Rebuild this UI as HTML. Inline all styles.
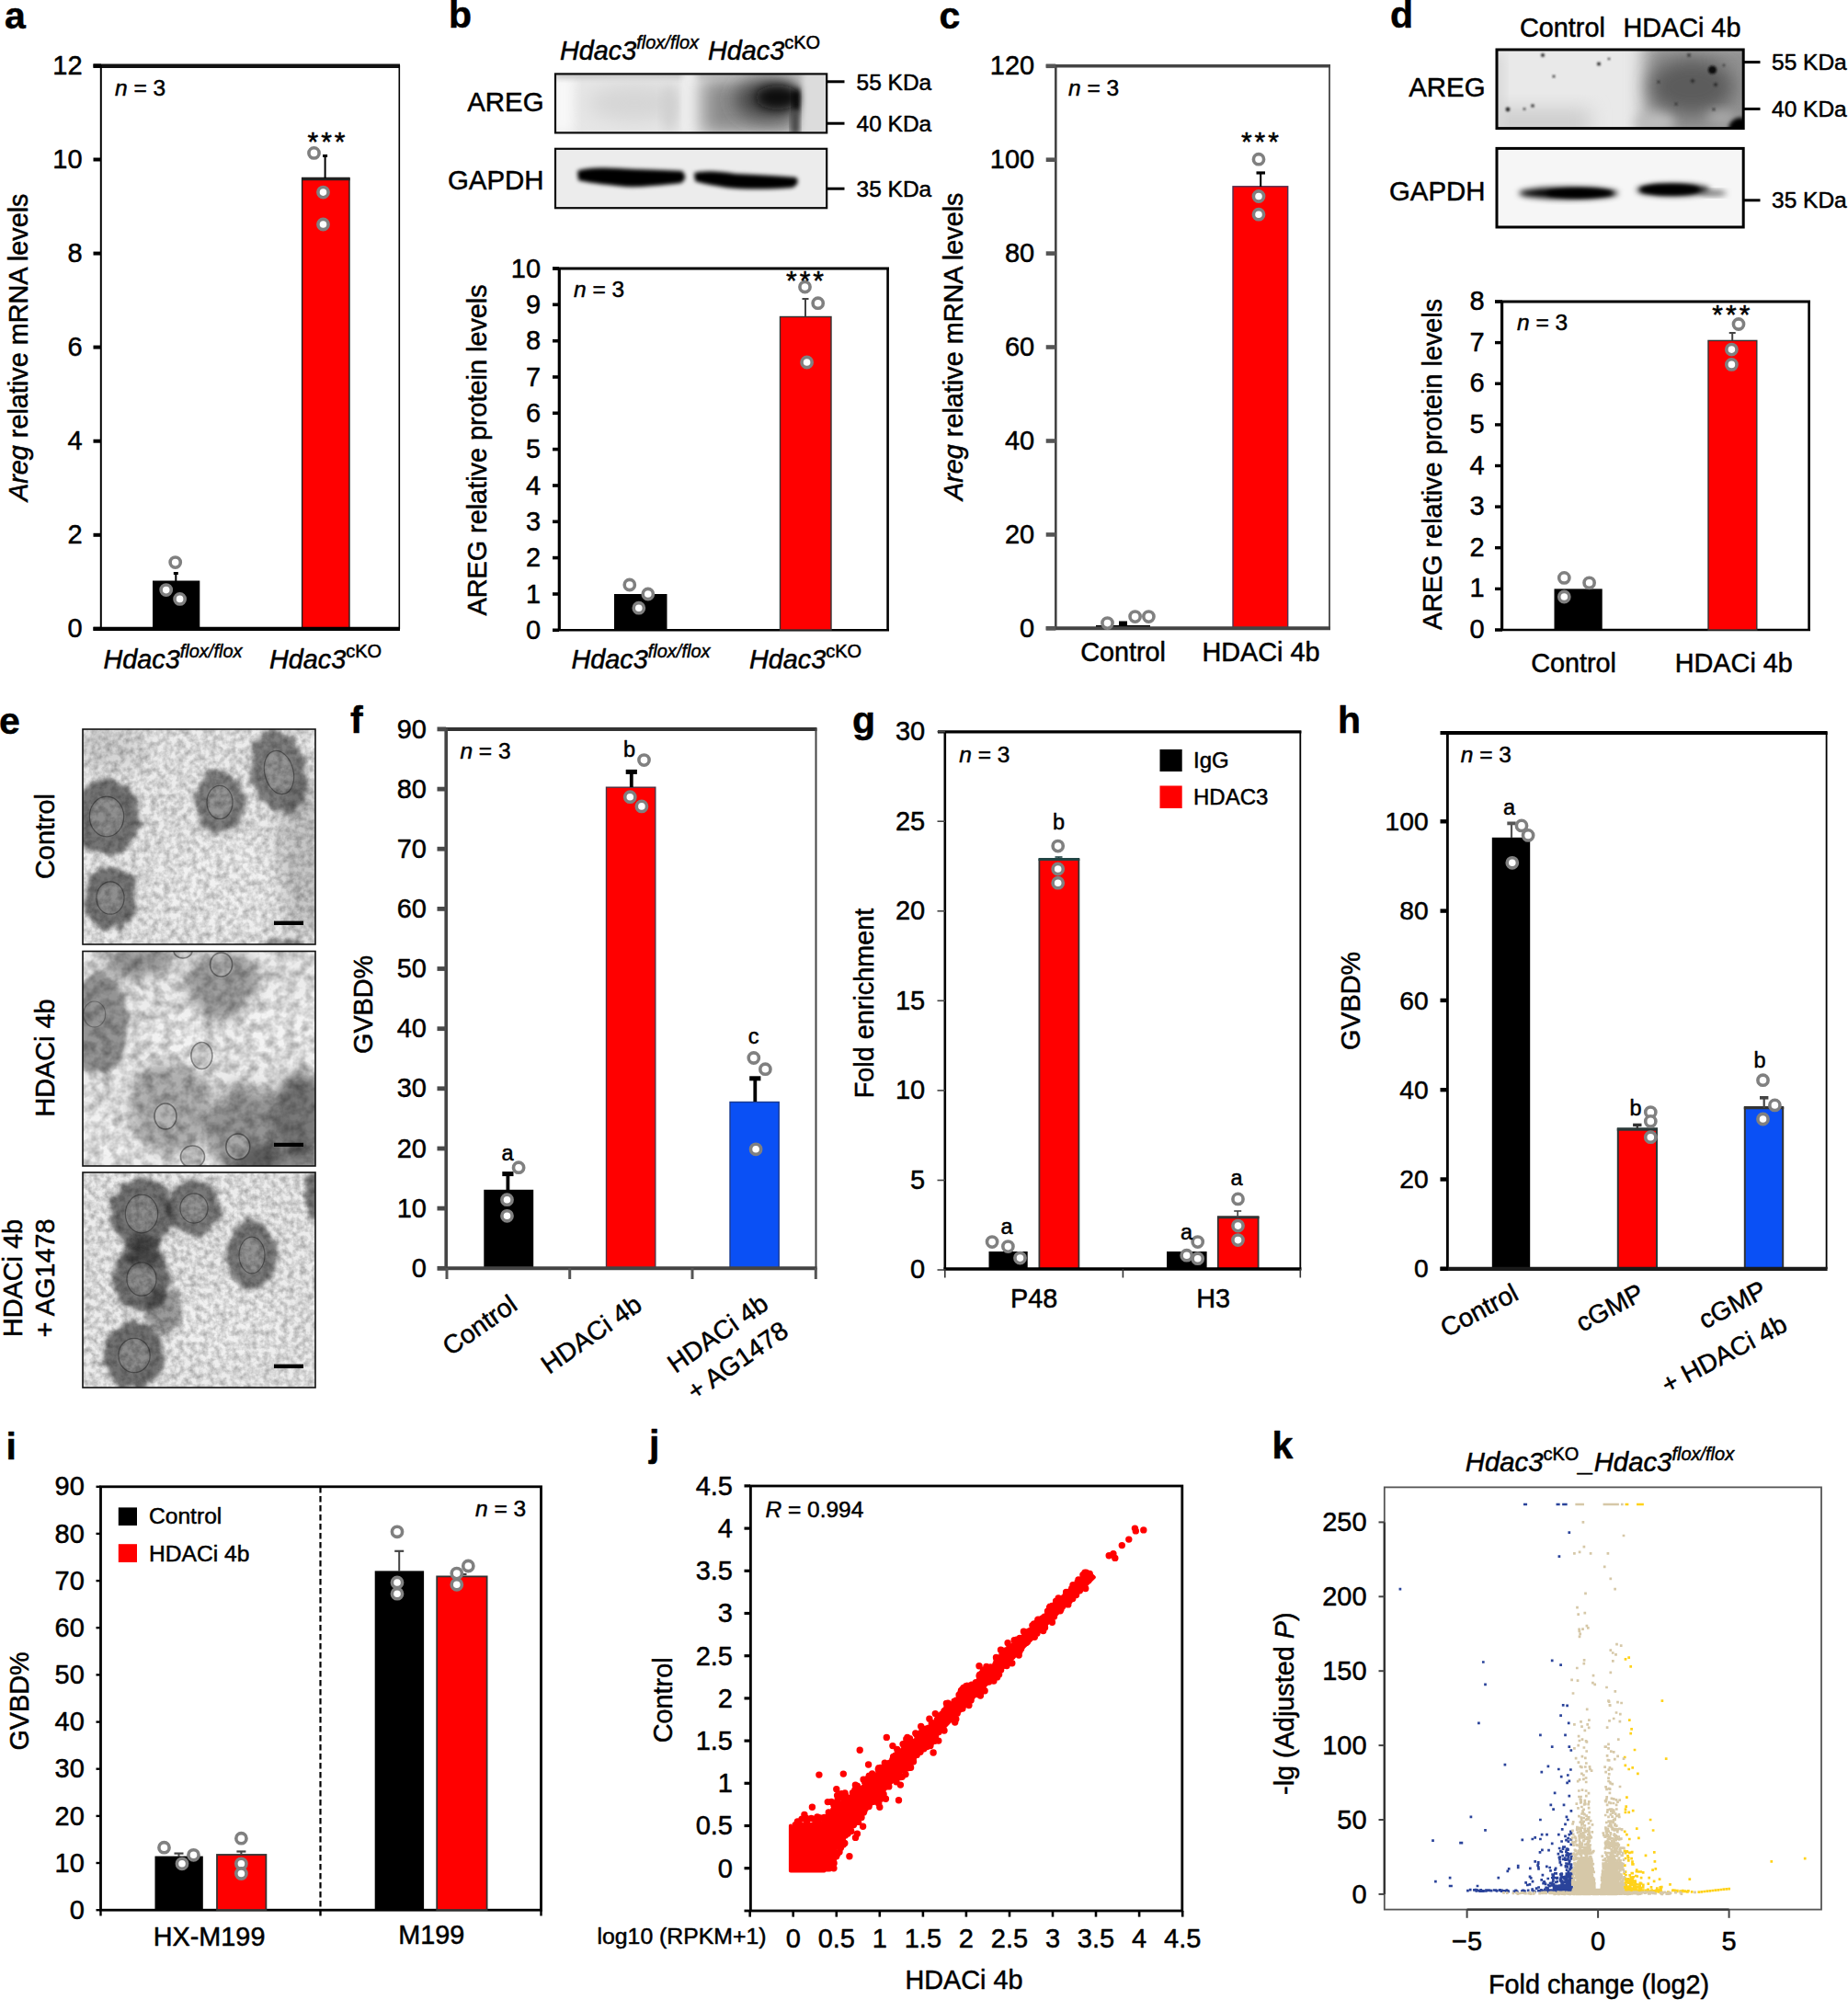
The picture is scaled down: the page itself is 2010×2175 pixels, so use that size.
<!DOCTYPE html>
<html lang="en"><head><meta charset="utf-8"><title>Figure</title>
<style>
html,body{margin:0;padding:0;background:#fff;}
body{width:2010px;height:2175px;overflow:hidden;}
svg{display:block;font-family:"Liberation Sans", sans-serif;}
text{stroke:#000;stroke-width:.5px;stroke-linejoin:round;}
</style></head><body>
<svg width="2010" height="2175" viewBox="0 0 2010 2175">
<rect width="2010" height="2175" fill="#fff"/>
<defs>
<filter id="bl2" x="-20%" y="-50%" width="140%" height="200%"><feGaussianBlur stdDeviation="2"/></filter>
<filter id="bl3" x="-20%" y="-50%" width="140%" height="200%"><feGaussianBlur stdDeviation="3.2"/></filter>
<filter id="bl6" x="-30%" y="-50%" width="160%" height="200%"><feGaussianBlur stdDeviation="6"/></filter>
<filter id="bl10" x="-30%" y="-50%" width="160%" height="200%"><feGaussianBlur stdDeviation="10"/></filter>
<filter id="bl1" x="-50%" y="-50%" width="200%" height="200%"><feGaussianBlur stdDeviation="1"/></filter>
<clipPath id="cpB1"><rect x="604" y="80.4" width="295.2" height="64"/></clipPath>
<clipPath id="cpB2"><rect x="604" y="161.8" width="295.2" height="64.4"/></clipPath>
<clipPath id="cpD1"><rect x="1628" y="54" width="268.2" height="85.6"/></clipPath>
<clipPath id="cpD2"><rect x="1628" y="161.4" width="268.2" height="85.6"/></clipPath>
</defs>
<text x="5.0" y="31.0" font-size="41" text-anchor="start" font-weight="bold" fill="#000">a</text>
<line x1="101.5" y1="71.7" x2="435.0" y2="71.7" stroke="#111" stroke-width="4.6"/>
<line x1="109.8" y1="71.0" x2="109.8" y2="684.0" stroke="#000" stroke-width="2"/>
<line x1="434.3" y1="71.0" x2="434.3" y2="684.0" stroke="#000" stroke-width="1.6"/>
<rect x="166.0" y="631.5" width="51.3" height="52.5" fill="#000"/>
<rect x="328.6" y="194.0" width="51.4" height="490.0" fill="#f00" stroke="#222" stroke-width="1.4"/>
<line x1="328.0" y1="194.5" x2="380.6" y2="194.5" stroke="#222" stroke-width="3.4"/>
<line x1="101.5" y1="683.8" x2="435.0" y2="683.8" stroke="#000" stroke-width="4.2"/>
<line x1="101.5" y1="683.8" x2="110.0" y2="683.8" stroke="#000" stroke-width="4"/>
<line x1="101.5" y1="581.8" x2="110.0" y2="581.8" stroke="#000" stroke-width="4"/>
<line x1="101.5" y1="479.7" x2="110.0" y2="479.7" stroke="#000" stroke-width="4"/>
<line x1="101.5" y1="377.6" x2="110.0" y2="377.6" stroke="#000" stroke-width="4"/>
<line x1="101.5" y1="275.6" x2="110.0" y2="275.6" stroke="#000" stroke-width="4"/>
<line x1="101.5" y1="173.5" x2="110.0" y2="173.5" stroke="#000" stroke-width="4"/>
<line x1="101.5" y1="71.5" x2="110.0" y2="71.5" stroke="#000" stroke-width="4"/>
<text x="89.6" y="693.4" font-size="29" text-anchor="end" fill="#000">0</text>
<text x="89.6" y="591.4" font-size="29" text-anchor="end" fill="#000">2</text>
<text x="89.6" y="489.3" font-size="29" text-anchor="end" fill="#000">4</text>
<text x="89.6" y="387.2" font-size="29" text-anchor="end" fill="#000">6</text>
<text x="89.6" y="285.2" font-size="29" text-anchor="end" fill="#000">8</text>
<text x="89.6" y="183.1" font-size="29" text-anchor="end" fill="#000">10</text>
<text x="89.6" y="81.1" font-size="29" text-anchor="end" fill="#000">12</text>
<text x="125.0" y="103.6" font-size="24.5" text-anchor="start" fill="#000"><tspan font-style="italic">n</tspan> = 3</text>
<line x1="191.3" y1="623.5" x2="191.3" y2="632.0" stroke="#000" stroke-width="2"/>
<line x1="188.8" y1="623.5" x2="193.8" y2="623.5" stroke="#000" stroke-width="3"/>
<line x1="353.6" y1="169.5" x2="353.6" y2="194.0" stroke="#000" stroke-width="2"/>
<line x1="351.1" y1="169.5" x2="356.1" y2="169.5" stroke="#000" stroke-width="3"/>
<circle cx="190.7" cy="611.6" r="5.6" fill="#fff" stroke="#808080" stroke-width="3.6"/>
<circle cx="180.7" cy="641.6" r="5.6" fill="#fff" stroke="#808080" stroke-width="3.6"/>
<circle cx="195.6" cy="651.4" r="5.6" fill="#fff" stroke="#808080" stroke-width="3.6"/>
<circle cx="341.5" cy="166.4" r="5.6" fill="#fff" stroke="#808080" stroke-width="3.6"/>
<circle cx="351.5" cy="209.1" r="5.6" fill="#fff" stroke="#808080" stroke-width="3.6"/>
<circle cx="351.5" cy="244.0" r="5.6" fill="#fff" stroke="#808080" stroke-width="3.6"/>
<text x="356.5" y="164.3" font-size="30" text-anchor="middle" fill="#000" letter-spacing="3">***</text>
<text x="112.5" y="727.0" font-size="28.8" text-anchor="start" font-style="italic" fill="#000">Hdac3<tspan font-size="20" dy="-12">flox/flox</tspan></text>
<text x="293.0" y="727.0" font-size="28.8" text-anchor="start" font-style="italic" fill="#000">Hdac3<tspan font-size="20" dy="-12" font-style="normal">cKO</tspan></text>
<text x="0" y="0" transform="translate(29.5 545.0) rotate(-90)" font-size="28.8" text-anchor="start" fill="#000"><tspan font-style="italic">Areg</tspan> relative mRNA levels</text>
<text x="488.0" y="30.0" font-size="41" text-anchor="start" font-weight="bold" fill="#000">b</text>
<text x="609.0" y="65.0" font-size="28.8" text-anchor="start" font-style="italic" fill="#000">Hdac3<tspan font-size="20" dy="-12">flox/flox</tspan></text>
<text x="770.0" y="65.0" font-size="28.8" text-anchor="start" font-style="italic" fill="#000">Hdac3<tspan font-size="20" dy="-12" font-style="normal">cKO</tspan></text>
<g clip-path="url(#cpB1)">
<rect x="604" y="80" width="296" height="65" fill="#e6e6e6"/>
<rect x="598" y="80" width="26" height="65" fill="#f8f8f8" filter="url(#bl6)"/>
<rect x="604" y="76" width="296" height="9" fill="#c4c4c4" filter="url(#bl3)"/>
<ellipse cx="690" cy="112" rx="50" ry="20" fill="#d6d6d6" filter="url(#bl10)"/>
<ellipse cx="728" cy="118" rx="8" ry="26" fill="#cfcfcf" filter="url(#bl6)"/>
<rect x="742" y="80" width="16" height="65" fill="#efefef" filter="url(#bl3)"/>
<rect x="764" y="86" width="106" height="60" fill="#8c8c8c" filter="url(#bl10)"/>
<ellipse cx="835" cy="108" rx="36" ry="22" fill="#444" filter="url(#bl10)"/>
<ellipse cx="846" cy="106" rx="24" ry="13" fill="#0c0c0c" filter="url(#bl6)"/>
<rect x="862" y="98" width="8" height="24" fill="#000" filter="url(#bl3)"/>
<rect x="860" y="120" width="10" height="26" fill="#444" filter="url(#bl3)"/>
<rect x="874" y="78" width="28" height="70" fill="#dcdcdc" filter="url(#bl3)"/>
</g>
<rect x="604.0" y="80.4" width="295.2" height="64.0" fill="none" stroke="#0a0a0a" stroke-width="2.2"/>
<g clip-path="url(#cpB2)">
<rect x="604" y="161" width="296" height="66" fill="#ececec"/>
<path d="M628 186 Q640 180 690 184 Q725 185 742 186 Q749 193 741 199 Q700 204 680 203 Q640 199 629 196 Z" fill="#000" filter="url(#bl2)"/>
<path d="M755 188 Q770 184 800 189 Q845 191 866 193 Q871 199 862 204 Q820 207 790 204 Q765 200 756 197 Z" fill="#000" filter="url(#bl2)"/>
</g>
<rect x="604.0" y="161.8" width="295.2" height="64.4" fill="none" stroke="#0a0a0a" stroke-width="2.2"/>
<text x="591.5" y="120.5" font-size="29.4" text-anchor="end" fill="#000">AREG</text>
<text x="591.5" y="206.0" font-size="29.4" text-anchor="end" fill="#000">GAPDH</text>
<line x1="899.0" y1="88.8" x2="918.5" y2="88.8" stroke="#000" stroke-width="3"/>
<text x="931.5" y="97.8" font-size="24.5" text-anchor="start" fill="#000">55 KDa</text>
<line x1="899.0" y1="134.2" x2="918.5" y2="134.2" stroke="#000" stroke-width="3"/>
<text x="931.5" y="143.2" font-size="24.5" text-anchor="start" fill="#000">40 KDa</text>
<line x1="899.0" y1="205.2" x2="918.5" y2="205.2" stroke="#000" stroke-width="3"/>
<text x="931.5" y="214.2" font-size="24.5" text-anchor="start" fill="#000">35 KDa</text>
<line x1="601.0" y1="292.0" x2="967.0" y2="292.0" stroke="#000" stroke-width="2.8"/>
<line x1="608.3" y1="291.0" x2="608.3" y2="686.0" stroke="#000" stroke-width="3.2"/>
<line x1="965.6" y1="291.0" x2="965.6" y2="686.0" stroke="#000" stroke-width="2.6"/>
<line x1="601.0" y1="685.3" x2="967.0" y2="685.3" stroke="#000" stroke-width="2.4"/>
<rect x="668.0" y="646.0" width="57.5" height="39.0" fill="#000"/>
<rect x="848.5" y="344.5" width="55.5" height="340.5" fill="#f00" stroke="#333" stroke-width="1.4"/>
<line x1="601.0" y1="685.3" x2="608.0" y2="685.3" stroke="#000" stroke-width="3.6"/>
<line x1="601.0" y1="646.0" x2="608.0" y2="646.0" stroke="#000" stroke-width="3.6"/>
<line x1="601.0" y1="606.6" x2="608.0" y2="606.6" stroke="#000" stroke-width="3.6"/>
<line x1="601.0" y1="567.3" x2="608.0" y2="567.3" stroke="#000" stroke-width="3.6"/>
<line x1="601.0" y1="528.0" x2="608.0" y2="528.0" stroke="#000" stroke-width="3.6"/>
<line x1="601.0" y1="488.6" x2="608.0" y2="488.6" stroke="#000" stroke-width="3.6"/>
<line x1="601.0" y1="449.3" x2="608.0" y2="449.3" stroke="#000" stroke-width="3.6"/>
<line x1="601.0" y1="410.0" x2="608.0" y2="410.0" stroke="#000" stroke-width="3.6"/>
<line x1="601.0" y1="370.7" x2="608.0" y2="370.7" stroke="#000" stroke-width="3.6"/>
<line x1="601.0" y1="331.3" x2="608.0" y2="331.3" stroke="#000" stroke-width="3.6"/>
<line x1="601.0" y1="292.0" x2="608.0" y2="292.0" stroke="#000" stroke-width="3.6"/>
<text x="588.1" y="694.9" font-size="29" text-anchor="end" fill="#000">0</text>
<text x="588.1" y="655.6" font-size="29" text-anchor="end" fill="#000">1</text>
<text x="588.1" y="616.2" font-size="29" text-anchor="end" fill="#000">2</text>
<text x="588.1" y="576.9" font-size="29" text-anchor="end" fill="#000">3</text>
<text x="588.1" y="537.6" font-size="29" text-anchor="end" fill="#000">4</text>
<text x="588.1" y="498.2" font-size="29" text-anchor="end" fill="#000">5</text>
<text x="588.1" y="458.9" font-size="29" text-anchor="end" fill="#000">6</text>
<text x="588.1" y="419.6" font-size="29" text-anchor="end" fill="#000">7</text>
<text x="588.1" y="380.3" font-size="29" text-anchor="end" fill="#000">8</text>
<text x="588.1" y="340.9" font-size="29" text-anchor="end" fill="#000">9</text>
<text x="588.1" y="301.6" font-size="29" text-anchor="end" fill="#000">10</text>
<text x="624.0" y="322.7" font-size="24.5" text-anchor="start" fill="#000"><tspan font-style="italic">n</tspan> = 3</text>
<line x1="876.0" y1="325.0" x2="876.0" y2="344.0" stroke="#444" stroke-width="2"/>
<line x1="872.5" y1="325.0" x2="879.5" y2="325.0" stroke="#444" stroke-width="2"/>
<circle cx="684.8" cy="636.0" r="5.6" fill="#fff" stroke="#808080" stroke-width="3.6"/>
<circle cx="704.8" cy="646.0" r="5.6" fill="#fff" stroke="#808080" stroke-width="3.6"/>
<circle cx="694.8" cy="661.2" r="5.6" fill="#fff" stroke="#808080" stroke-width="3.6"/>
<circle cx="875.5" cy="312.0" r="5.6" fill="#fff" stroke="#808080" stroke-width="3.6"/>
<circle cx="889.7" cy="329.7" r="5.6" fill="#fff" stroke="#808080" stroke-width="3.6"/>
<circle cx="877.6" cy="394.0" r="5.6" fill="#fff" stroke="#808080" stroke-width="3.6"/>
<text x="877.0" y="315.3" font-size="30" text-anchor="middle" fill="#000" letter-spacing="3">***</text>
<text x="621.5" y="726.5" font-size="28.8" text-anchor="start" font-style="italic" fill="#000">Hdac3<tspan font-size="20" dy="-12">flox/flox</tspan></text>
<text x="815.0" y="726.5" font-size="28.8" text-anchor="start" font-style="italic" fill="#000">Hdac3<tspan font-size="20" dy="-12" font-style="normal">cKO</tspan></text>
<text x="0" y="0" transform="translate(528.5 669.5) rotate(-90)" font-size="28.8" text-anchor="start" fill="#000">AREG relative protein levels</text>
<text x="1021.5" y="31.0" font-size="41" text-anchor="start" font-weight="bold" fill="#000">c</text>
<line x1="1137.7" y1="71.8" x2="1447.0" y2="71.8" stroke="#444" stroke-width="3.6"/>
<line x1="1148.3" y1="71.0" x2="1148.3" y2="684.0" stroke="#444" stroke-width="2.6"/>
<line x1="1446.0" y1="71.0" x2="1446.0" y2="684.0" stroke="#444" stroke-width="1.8"/>
<rect x="1341.0" y="202.8" width="59.7" height="480.2" fill="#f00" stroke="#503050" stroke-width="1.4"/>
<rect x="1192.0" y="680.0" width="59.0" height="3.0" fill="#000"/>
<rect x="1217.0" y="675.5" width="9.0" height="5.5" fill="#000"/>
<line x1="1137.7" y1="683.3" x2="1447.0" y2="683.3" stroke="#444" stroke-width="4"/>
<line x1="1137.7" y1="683.3" x2="1148.3" y2="683.3" stroke="#555" stroke-width="4.6"/>
<line x1="1137.7" y1="581.4" x2="1148.3" y2="581.4" stroke="#555" stroke-width="4.6"/>
<line x1="1137.7" y1="479.5" x2="1148.3" y2="479.5" stroke="#555" stroke-width="4.6"/>
<line x1="1137.7" y1="377.5" x2="1148.3" y2="377.5" stroke="#555" stroke-width="4.6"/>
<line x1="1137.7" y1="275.6" x2="1148.3" y2="275.6" stroke="#555" stroke-width="4.6"/>
<line x1="1137.7" y1="173.7" x2="1148.3" y2="173.7" stroke="#555" stroke-width="4.6"/>
<line x1="1137.7" y1="71.8" x2="1148.3" y2="71.8" stroke="#555" stroke-width="4.6"/>
<text x="1125.2" y="692.9" font-size="29" text-anchor="end" fill="#000">0</text>
<text x="1125.2" y="591.0" font-size="29" text-anchor="end" fill="#000">20</text>
<text x="1125.2" y="489.1" font-size="29" text-anchor="end" fill="#000">40</text>
<text x="1125.2" y="387.1" font-size="29" text-anchor="end" fill="#000">60</text>
<text x="1125.2" y="285.2" font-size="29" text-anchor="end" fill="#000">80</text>
<text x="1125.2" y="183.3" font-size="29" text-anchor="end" fill="#000">100</text>
<text x="1125.2" y="81.4" font-size="29" text-anchor="end" fill="#000">120</text>
<text x="1162.0" y="103.6" font-size="24.5" text-anchor="start" fill="#000"><tspan font-style="italic">n</tspan> = 3</text>
<line x1="1371.2" y1="188.0" x2="1371.2" y2="203.0" stroke="#000" stroke-width="2"/>
<line x1="1366.5" y1="188.0" x2="1376.0" y2="188.0" stroke="#000" stroke-width="3.2"/>
<circle cx="1204.5" cy="677.6" r="5.6" fill="#fff" stroke="#808080" stroke-width="3.6"/>
<circle cx="1234.6" cy="670.6" r="5.6" fill="#fff" stroke="#808080" stroke-width="3.6"/>
<circle cx="1249.4" cy="670.6" r="5.6" fill="#fff" stroke="#808080" stroke-width="3.6"/>
<circle cx="1369.0" cy="173.2" r="5.6" fill="#fff" stroke="#808080" stroke-width="3.6"/>
<circle cx="1369.0" cy="213.5" r="5.6" fill="#fff" stroke="#808080" stroke-width="3.6"/>
<circle cx="1369.0" cy="233.2" r="5.6" fill="#fff" stroke="#808080" stroke-width="3.6"/>
<text x="1371.9" y="164.3" font-size="30" text-anchor="middle" fill="#000" letter-spacing="3">***</text>
<text x="1221.6" y="719.0" font-size="28.8" text-anchor="middle" fill="#000">Control</text>
<text x="1371.5" y="719.0" font-size="28.8" text-anchor="middle" fill="#000">HDACi 4b</text>
<text x="0" y="0" transform="translate(1046.5 544.0) rotate(-90)" font-size="28.8" text-anchor="start" fill="#000"><tspan font-style="italic">Areg</tspan> relative mRNA levels</text>
<text x="1512.0" y="30.0" font-size="41" text-anchor="start" font-weight="bold" fill="#000">d</text>
<text x="1699.4" y="40.0" font-size="28.8" text-anchor="middle" fill="#000">Control</text>
<text x="1829.4" y="40.0" font-size="28.8" text-anchor="middle" fill="#000">HDACi 4b</text>
<g clip-path="url(#cpD1)">
<rect x="1627" y="52" width="271" height="90" fill="#e9e9e9"/>
<rect x="1620" y="118" width="110" height="30" fill="#cdcdcd" filter="url(#bl10)"/>
<rect x="1620" y="60" width="16" height="80" fill="#d8d8d8" filter="url(#bl6)"/>
<rect x="1788" y="44" width="125" height="110" fill="#909090" filter="url(#bl10)"/>
<ellipse cx="1840" cy="94" rx="46" ry="30" fill="#5c5c5c" filter="url(#bl10)"/>
<ellipse cx="1800" cy="134" rx="22" ry="12" fill="#bdbdbd" filter="url(#bl6)"/>
<ellipse cx="1872" cy="128" rx="16" ry="8" fill="#a8a8a8" filter="url(#bl6)"/>
<circle cx="1862.5" cy="76" r="4.6" fill="#111" filter="url(#bl1)"/>
<circle cx="1893" cy="141" r="13" fill="#000" filter="url(#bl2)"/>
<circle cx="1640" cy="119" r="2.4" fill="#2a2a2a" filter="url(#bl1)"/>
<circle cx="1667" cy="115" r="1.8" fill="#2a2a2a" filter="url(#bl1)"/>
<circle cx="1658" cy="118.5" r="1.3" fill="#2a2a2a" filter="url(#bl1)"/>
<circle cx="1739" cy="69.5" r="2.0" fill="#2a2a2a" filter="url(#bl1)"/>
<circle cx="1690" cy="83" r="1.5" fill="#2a2a2a" filter="url(#bl1)"/>
<circle cx="1678" cy="60" r="2.0" fill="#2a2a2a" filter="url(#bl1)"/>
<circle cx="1750" cy="64" r="1.3" fill="#2a2a2a" filter="url(#bl1)"/>
<circle cx="1804" cy="89" r="1.5" fill="#2a2a2a" filter="url(#bl1)"/>
<circle cx="1841" cy="88" r="2.0" fill="#2a2a2a" filter="url(#bl1)"/>
<circle cx="1866" cy="92" r="2.0" fill="#2a2a2a" filter="url(#bl1)"/>
<circle cx="1837" cy="60" r="1.8" fill="#2a2a2a" filter="url(#bl1)"/>
<circle cx="1823" cy="113" r="1.5" fill="#2a2a2a" filter="url(#bl1)"/>
<circle cx="1864" cy="119" r="1.4" fill="#2a2a2a" filter="url(#bl1)"/>
<circle cx="1875" cy="71" r="1.2" fill="#2a2a2a" filter="url(#bl1)"/>
</g>
<rect x="1628.0" y="54.0" width="268.2" height="85.6" fill="none" stroke="#000" stroke-width="3"/>
<g clip-path="url(#cpD2)">
<rect x="1627" y="160" width="271" height="90" fill="#f6f6f6"/>
<ellipse cx="1706" cy="210" rx="54" ry="6.5" fill="#000" filter="url(#bl3)"/>
<ellipse cx="1718" cy="210" rx="36" ry="5" fill="#000" filter="url(#bl2)"/>
<ellipse cx="1820" cy="206.5" rx="40" ry="6.5" fill="#000" filter="url(#bl3)"/>
<ellipse cx="1816" cy="206" rx="32" ry="5.6" fill="#000" filter="url(#bl2)"/>
<ellipse cx="1864" cy="210" rx="14" ry="3" fill="#6a6a6a" filter="url(#bl3)"/>
</g>
<rect x="1628.0" y="161.4" width="268.2" height="85.6" fill="none" stroke="#000" stroke-width="3"/>
<text x="1615.5" y="105.0" font-size="29.4" text-anchor="end" fill="#000">AREG</text>
<text x="1615.5" y="217.8" font-size="29.4" text-anchor="end" fill="#000">GAPDH</text>
<line x1="1897.0" y1="67.6" x2="1914.5" y2="67.6" stroke="#000" stroke-width="3"/>
<text x="1927.0" y="76.2" font-size="24.5" text-anchor="start" fill="#000">55 KDa</text>
<line x1="1897.0" y1="118.5" x2="1914.5" y2="118.5" stroke="#000" stroke-width="3"/>
<text x="1927.0" y="127.1" font-size="24.5" text-anchor="start" fill="#000">40 KDa</text>
<line x1="1897.0" y1="217.8" x2="1914.5" y2="217.8" stroke="#000" stroke-width="3"/>
<text x="1927.0" y="226.4" font-size="24.5" text-anchor="start" fill="#000">35 KDa</text>
<line x1="1626.0" y1="327.9" x2="1969.0" y2="327.9" stroke="#000" stroke-width="3"/>
<line x1="1633.6" y1="327.0" x2="1633.6" y2="686.0" stroke="#000" stroke-width="3.2"/>
<line x1="1967.6" y1="327.0" x2="1967.6" y2="686.0" stroke="#000" stroke-width="2.6"/>
<line x1="1626.0" y1="685.0" x2="1969.0" y2="685.0" stroke="#000" stroke-width="2.6"/>
<rect x="1690.5" y="640.4" width="52.2" height="44.6" fill="#000"/>
<rect x="1858.0" y="370.4" width="52.8" height="314.6" fill="#f00" stroke="#333" stroke-width="1.4"/>
<line x1="1626.0" y1="685.0" x2="1634.0" y2="685.0" stroke="#000" stroke-width="3.4"/>
<line x1="1626.0" y1="640.4" x2="1634.0" y2="640.4" stroke="#000" stroke-width="3.4"/>
<line x1="1626.0" y1="595.7" x2="1634.0" y2="595.7" stroke="#000" stroke-width="3.4"/>
<line x1="1626.0" y1="551.1" x2="1634.0" y2="551.1" stroke="#000" stroke-width="3.4"/>
<line x1="1626.0" y1="506.5" x2="1634.0" y2="506.5" stroke="#000" stroke-width="3.4"/>
<line x1="1626.0" y1="461.9" x2="1634.0" y2="461.9" stroke="#000" stroke-width="3.4"/>
<line x1="1626.0" y1="417.2" x2="1634.0" y2="417.2" stroke="#000" stroke-width="3.4"/>
<line x1="1626.0" y1="372.6" x2="1634.0" y2="372.6" stroke="#000" stroke-width="3.4"/>
<line x1="1626.0" y1="328.0" x2="1634.0" y2="328.0" stroke="#000" stroke-width="3.4"/>
<text x="1614.6" y="694.0" font-size="29" text-anchor="end" fill="#000">0</text>
<text x="1614.6" y="649.4" font-size="29" text-anchor="end" fill="#000">1</text>
<text x="1614.6" y="604.7" font-size="29" text-anchor="end" fill="#000">2</text>
<text x="1614.6" y="560.1" font-size="29" text-anchor="end" fill="#000">3</text>
<text x="1614.6" y="515.5" font-size="29" text-anchor="end" fill="#000">4</text>
<text x="1614.6" y="470.9" font-size="29" text-anchor="end" fill="#000">5</text>
<text x="1614.6" y="426.2" font-size="29" text-anchor="end" fill="#000">6</text>
<text x="1614.6" y="381.6" font-size="29" text-anchor="end" fill="#000">7</text>
<text x="1614.6" y="337.0" font-size="29" text-anchor="end" fill="#000">8</text>
<text x="1650.0" y="359.3" font-size="24.5" text-anchor="start" fill="#000"><tspan font-style="italic">n</tspan> = 3</text>
<line x1="1884.2" y1="362.0" x2="1884.2" y2="370.0" stroke="#444" stroke-width="2"/>
<line x1="1880.7" y1="362.0" x2="1887.7" y2="362.0" stroke="#444" stroke-width="2"/>
<circle cx="1701.3" cy="628.4" r="5.6" fill="#fff" stroke="#808080" stroke-width="3.6"/>
<circle cx="1728.6" cy="633.8" r="5.6" fill="#fff" stroke="#808080" stroke-width="3.6"/>
<circle cx="1701.3" cy="649.0" r="5.6" fill="#fff" stroke="#808080" stroke-width="3.6"/>
<circle cx="1891.0" cy="352.5" r="5.6" fill="#fff" stroke="#808080" stroke-width="3.6"/>
<circle cx="1883.4" cy="380.1" r="5.6" fill="#fff" stroke="#808080" stroke-width="3.6"/>
<circle cx="1883.4" cy="396.4" r="5.6" fill="#fff" stroke="#808080" stroke-width="3.6"/>
<text x="1884.3" y="352.3" font-size="30" text-anchor="middle" fill="#000" letter-spacing="3">***</text>
<text x="1711.6" y="731.2" font-size="28.8" text-anchor="middle" fill="#000">Control</text>
<text x="1885.8" y="731.2" font-size="28.8" text-anchor="middle" fill="#000">HDACi 4b</text>
<text x="0" y="0" transform="translate(1567.6 685.0) rotate(-90)" font-size="28.8" text-anchor="start" fill="#000">AREG relative protein levels</text>
<defs>
<filter id="texA" x="0" y="0" width="100%" height="100%" color-interpolation-filters="sRGB">
<feTurbulence type="fractalNoise" baseFrequency="0.14" numOctaves="3" seed="4"/>
<feColorMatrix type="matrix" values="1 0 0 0 0  1 0 0 0 0  1 0 0 0 0  0 0 0 0 1"/>
<feComponentTransfer><feFuncR type="linear" slope="0.52" intercept="0.65"/><feFuncG type="linear" slope="0.52" intercept="0.65"/><feFuncB type="linear" slope="0.52" intercept="0.65"/></feComponentTransfer>
</filter>
<filter id="texB" x="0" y="0" width="100%" height="100%" color-interpolation-filters="sRGB">
<feTurbulence type="fractalNoise" baseFrequency="0.09" numOctaves="3" seed="11"/>
<feColorMatrix type="matrix" values="1 0 0 0 0  1 0 0 0 0  1 0 0 0 0  0 0 0 0 1"/>
<feComponentTransfer><feFuncR type="linear" slope="0.6" intercept="0.60"/><feFuncG type="linear" slope="0.6" intercept="0.60"/><feFuncB type="linear" slope="0.6" intercept="0.60"/></feComponentTransfer>
</filter>
<filter id="texC" x="0" y="0" width="100%" height="100%" color-interpolation-filters="sRGB">
<feTurbulence type="fractalNoise" baseFrequency="0.15" numOctaves="3" seed="23"/>
<feColorMatrix type="matrix" values="1 0 0 0 0  1 0 0 0 0  1 0 0 0 0  0 0 0 0 1"/>
<feComponentTransfer><feFuncR type="linear" slope="0.52" intercept="0.65"/><feFuncG type="linear" slope="0.52" intercept="0.65"/><feFuncB type="linear" slope="0.52" intercept="0.65"/></feComponentTransfer>
</filter>
<filter id="rough" x="-20%" y="-20%" width="140%" height="140%">
<feTurbulence type="fractalNoise" baseFrequency="0.08" numOctaves="2" seed="7" result="t"/>
<feDisplacementMap in="SourceGraphic" in2="t" scale="14" xChannelSelector="R" yChannelSelector="G"/>
<feGaussianBlur stdDeviation="2.2"/>
</filter>
<filter id="soft" x="-30%" y="-30%" width="160%" height="160%">
<feTurbulence type="fractalNoise" baseFrequency="0.06" numOctaves="2" seed="9" result="t"/>
<feDisplacementMap in="SourceGraphic" in2="t" scale="20" xChannelSelector="R" yChannelSelector="G"/>
<feGaussianBlur stdDeviation="6"/>
</filter>
<clipPath id="cpE1"><rect x="90" y="793" width="253" height="234"/></clipPath>
<clipPath id="cpE2"><rect x="90" y="1034.5" width="253" height="233.5"/></clipPath>
<clipPath id="cpE3"><rect x="90" y="1275" width="253" height="234"/></clipPath>
</defs>
<text x="-1.0" y="798.0" font-size="41" text-anchor="start" font-weight="bold" fill="#000">e</text>
<g clip-path="url(#cpE1)">
<rect x="90" y="793" width="253" height="234" fill="#ececec"/>
<ellipse cx="240" cy="960" rx="70" ry="50" fill="#fff" opacity="0.3" filter="url(#bl10)"/>
<ellipse cx="330" cy="930" rx="26" ry="90" fill="#000" opacity="0.16" filter="url(#bl10)"/>
<ellipse cx="120" cy="815" rx="40" ry="22" fill="#000" opacity="0.10" filter="url(#bl10)"/>
<ellipse cx="116" cy="888" rx="36" ry="42" fill="#1a1a1a" opacity="0.57" filter="url(#rough)"/>
<ellipse cx="116" cy="888" rx="18.0" ry="21.0" fill="#bbb" opacity="0.38" filter="url(#bl2)"/>
<ellipse cx="116" cy="888" rx="18.7" ry="21.8" fill="none" stroke="#222" stroke-width="1.2" opacity="0.5"/>
<ellipse cx="120" cy="976.5" rx="29" ry="34" fill="#1a1a1a" opacity="0.57" filter="url(#rough)"/>
<ellipse cx="120" cy="976.5" rx="14.5" ry="17.0" fill="#bbb" opacity="0.38" filter="url(#bl2)"/>
<ellipse cx="120" cy="976.5" rx="15.1" ry="17.7" fill="none" stroke="#222" stroke-width="1.2" opacity="0.5"/>
<ellipse cx="239" cy="872.5" rx="27" ry="35" fill="#1a1a1a" opacity="0.52" filter="url(#rough)"/>
<ellipse cx="239" cy="872.5" rx="13.5" ry="17.5" fill="#bbb" opacity="0.38" filter="url(#bl2)"/>
<ellipse cx="239" cy="872.5" rx="14.0" ry="18.2" fill="none" stroke="#222" stroke-width="1.2" opacity="0.5"/>
<ellipse cx="303.5" cy="840" rx="30" ry="46" fill="#1a1a1a" opacity="0.52" filter="url(#rough)" transform="rotate(-14 303.5 840)"/>
<ellipse cx="303.5" cy="840" rx="15.0" ry="23.0" fill="#bbb" opacity="0.38" filter="url(#bl2)" transform="rotate(-14 303.5 840)"/>
<ellipse cx="303.5" cy="840" rx="15.6" ry="23.9" fill="none" stroke="#222" stroke-width="1.2" opacity="0.5" transform="rotate(-14 303.5 840)"/>
<ellipse cx="310" cy="1032" rx="24" ry="12" fill="#1a1a1a" opacity="0.41" filter="url(#rough)"/>
<rect x="90" y="793" width="253" height="234" filter="url(#texA)" style="mix-blend-mode:multiply"/>
</g>
<rect x="90.0" y="793.0" width="253.0" height="234.0" fill="none" stroke="#111" stroke-width="1.6"/>
<rect x="298.0" y="1001.6" width="32.0" height="4.4" fill="#000"/>
<g clip-path="url(#cpE2)">
<rect x="90" y="1034.5" width="253" height="233.5" fill="#ececec"/>
<ellipse cx="300" cy="1120" rx="50" ry="40" fill="#fff" opacity="0.4" filter="url(#bl10)"/>
<ellipse cx="200" cy="1130" rx="40" ry="30" fill="#fff" opacity="0.4" filter="url(#bl10)"/>
<ellipse cx="125" cy="1235" rx="36" ry="32" fill="#fff" opacity="0.4" filter="url(#bl10)"/>
<ellipse cx="106" cy="1113" rx="34" ry="55" fill="#1a1a1a" opacity="0.42" filter="url(#rough)"/>
<ellipse cx="102.7" cy="1103" rx="12" ry="14" fill="#999" opacity="0.35" stroke="#222" stroke-width="1.2"/>
<ellipse cx="152" cy="1048" rx="36" ry="17" fill="#1a1a1a" opacity="0.41" filter="url(#soft)"/>
<ellipse cx="242" cy="1070" rx="40" ry="35" fill="#1a1a1a" opacity="0.37" filter="url(#soft)"/>
<ellipse cx="186" cy="1206" rx="45" ry="50" fill="#1a1a1a" opacity="0.29" filter="url(#soft)"/>
<ellipse cx="268" cy="1228" rx="42" ry="48" fill="#1a1a1a" opacity="0.42" filter="url(#soft)"/>
<ellipse cx="328" cy="1212" rx="30" ry="45" fill="#1a1a1a" opacity="0.55" filter="url(#soft)"/>
<ellipse cx="300" cy="1262" rx="50" ry="16" fill="#1a1a1a" opacity="0.46" filter="url(#soft)"/>
<ellipse cx="219.4" cy="1148" rx="11.5" ry="14.5" fill="#bbb" opacity="0.55" stroke="#333" stroke-width="1.6"/>
<ellipse cx="180" cy="1214" rx="12" ry="14" fill="#bbb" opacity="0.55" stroke="#333" stroke-width="1.6"/>
<ellipse cx="240.6" cy="1049" rx="12" ry="13" fill="#bbb" opacity="0.55" stroke="#333" stroke-width="1.6"/>
<ellipse cx="209.5" cy="1258" rx="13" ry="12" fill="#bbb" opacity="0.55" stroke="#333" stroke-width="1.6"/>
<ellipse cx="258.8" cy="1247" rx="13" ry="14" fill="#bbb" opacity="0.55" stroke="#333" stroke-width="1.6"/>
<ellipse cx="199" cy="1034" rx="10" ry="8" fill="#bbb" opacity="0.55" stroke="#333" stroke-width="1.6"/>
<rect x="90" y="1034.5" width="253" height="233.5" filter="url(#texB)" style="mix-blend-mode:multiply"/>
</g>
<rect x="90.0" y="1034.5" width="253.0" height="233.5" fill="none" stroke="#111" stroke-width="1.6"/>
<rect x="298.0" y="1242.8" width="32.0" height="4.2" fill="#000"/>
<g clip-path="url(#cpE3)">
<rect x="90" y="1275" width="253" height="234" fill="#ececec"/>
<ellipse cx="250" cy="1440" rx="60" ry="40" fill="#fff" opacity="0.3" filter="url(#bl10)"/>
<ellipse cx="154" cy="1320" rx="34" ry="40" fill="#1a1a1a" opacity="0.59" filter="url(#rough)"/>
<ellipse cx="154" cy="1320" rx="17.0" ry="20.0" fill="#bbb" opacity="0.38" filter="url(#bl2)"/>
<ellipse cx="154" cy="1320" rx="17.7" ry="20.8" fill="none" stroke="#222" stroke-width="1.2" opacity="0.5"/>
<ellipse cx="211" cy="1314" rx="29" ry="31" fill="#1a1a1a" opacity="0.55" filter="url(#rough)"/>
<ellipse cx="211" cy="1314" rx="14.5" ry="15.5" fill="#bbb" opacity="0.38" filter="url(#bl2)"/>
<ellipse cx="211" cy="1314" rx="15.1" ry="16.1" fill="none" stroke="#222" stroke-width="1.2" opacity="0.5"/>
<ellipse cx="155" cy="1360" rx="20" ry="20" fill="#1a1a1a" opacity="0.46" filter="url(#rough)"/>
<ellipse cx="154" cy="1391" rx="31" ry="35" fill="#1a1a1a" opacity="0.59" filter="url(#rough)"/>
<ellipse cx="154" cy="1391" rx="15.5" ry="17.5" fill="#bbb" opacity="0.38" filter="url(#bl2)"/>
<ellipse cx="154" cy="1391" rx="16.1" ry="18.2" fill="none" stroke="#222" stroke-width="1.2" opacity="0.5"/>
<ellipse cx="178" cy="1425" rx="20" ry="25" fill="#1a1a1a" opacity="0.39" filter="url(#rough)"/>
<ellipse cx="274" cy="1365" rx="27" ry="38" fill="#1a1a1a" opacity="0.55" filter="url(#rough)"/>
<ellipse cx="274" cy="1365" rx="13.5" ry="19.0" fill="#bbb" opacity="0.38" filter="url(#bl2)"/>
<ellipse cx="274" cy="1365" rx="14.0" ry="19.8" fill="none" stroke="#222" stroke-width="1.2" opacity="0.5"/>
<ellipse cx="146" cy="1474" rx="33" ry="36" fill="#1a1a1a" opacity="0.59" filter="url(#rough)"/>
<ellipse cx="146" cy="1474" rx="16.5" ry="18.0" fill="#bbb" opacity="0.38" filter="url(#bl2)"/>
<ellipse cx="146" cy="1474" rx="17.2" ry="18.7" fill="none" stroke="#222" stroke-width="1.2" opacity="0.5"/>
<ellipse cx="343" cy="1300" rx="10" ry="26" fill="#1a1a1a" opacity="0.57" filter="url(#rough)"/>
<rect x="90" y="1275" width="253" height="234" filter="url(#texC)" style="mix-blend-mode:multiply"/>
</g>
<rect x="90.0" y="1275.0" width="253.0" height="234.0" fill="none" stroke="#111" stroke-width="1.6"/>
<rect x="298.0" y="1483.6" width="32.0" height="4.4" fill="#000"/>
<text x="0" y="0" transform="translate(58.6 909.5) rotate(-90)" font-size="28.8" text-anchor="middle" fill="#000">Control</text>
<text x="0" y="0" transform="translate(59.0 1150.5) rotate(-90)" font-size="28.8" text-anchor="middle" fill="#000">HDACi 4b</text>
<text x="0" y="0" transform="translate(24.2 1390.0) rotate(-90)" font-size="28.8" text-anchor="middle" fill="#000">HDACi 4b</text>
<text x="0" y="0" transform="translate(59.0 1390.0) rotate(-90)" font-size="28.8" text-anchor="middle" fill="#000">+ AG1478</text>
<text x="381.0" y="796.5" font-size="41" text-anchor="start" font-weight="bold" fill="#000">f</text>
<line x1="476.0" y1="793.0" x2="888.5" y2="793.0" stroke="#333" stroke-width="4.2"/>
<line x1="485.2" y1="792.0" x2="485.2" y2="1380.0" stroke="#444" stroke-width="3.6"/>
<line x1="887.5" y1="792.0" x2="887.5" y2="1380.0" stroke="#444" stroke-width="2"/>
<rect x="526.3" y="1293.8" width="53.9" height="85.2" fill="#000"/>
<rect x="659.5" y="856.2" width="53.3" height="522.8" fill="#f00" stroke="#503040" stroke-width="1.4"/>
<rect x="794.0" y="1198.5" width="53.2" height="180.5" fill="#0a50f5" stroke="#1a3a90" stroke-width="1.4"/>
<line x1="476.0" y1="1379.3" x2="888.5" y2="1379.3" stroke="#444" stroke-width="4"/>
<line x1="475.5" y1="1379.3" x2="485.0" y2="1379.3" stroke="#4a4a4a" stroke-width="4.8"/>
<line x1="475.5" y1="1314.1" x2="485.0" y2="1314.1" stroke="#4a4a4a" stroke-width="4.8"/>
<line x1="475.5" y1="1249.0" x2="485.0" y2="1249.0" stroke="#4a4a4a" stroke-width="4.8"/>
<line x1="475.5" y1="1183.8" x2="485.0" y2="1183.8" stroke="#4a4a4a" stroke-width="4.8"/>
<line x1="475.5" y1="1118.7" x2="485.0" y2="1118.7" stroke="#4a4a4a" stroke-width="4.8"/>
<line x1="475.5" y1="1053.5" x2="485.0" y2="1053.5" stroke="#4a4a4a" stroke-width="4.8"/>
<line x1="475.5" y1="988.4" x2="485.0" y2="988.4" stroke="#4a4a4a" stroke-width="4.8"/>
<line x1="475.5" y1="923.2" x2="485.0" y2="923.2" stroke="#4a4a4a" stroke-width="4.8"/>
<line x1="475.5" y1="858.1" x2="485.0" y2="858.1" stroke="#4a4a4a" stroke-width="4.8"/>
<line x1="475.5" y1="792.9" x2="485.0" y2="792.9" stroke="#4a4a4a" stroke-width="4.8"/>
<line x1="486.0" y1="1379.0" x2="486.0" y2="1391.0" stroke="#555" stroke-width="3"/>
<line x1="619.7" y1="1379.0" x2="619.7" y2="1391.0" stroke="#555" stroke-width="3"/>
<line x1="753.0" y1="1379.0" x2="753.0" y2="1391.0" stroke="#555" stroke-width="3"/>
<line x1="887.3" y1="1379.0" x2="887.3" y2="1391.0" stroke="#555" stroke-width="3"/>
<text x="463.9" y="1388.9" font-size="29" text-anchor="end" fill="#000">0</text>
<text x="463.9" y="1323.7" font-size="29" text-anchor="end" fill="#000">10</text>
<text x="463.9" y="1258.6" font-size="29" text-anchor="end" fill="#000">20</text>
<text x="463.9" y="1193.4" font-size="29" text-anchor="end" fill="#000">30</text>
<text x="463.9" y="1128.3" font-size="29" text-anchor="end" fill="#000">40</text>
<text x="463.9" y="1063.1" font-size="29" text-anchor="end" fill="#000">50</text>
<text x="463.9" y="998.0" font-size="29" text-anchor="end" fill="#000">60</text>
<text x="463.9" y="932.8" font-size="29" text-anchor="end" fill="#000">70</text>
<text x="463.9" y="867.7" font-size="29" text-anchor="end" fill="#000">80</text>
<text x="463.9" y="802.5" font-size="29" text-anchor="end" fill="#000">90</text>
<text x="500.4" y="825.0" font-size="24.5" text-anchor="start" fill="#000"><tspan font-style="italic">n</tspan> = 3</text>
<line x1="552.4" y1="1276.6" x2="552.4" y2="1294.0" stroke="#000" stroke-width="3.8"/>
<line x1="546.3" y1="1276.6" x2="558.5" y2="1276.6" stroke="#000" stroke-width="5"/>
<line x1="686.8" y1="839.4" x2="686.8" y2="856.0" stroke="#000" stroke-width="3.8"/>
<line x1="680.7" y1="839.4" x2="692.9" y2="839.4" stroke="#000" stroke-width="5"/>
<line x1="821.3" y1="1172.8" x2="821.3" y2="1198.0" stroke="#000" stroke-width="3.8"/>
<line x1="815.2" y1="1172.8" x2="827.4" y2="1172.8" stroke="#000" stroke-width="5"/>
<circle cx="564.1" cy="1269.7" r="5.6" fill="#fff" stroke="#808080" stroke-width="3.6"/>
<circle cx="551.5" cy="1304.7" r="5.6" fill="#fff" stroke="#808080" stroke-width="3.6"/>
<circle cx="551.5" cy="1322.3" r="5.6" fill="#fff" stroke="#808080" stroke-width="3.6"/>
<circle cx="700.5" cy="826.6" r="5.6" fill="#fff" stroke="#808080" stroke-width="3.6"/>
<circle cx="685.3" cy="866.7" r="5.6" fill="#fff" stroke="#808080" stroke-width="3.6"/>
<circle cx="697.9" cy="876.9" r="5.6" fill="#fff" stroke="#808080" stroke-width="3.6"/>
<circle cx="819.8" cy="1150.5" r="5.6" fill="#fff" stroke="#808080" stroke-width="3.6"/>
<circle cx="832.4" cy="1162.7" r="5.6" fill="#fff" stroke="#808080" stroke-width="3.6"/>
<circle cx="822.1" cy="1249.8" r="5.6" fill="#fff" stroke="#808080" stroke-width="3.6"/>
<text x="552.0" y="1261.5" font-size="23.5" text-anchor="middle" fill="#000">a</text>
<text x="684.6" y="823.4" font-size="23.5" text-anchor="middle" fill="#000">b</text>
<text x="819.5" y="1134.6" font-size="23.5" text-anchor="middle" fill="#000">c</text>
<text x="0" y="0" transform="translate(564.5 1423.0) rotate(-35)" font-size="28.2" text-anchor="end" fill="#000">Control</text>
<text x="0" y="0" transform="translate(700.0 1423.0) rotate(-35)" font-size="28.2" text-anchor="end" fill="#000">HDACi 4b</text>
<text x="0" y="0" transform="translate(837.5 1422.0) rotate(-35)" font-size="28.2" text-anchor="end" fill="#000">HDACi 4b</text>
<text x="0" y="0" transform="translate(859.4 1451.5) rotate(-35)" font-size="28.2" text-anchor="end" fill="#000">+ AG1478</text>
<text x="0" y="0" transform="translate(404.8 1092.4) rotate(-90)" font-size="28.8" text-anchor="middle" fill="#000">GVBD%</text>
<text x="927.0" y="796.5" font-size="41" text-anchor="start" font-weight="bold" fill="#000">g</text>
<line x1="1020.0" y1="795.8" x2="1415.4" y2="795.8" stroke="#000" stroke-width="3.2"/>
<line x1="1027.8" y1="795.0" x2="1027.8" y2="1381.0" stroke="#000" stroke-width="2.6"/>
<line x1="1414.3" y1="795.0" x2="1414.3" y2="1381.0" stroke="#000" stroke-width="1.8"/>
<rect x="1075.5" y="1361.0" width="42.2" height="19.0" fill="#000"/>
<rect x="1130.4" y="935.0" width="43.0" height="445.0" fill="#f00" stroke="#333" stroke-width="1.8"/>
<line x1="1129.5" y1="934.6" x2="1174.3" y2="934.6" stroke="#244" stroke-width="3"/>
<rect x="1269.0" y="1361.0" width="43.6" height="19.0" fill="#000"/>
<rect x="1324.8" y="1324.0" width="43.8" height="56.0" fill="#f00" stroke="#333" stroke-width="1.8"/>
<line x1="1324.0" y1="1323.8" x2="1369.5" y2="1323.8" stroke="#333" stroke-width="3"/>
<line x1="1026.5" y1="1380.0" x2="1415.4" y2="1380.0" stroke="#000" stroke-width="3.6"/>
<line x1="1019.5" y1="1381.0" x2="1028.0" y2="1381.0" stroke="#444" stroke-width="1.6"/>
<line x1="1019.5" y1="1283.5" x2="1028.0" y2="1283.5" stroke="#444" stroke-width="1.6"/>
<line x1="1019.5" y1="1185.9" x2="1028.0" y2="1185.9" stroke="#444" stroke-width="1.6"/>
<line x1="1019.5" y1="1088.3" x2="1028.0" y2="1088.3" stroke="#444" stroke-width="1.6"/>
<line x1="1019.5" y1="990.8" x2="1028.0" y2="990.8" stroke="#444" stroke-width="1.6"/>
<line x1="1019.5" y1="893.2" x2="1028.0" y2="893.2" stroke="#444" stroke-width="1.6"/>
<line x1="1019.5" y1="795.7" x2="1028.0" y2="795.7" stroke="#444" stroke-width="1.6"/>
<line x1="1027.8" y1="1380.0" x2="1027.8" y2="1389.5" stroke="#333" stroke-width="1.6"/>
<line x1="1221.4" y1="1380.0" x2="1221.4" y2="1389.5" stroke="#333" stroke-width="1.6"/>
<line x1="1414.3" y1="1380.0" x2="1414.3" y2="1389.5" stroke="#333" stroke-width="1.6"/>
<text x="1006.2" y="1390.2" font-size="29" text-anchor="end" fill="#000">0</text>
<text x="1006.2" y="1292.7" font-size="29" text-anchor="end" fill="#000">5</text>
<text x="1006.2" y="1195.2" font-size="29" text-anchor="end" fill="#000">10</text>
<text x="1006.2" y="1097.7" font-size="29" text-anchor="end" fill="#000">15</text>
<text x="1006.2" y="1000.2" font-size="29" text-anchor="end" fill="#000">20</text>
<text x="1006.2" y="902.7" font-size="29" text-anchor="end" fill="#000">25</text>
<text x="1006.2" y="805.2" font-size="29" text-anchor="end" fill="#000">30</text>
<text x="1043.2" y="828.7" font-size="24.5" text-anchor="start" fill="#000"><tspan font-style="italic">n</tspan> = 3</text>
<rect x="1261.5" y="815.0" width="24.2" height="24.0" fill="#000"/>
<rect x="1261.5" y="854.5" width="24.2" height="24.5" fill="#f00"/>
<text x="1298.0" y="835.4" font-size="24" text-anchor="start" fill="#000">IgG</text>
<text x="1298.0" y="874.8" font-size="24" text-anchor="start" fill="#000">HDAC3</text>
<line x1="1346.2" y1="1317.0" x2="1346.2" y2="1324.0" stroke="#444" stroke-width="1.6"/>
<line x1="1342.2" y1="1317.0" x2="1350.2" y2="1317.0" stroke="#444" stroke-width="1.6"/>
<line x1="1151.5" y1="932.0" x2="1151.5" y2="935.0" stroke="#244" stroke-width="1.6"/>
<line x1="1147.5" y1="932.0" x2="1155.5" y2="932.0" stroke="#244" stroke-width="1.6"/>
<circle cx="1150.7" cy="920.1" r="5.6" fill="#fff" stroke="#808080" stroke-width="3.6"/>
<circle cx="1150.7" cy="945.0" r="5.6" fill="#fff" stroke="#808080" stroke-width="3.6"/>
<circle cx="1150.7" cy="960.2" r="5.6" fill="#fff" stroke="#808080" stroke-width="3.6"/>
<circle cx="1079.1" cy="1350.6" r="5.6" fill="#fff" stroke="#808080" stroke-width="3.6"/>
<circle cx="1096.4" cy="1355.6" r="5.6" fill="#fff" stroke="#808080" stroke-width="3.6"/>
<circle cx="1109.5" cy="1368.1" r="5.6" fill="#fff" stroke="#808080" stroke-width="3.6"/>
<circle cx="1290.7" cy="1365.2" r="5.6" fill="#fff" stroke="#808080" stroke-width="3.6"/>
<circle cx="1302.7" cy="1350.6" r="5.6" fill="#fff" stroke="#808080" stroke-width="3.6"/>
<circle cx="1302.7" cy="1368.7" r="5.6" fill="#fff" stroke="#808080" stroke-width="3.6"/>
<circle cx="1346.5" cy="1303.9" r="5.6" fill="#fff" stroke="#808080" stroke-width="3.6"/>
<circle cx="1346.5" cy="1333.1" r="5.6" fill="#fff" stroke="#808080" stroke-width="3.6"/>
<circle cx="1346.5" cy="1348.6" r="5.6" fill="#fff" stroke="#808080" stroke-width="3.6"/>
<text x="1151.5" y="901.7" font-size="23.5" text-anchor="middle" fill="#000">b</text>
<text x="1095.0" y="1341.8" font-size="23.5" text-anchor="middle" fill="#000">a</text>
<text x="1290.5" y="1347.7" font-size="23.5" text-anchor="middle" fill="#000">a</text>
<text x="1345.0" y="1289.3" font-size="23.5" text-anchor="middle" fill="#000">a</text>
<text x="1124.7" y="1421.6" font-size="28.8" text-anchor="middle" fill="#000">P48</text>
<text x="1319.6" y="1421.6" font-size="28.8" text-anchor="middle" fill="#000">H3</text>
<text x="0" y="0" transform="translate(950.3 1091.0) rotate(-90)" font-size="28.8" text-anchor="middle" fill="#000">Fold enrichment</text>
<text x="1455.0" y="797.0" font-size="41" text-anchor="start" font-weight="bold" fill="#000">h</text>
<line x1="1566.5" y1="797.0" x2="1987.6" y2="797.0" stroke="#000" stroke-width="4.2"/>
<line x1="1574.4" y1="796.0" x2="1574.4" y2="1380.0" stroke="#000" stroke-width="2.8"/>
<line x1="1986.6" y1="796.0" x2="1986.6" y2="1380.0" stroke="#000" stroke-width="1.8"/>
<rect x="1622.8" y="910.8" width="41.4" height="469.2" fill="#000"/>
<rect x="1759.8" y="1228.0" width="42.2" height="152.0" fill="#f00" stroke="#2a3838" stroke-width="2"/>
<line x1="1758.8" y1="1228.0" x2="1803.0" y2="1228.0" stroke="#2a3838" stroke-width="3.4"/>
<rect x="1897.8" y="1205.0" width="41.4" height="175.0" fill="#0a50f5" stroke="#333" stroke-width="2"/>
<line x1="1896.8" y1="1204.6" x2="1940.2" y2="1204.6" stroke="#333" stroke-width="3.4"/>
<line x1="1566.5" y1="1379.8" x2="1987.6" y2="1379.8" stroke="#1a1a1a" stroke-width="4.2"/>
<line x1="1566.5" y1="1379.8" x2="1575.0" y2="1379.8" stroke="#000" stroke-width="4.4"/>
<line x1="1566.5" y1="1282.5" x2="1575.0" y2="1282.5" stroke="#000" stroke-width="4.4"/>
<line x1="1566.5" y1="1185.2" x2="1575.0" y2="1185.2" stroke="#000" stroke-width="4.4"/>
<line x1="1566.5" y1="1087.9" x2="1575.0" y2="1087.9" stroke="#000" stroke-width="4.4"/>
<line x1="1566.5" y1="990.6" x2="1575.0" y2="990.6" stroke="#000" stroke-width="4.4"/>
<line x1="1566.5" y1="893.3" x2="1575.0" y2="893.3" stroke="#000" stroke-width="4.4"/>
<text x="1553.6" y="1389.4" font-size="28.2" text-anchor="end" fill="#000">0</text>
<text x="1553.6" y="1292.1" font-size="28.2" text-anchor="end" fill="#000">20</text>
<text x="1553.6" y="1194.8" font-size="28.2" text-anchor="end" fill="#000">40</text>
<text x="1553.6" y="1097.5" font-size="28.2" text-anchor="end" fill="#000">60</text>
<text x="1553.6" y="1000.2" font-size="28.2" text-anchor="end" fill="#000">80</text>
<text x="1553.6" y="902.9" font-size="28.2" text-anchor="end" fill="#000">100</text>
<text x="1588.7" y="828.5" font-size="24.5" text-anchor="start" fill="#000"><tspan font-style="italic">n</tspan> = 3</text>
<line x1="1644.0" y1="895.4" x2="1644.0" y2="911.0" stroke="#555" stroke-width="2.2"/>
<line x1="1639.3" y1="895.4" x2="1648.7" y2="895.4" stroke="#555" stroke-width="3.8"/>
<line x1="1780.8" y1="1223.4" x2="1780.8" y2="1228.0" stroke="#333" stroke-width="2.2"/>
<line x1="1776.1" y1="1223.4" x2="1785.5" y2="1223.4" stroke="#333" stroke-width="3.4"/>
<line x1="1918.7" y1="1193.8" x2="1918.7" y2="1205.0" stroke="#444" stroke-width="2.2"/>
<line x1="1914.0" y1="1193.8" x2="1923.4" y2="1193.8" stroke="#444" stroke-width="3.6"/>
<circle cx="1655.0" cy="897.9" r="5.6" fill="#fff" stroke="#808080" stroke-width="3.6"/>
<circle cx="1662.1" cy="908.4" r="5.6" fill="#fff" stroke="#808080" stroke-width="3.6"/>
<circle cx="1644.8" cy="938.3" r="5.6" fill="#fff" stroke="#808080" stroke-width="3.6"/>
<circle cx="1795.3" cy="1209.6" r="5.6" fill="#fff" stroke="#808080" stroke-width="3.6"/>
<circle cx="1795.3" cy="1219.4" r="5.6" fill="#fff" stroke="#808080" stroke-width="3.6"/>
<circle cx="1795.3" cy="1236.7" r="5.6" fill="#fff" stroke="#808080" stroke-width="3.6"/>
<circle cx="1917.5" cy="1174.7" r="5.6" fill="#fff" stroke="#808080" stroke-width="3.6"/>
<circle cx="1930.4" cy="1201.9" r="5.6" fill="#fff" stroke="#808080" stroke-width="3.6"/>
<circle cx="1917.5" cy="1217.0" r="5.6" fill="#fff" stroke="#808080" stroke-width="3.6"/>
<text x="1641.5" y="885.8" font-size="23.5" text-anchor="middle" fill="#000">a</text>
<text x="1779.0" y="1213.3" font-size="23.5" text-anchor="middle" fill="#000">b</text>
<text x="1914.0" y="1160.8" font-size="23.5" text-anchor="middle" fill="#000">b</text>
<text x="0" y="0" transform="translate(1653.4 1412.2) rotate(-28)" font-size="28.2" text-anchor="end" fill="#000">Control</text>
<text x="0" y="0" transform="translate(1790.0 1412.2) rotate(-28)" font-size="28.2" text-anchor="end" fill="#000">cGMP</text>
<text x="0" y="0" transform="translate(1923.3 1409.0) rotate(-28)" font-size="28.2" text-anchor="end" fill="#000">cGMP</text>
<text x="0" y="0" transform="translate(1945.8 1446.0) rotate(-28)" font-size="28.2" text-anchor="end" fill="#000">+ HDACi 4b</text>
<text x="0" y="0" transform="translate(1478.6 1088.5) rotate(-90)" font-size="28.8" text-anchor="middle" fill="#000">GVBD%</text>
<text x="6.5" y="1587.0" font-size="41" text-anchor="start" font-weight="bold" fill="#000">i</text>
<rect x="109.5" y="1616.8" width="479.0" height="460.4" fill="none" stroke="#000" stroke-width="2.8"/>
<line x1="348.5" y1="1617.0" x2="348.5" y2="2077.0" stroke="#000" stroke-width="2.2" stroke-dasharray="6.5 3.5"/>
<rect x="168.5" y="2018.6" width="52.3" height="58.4" fill="#000"/>
<rect x="236.0" y="2017.0" width="53.4" height="60.0" fill="#f00" stroke="#333" stroke-width="1.8"/>
<rect x="407.7" y="1708.4" width="53.4" height="368.6" fill="#000"/>
<rect x="475.2" y="1714.4" width="54.4" height="362.6" fill="#f00" stroke="#333" stroke-width="1.8"/>
<line x1="104.5" y1="2077.2" x2="109.5" y2="2077.2" stroke="#000" stroke-width="2.4"/>
<line x1="104.5" y1="2026.0" x2="109.5" y2="2026.0" stroke="#000" stroke-width="2.4"/>
<line x1="104.5" y1="1974.9" x2="109.5" y2="1974.9" stroke="#000" stroke-width="2.4"/>
<line x1="104.5" y1="1923.7" x2="109.5" y2="1923.7" stroke="#000" stroke-width="2.4"/>
<line x1="104.5" y1="1872.6" x2="109.5" y2="1872.6" stroke="#000" stroke-width="2.4"/>
<line x1="104.5" y1="1821.4" x2="109.5" y2="1821.4" stroke="#000" stroke-width="2.4"/>
<line x1="104.5" y1="1770.2" x2="109.5" y2="1770.2" stroke="#000" stroke-width="2.4"/>
<line x1="104.5" y1="1719.1" x2="109.5" y2="1719.1" stroke="#000" stroke-width="2.4"/>
<line x1="104.5" y1="1667.9" x2="109.5" y2="1667.9" stroke="#000" stroke-width="2.4"/>
<line x1="104.5" y1="1616.8" x2="109.5" y2="1616.8" stroke="#000" stroke-width="2.4"/>
<line x1="109.5" y1="2077.0" x2="109.5" y2="2083.5" stroke="#000" stroke-width="2.4"/>
<line x1="348.5" y1="2077.0" x2="348.5" y2="2083.5" stroke="#000" stroke-width="2.4"/>
<line x1="588.5" y1="2077.0" x2="588.5" y2="2083.5" stroke="#000" stroke-width="2.4"/>
<text x="91.8" y="2086.8" font-size="29" text-anchor="end" fill="#000">0</text>
<text x="91.8" y="2035.6" font-size="29" text-anchor="end" fill="#000">10</text>
<text x="91.8" y="1984.5" font-size="29" text-anchor="end" fill="#000">20</text>
<text x="91.8" y="1933.3" font-size="29" text-anchor="end" fill="#000">30</text>
<text x="91.8" y="1882.2" font-size="29" text-anchor="end" fill="#000">40</text>
<text x="91.8" y="1831.0" font-size="29" text-anchor="end" fill="#000">50</text>
<text x="91.8" y="1779.8" font-size="29" text-anchor="end" fill="#000">60</text>
<text x="91.8" y="1728.7" font-size="29" text-anchor="end" fill="#000">70</text>
<text x="91.8" y="1677.5" font-size="29" text-anchor="end" fill="#000">80</text>
<text x="91.8" y="1626.4" font-size="29" text-anchor="end" fill="#000">90</text>
<rect x="128.8" y="1639.4" width="20.2" height="19.6" fill="#000"/>
<rect x="128.8" y="1679.2" width="20.2" height="19.8" fill="#f00"/>
<text x="162.0" y="1657.0" font-size="24.6" text-anchor="start" fill="#000">Control</text>
<text x="162.0" y="1698.0" font-size="24.6" text-anchor="start" fill="#000">HDACi 4b</text>
<text x="572.2" y="1648.5" font-size="24.5" text-anchor="end" fill="#000"><tspan font-style="italic">n</tspan> = 3</text>
<line x1="434.2" y1="1686.8" x2="434.2" y2="1709.0" stroke="#444" stroke-width="2"/>
<line x1="429.2" y1="1686.8" x2="439.2" y2="1686.8" stroke="#444" stroke-width="2.2"/>
<line x1="194.5" y1="2015.6" x2="194.5" y2="2019.0" stroke="#444" stroke-width="2"/>
<line x1="189.5" y1="2015.6" x2="199.5" y2="2015.6" stroke="#444" stroke-width="2.2"/>
<line x1="262.4" y1="2013.5" x2="262.4" y2="2017.0" stroke="#444" stroke-width="2"/>
<line x1="257.4" y1="2013.5" x2="267.4" y2="2013.5" stroke="#444" stroke-width="2.2"/>
<line x1="502.5" y1="1712.0" x2="502.5" y2="1715.0" stroke="#444" stroke-width="2"/>
<line x1="497.5" y1="1712.0" x2="507.5" y2="1712.0" stroke="#444" stroke-width="2.2"/>
<circle cx="178.5" cy="2009.2" r="5.6" fill="#fff" stroke="#808080" stroke-width="3.6"/>
<circle cx="210.5" cy="2017.3" r="5.6" fill="#fff" stroke="#808080" stroke-width="3.6"/>
<circle cx="198.0" cy="2026.8" r="5.6" fill="#fff" stroke="#808080" stroke-width="3.6"/>
<circle cx="262.4" cy="1999.2" r="5.6" fill="#fff" stroke="#808080" stroke-width="3.6"/>
<circle cx="262.4" cy="2026.8" r="5.6" fill="#fff" stroke="#808080" stroke-width="3.6"/>
<circle cx="262.4" cy="2037.5" r="5.6" fill="#fff" stroke="#808080" stroke-width="3.6"/>
<circle cx="432.0" cy="1665.8" r="5.6" fill="#fff" stroke="#808080" stroke-width="3.6"/>
<circle cx="432.0" cy="1721.0" r="5.6" fill="#fff" stroke="#808080" stroke-width="3.6"/>
<circle cx="432.0" cy="1733.2" r="5.6" fill="#fff" stroke="#808080" stroke-width="3.6"/>
<circle cx="509.3" cy="1703.0" r="5.6" fill="#fff" stroke="#808080" stroke-width="3.6"/>
<circle cx="496.8" cy="1711.1" r="5.6" fill="#fff" stroke="#808080" stroke-width="3.6"/>
<circle cx="496.8" cy="1723.3" r="5.6" fill="#fff" stroke="#808080" stroke-width="3.6"/>
<text x="227.6" y="2116.0" font-size="28.8" text-anchor="middle" fill="#000">HX-M199</text>
<text x="469.2" y="2114.0" font-size="28.8" text-anchor="middle" fill="#000">M199</text>
<text x="0" y="0" transform="translate(31.3 1850.0) rotate(-90)" font-size="28.8" text-anchor="middle" fill="#000">GVBD%</text>
<text x="706.0" y="1583.6" font-size="41" text-anchor="start" font-weight="bold" fill="#000">j</text>
<rect x="816.4" y="1616.0" width="469.4" height="462.0" fill="none" stroke="#000" stroke-width="2.8"/>
<line x1="809.5" y1="2078.0" x2="816.0" y2="2078.0" stroke="#000" stroke-width="2.8"/>
<line x1="809.5" y1="2031.7" x2="816.0" y2="2031.7" stroke="#000" stroke-width="3.2"/>
<text x="797.0" y="2041.5" font-size="29" text-anchor="end" fill="#000">0</text>
<line x1="809.5" y1="1985.5" x2="816.0" y2="1985.5" stroke="#000" stroke-width="3.2"/>
<text x="797.0" y="1995.3" font-size="29" text-anchor="end" fill="#000">0.5</text>
<line x1="809.5" y1="1939.3" x2="816.0" y2="1939.3" stroke="#000" stroke-width="3.2"/>
<text x="797.0" y="1949.1" font-size="29" text-anchor="end" fill="#000">1</text>
<line x1="809.5" y1="1893.1" x2="816.0" y2="1893.1" stroke="#000" stroke-width="3.2"/>
<text x="797.0" y="1902.9" font-size="29" text-anchor="end" fill="#000">1.5</text>
<line x1="809.5" y1="1846.9" x2="816.0" y2="1846.9" stroke="#000" stroke-width="3.2"/>
<text x="797.0" y="1856.7" font-size="29" text-anchor="end" fill="#000">2</text>
<line x1="809.5" y1="1800.7" x2="816.0" y2="1800.7" stroke="#000" stroke-width="3.2"/>
<text x="797.0" y="1810.5" font-size="29" text-anchor="end" fill="#000">2.5</text>
<line x1="809.5" y1="1754.5" x2="816.0" y2="1754.5" stroke="#000" stroke-width="3.2"/>
<text x="797.0" y="1764.3" font-size="29" text-anchor="end" fill="#000">3</text>
<line x1="809.5" y1="1708.3" x2="816.0" y2="1708.3" stroke="#000" stroke-width="3.2"/>
<text x="797.0" y="1718.1" font-size="29" text-anchor="end" fill="#000">3.5</text>
<line x1="809.5" y1="1662.1" x2="816.0" y2="1662.1" stroke="#000" stroke-width="3.2"/>
<text x="797.0" y="1671.9" font-size="29" text-anchor="end" fill="#000">4</text>
<line x1="809.5" y1="1615.9" x2="816.0" y2="1615.9" stroke="#000" stroke-width="3.2"/>
<text x="797.0" y="1625.7" font-size="29" text-anchor="end" fill="#000">4.5</text>
<line x1="815.7" y1="2078.0" x2="815.7" y2="2084.6" stroke="#000" stroke-width="2.6"/>
<line x1="862.7" y1="2078.0" x2="862.7" y2="2084.6" stroke="#000" stroke-width="2.6"/>
<text x="862.7" y="2118.0" font-size="29" text-anchor="middle" fill="#000">0</text>
<line x1="909.8" y1="2078.0" x2="909.8" y2="2084.6" stroke="#000" stroke-width="2.6"/>
<text x="909.8" y="2118.0" font-size="29" text-anchor="middle" fill="#000">0.5</text>
<line x1="956.8" y1="2078.0" x2="956.8" y2="2084.6" stroke="#000" stroke-width="2.6"/>
<text x="956.8" y="2118.0" font-size="29" text-anchor="middle" fill="#000">1</text>
<line x1="1003.9" y1="2078.0" x2="1003.9" y2="2084.6" stroke="#000" stroke-width="2.6"/>
<text x="1003.9" y="2118.0" font-size="29" text-anchor="middle" fill="#000">1.5</text>
<line x1="1050.9" y1="2078.0" x2="1050.9" y2="2084.6" stroke="#000" stroke-width="2.6"/>
<text x="1050.9" y="2118.0" font-size="29" text-anchor="middle" fill="#000">2</text>
<line x1="1098.0" y1="2078.0" x2="1098.0" y2="2084.6" stroke="#000" stroke-width="2.6"/>
<text x="1098.0" y="2118.0" font-size="29" text-anchor="middle" fill="#000">2.5</text>
<line x1="1145.0" y1="2078.0" x2="1145.0" y2="2084.6" stroke="#000" stroke-width="2.6"/>
<text x="1145.0" y="2118.0" font-size="29" text-anchor="middle" fill="#000">3</text>
<line x1="1192.0" y1="2078.0" x2="1192.0" y2="2084.6" stroke="#000" stroke-width="2.6"/>
<text x="1192.0" y="2118.0" font-size="29" text-anchor="middle" fill="#000">3.5</text>
<line x1="1239.1" y1="2078.0" x2="1239.1" y2="2084.6" stroke="#000" stroke-width="2.6"/>
<text x="1239.1" y="2118.0" font-size="29" text-anchor="middle" fill="#000">4</text>
<line x1="1286.2" y1="2078.0" x2="1286.2" y2="2084.6" stroke="#000" stroke-width="2.6"/>
<text x="1286.2" y="2118.0" font-size="29" text-anchor="middle" fill="#000">4.5</text>
<text x="649.5" y="2114.2" font-size="24.8" text-anchor="start" fill="#000">log10 (RPKM+1)</text>
<text x="1048.5" y="2163.0" font-size="28.8" text-anchor="middle" fill="#000">HDACi 4b</text>
<text x="0" y="0" transform="translate(731.0 1848.8) rotate(-90)" font-size="28.8" text-anchor="middle" fill="#000">Control</text>
<text x="832.4" y="1649.8" font-size="24.5" text-anchor="start" fill="#000"><tspan font-style="italic">R</tspan> = 0.994</text>
<polygon fill="#f00" stroke="#f00" stroke-width="4" stroke-linejoin="round" points="859.9,2034.5 859.9,1985.5 859.9,2018.2 859.9,2014.1 859.9,2010.1 864.8,2006.0 870.0,2001.9 875.2,1997.7 880.3,1993.6 885.5,1989.4 890.6,1985.2 895.7,1980.9 900.8,1976.7 905.8,1972.4 910.9,1968.1 915.9,1963.8 920.9,1959.5 925.9,1955.1 930.9,1950.8 935.8,1946.4 940.8,1942.0 945.7,1937.6 950.6,1933.2 955.5,1928.8 960.4,1924.4 965.3,1920.0 970.2,1915.5 975.1,1911.1 980.0,1906.6 984.8,1902.1 989.7,1897.7 994.5,1893.2 999.3,1888.7 1004.2,1884.2 1009.0,1879.7 1013.8,1875.2 1018.6,1870.6 1023.4,1866.1 1028.2,1861.6 1033.0,1857.1 1037.8,1852.5 1042.6,1848.0 1047.4,1843.4 1052.2,1838.9 1056.9,1834.3 1061.7,1829.8 1066.5,1825.2 1071.2,1820.7 1076.0,1816.1 1080.8,1811.5 1085.5,1807.0 1090.3,1802.4 1095.0,1797.8 1099.8,1793.2 1104.5,1788.7 1109.2,1784.1 1114.0,1779.5 1118.7,1774.9 1123.5,1770.3 1128.2,1765.7 1132.9,1761.1 1137.7,1756.5 1142.4,1752.0 1147.1,1747.4 1151.9,1742.8 1156.6,1738.2 1161.3,1733.6 1166.0,1729.0 1170.8,1724.4 1175.5,1719.8 1180.2,1715.2 1184.9,1710.6 1189.8,1715.3 1185.1,1719.9 1180.4,1724.6 1175.7,1729.2 1171.0,1733.8 1166.3,1738.5 1161.6,1743.1 1157.0,1747.8 1152.3,1752.4 1147.6,1757.0 1142.9,1761.7 1138.2,1766.3 1133.6,1771.0 1128.9,1775.6 1124.2,1780.3 1119.6,1785.0 1114.9,1789.6 1110.2,1794.3 1105.6,1798.9 1100.9,1803.6 1096.2,1808.3 1091.6,1812.9 1086.9,1817.6 1082.3,1822.3 1077.6,1826.9 1073.0,1831.6 1068.3,1836.3 1063.7,1841.0 1059.1,1845.7 1054.4,1850.4 1049.8,1855.1 1045.2,1859.8 1040.5,1864.5 1035.9,1869.2 1031.3,1873.9 1026.7,1878.6 1022.1,1883.3 1017.5,1888.0 1012.9,1892.8 1008.4,1897.5 1003.8,1902.3 999.2,1907.0 994.7,1911.8 990.1,1916.6 985.6,1921.3 981.0,1926.1 976.5,1930.9 972.0,1935.7 967.5,1940.5 963.0,1945.4 958.5,1950.2 954.0,1955.0 949.6,1959.9 945.1,1964.8 940.7,1969.7 936.3,1974.6 931.9,1979.5 927.5,1984.4 923.1,1989.4 918.7,1994.3 914.4,1999.3 910.1,2004.3 905.8,2009.3 901.5,2014.4 897.3,2019.5 893.1,2024.6 888.9,2029.7 884.7,2034.5 880.6,2034.5 876.5,2034.5 896.6,2034.5"/>
<path fill="none" stroke="#f00" stroke-width="7.4" stroke-linecap="round" d="M939.1 1935.3h.01M913.7 1977.8h.01M931.5 1956.7h.01M871.6 1999.0h.01M887.2 2027.8h.01M880.5 2002.8h.01M1001.0 1905.2h.01M862.7 2001.8h.01M1177.9 1723.9h.01M874.3 2006.7h.01M1058.6 1835.4h.01M862.7 2020.3h.01M910.6 1952.6h.01M1071.6 1827.2h.01M862.7 2010.0h.01M1083.1 1816.7h.01M878.7 1999.2h.01M1130.8 1763.7h.01M1004.5 1890.7h.01M987.5 1912.7h.01M1053.3 1837.9h.01M910.8 2007.5h.01M1125.6 1769.7h.01M989.2 1892.2h.01M896.5 2013.8h.01M1167.6 1732.6h.01M862.7 2012.3h.01M1103.2 1783.8h.01M879.0 2010.5h.01M870.4 1999.6h.01M911.6 1962.3h.01M863.7 2018.7h.01M1180.6 1711.4h.01M1084.1 1816.3h.01M938.3 1963.7h.01M976.7 1931.1h.01M873.1 2031.7h.01M1018.4 1880.8h.01M946.9 1940.3h.01M1080.9 1816.2h.01M1052.2 1845.5h.01M884.6 2010.5h.01M1170.3 1727.2h.01M907.6 1977.1h.01M989.7 1905.4h.01M862.7 2030.6h.01M972.6 1916.9h.01M1090.2 1800.2h.01M881.6 2031.3h.01M1089.8 1806.6h.01M1165.8 1734.5h.01M1128.1 1767.3h.01M868.3 2031.7h.01M878.2 1999.0h.01M1045.8 1854.0h.01M948.3 1946.4h.01M1048.9 1847.6h.01M961.4 1929.4h.01M893.7 2007.2h.01M882.1 2019.1h.01M1136.8 1762.0h.01M986.9 1901.9h.01M1051.4 1848.9h.01M916.4 1999.9h.01M956.2 1945.7h.01M999.5 1888.7h.01M1020.8 1868.7h.01M1054.1 1839.4h.01M864.1 2028.9h.01M952.5 1957.5h.01M960.0 1935.3h.01M962.3 1917.2h.01M899.2 1980.5h.01M1148.2 1748.5h.01M1046.9 1858.1h.01M881.4 2031.7h.01M1012.1 1880.2h.01M878.6 1997.8h.01M920.5 1956.9h.01M1116.4 1784.5h.01M874.0 2029.6h.01M862.7 2010.3h.01M874.5 1990.6h.01M890.7 1987.8h.01M948.8 1940.0h.01M981.0 1912.9h.01M1091.2 1807.3h.01M862.7 2020.1h.01M867.7 2016.6h.01M999.2 1891.5h.01M926.5 1957.3h.01M1119.1 1778.3h.01M883.3 2031.7h.01M1035.2 1861.4h.01M956.0 1955.8h.01M883.2 2014.1h.01M993.3 1912.9h.01M891.4 2017.7h.01M940.6 1938.0h.01M1123.6 1772.3h.01M926.2 1960.0h.01M877.1 2031.7h.01M962.4 1924.0h.01M1093.6 1801.6h.01M879.0 2019.4h.01M874.7 2020.3h.01M1162.2 1733.4h.01M1156.8 1739.3h.01M916.7 1975.3h.01M974.2 1916.3h.01M864.8 2024.7h.01M1068.6 1823.8h.01M888.5 2015.4h.01M1184.0 1715.5h.01M1177.9 1712.6h.01M999.1 1902.9h.01M1153.9 1745.1h.01M1066.2 1832.0h.01M1114.2 1779.6h.01M1086.9 1809.0h.01M1081.3 1817.2h.01M907.3 1988.4h.01M893.1 1988.6h.01M935.2 1959.3h.01M1049.2 1850.1h.01M1035.4 1866.6h.01M1121.8 1773.2h.01M866.0 2031.6h.01M1143.4 1750.6h.01M946.4 1952.8h.01M1046.8 1851.1h.01M900.2 1989.2h.01M919.7 1981.0h.01M1064.2 1833.0h.01M1173.6 1728.0h.01M1023.6 1866.1h.01M1095.0 1805.3h.01M1062.5 1838.0h.01M862.7 2008.0h.01M1051.4 1848.6h.01M892.4 2003.1h.01M943.9 1951.6h.01M899.8 2004.4h.01M873.6 2024.5h.01M1091.2 1805.1h.01M862.7 2016.0h.01M997.3 1894.2h.01M933.6 1981.4h.01M882.9 2022.2h.01M915.0 1985.7h.01M902.7 2009.6h.01M939.1 1944.5h.01M1031.1 1865.7h.01M1008.2 1899.6h.01M1183.9 1718.8h.01M1035.0 1860.4h.01M1173.7 1726.7h.01M901.6 2029.6h.01M953.0 1945.6h.01M1110.6 1793.0h.01M909.2 1989.7h.01M936.1 1947.1h.01M882.0 2031.7h.01M1065.6 1825.5h.01M907.0 2005.0h.01M892.1 2021.4h.01M862.7 2021.3h.01M1142.3 1749.7h.01M942.8 1956.7h.01M910.7 1965.5h.01M863.7 2027.7h.01M955.7 1925.5h.01M930.5 1968.0h.01M1079.0 1815.4h.01M938.6 1960.4h.01M1141.4 1760.9h.01M1090.5 1802.3h.01M862.7 2021.4h.01M1073.7 1820.6h.01M876.5 1977.0h.01M987.1 1922.8h.01M1010.3 1883.9h.01M1130.5 1767.3h.01M884.0 2001.6h.01M869.1 2031.7h.01M1078.2 1825.3h.01M1085.0 1810.0h.01M1034.5 1859.3h.01M869.3 2031.7h.01M1029.2 1859.2h.01M1010.9 1869.2h.01M923.4 1981.0h.01M915.6 1971.0h.01M955.4 1937.8h.01M1028.3 1866.6h.01M1044.3 1848.6h.01M1042.1 1856.5h.01M889.9 2002.7h.01M896.5 1976.4h.01M884.5 2031.7h.01M1152.8 1738.5h.01M905.5 2001.9h.01M1169.9 1727.1h.01M869.3 2031.7h.01M938.1 1957.6h.01M1164.6 1733.5h.01M1044.2 1858.0h.01M873.8 2021.0h.01M1071.5 1824.5h.01M1097.4 1800.0h.01M925.0 1958.4h.01M896.3 2002.5h.01M891.3 2004.5h.01M879.8 2006.7h.01M972.6 1932.5h.01M881.1 2019.2h.01M862.7 2015.4h.01M862.7 1998.6h.01M1048.8 1854.0h.01M1156.9 1742.4h.01M906.2 1992.0h.01M941.0 1965.9h.01M943.3 1948.9h.01M1147.8 1747.8h.01M1025.2 1864.6h.01M873.5 1991.7h.01M1041.2 1863.3h.01M952.4 1951.0h.01M1165.1 1733.4h.01M885.7 2027.4h.01M898.0 1982.7h.01M1094.3 1797.9h.01M1070.9 1828.5h.01M915.0 1989.4h.01M1097.2 1802.5h.01M1001.9 1902.4h.01M1091.4 1808.1h.01M938.1 1960.2h.01M921.3 1979.3h.01M1050.7 1833.7h.01M1021.3 1881.0h.01M869.1 2016.3h.01M971.3 1929.9h.01M980.9 1917.5h.01M1185.2 1711.5h.01M1160.7 1737.7h.01M1089.8 1803.2h.01M906.5 2013.9h.01M888.5 2026.4h.01M886.8 2031.7h.01M862.7 2007.5h.01M910.3 1993.3h.01M1108.0 1791.3h.01M862.7 2010.3h.01M1014.9 1878.6h.01M862.7 2014.2h.01M1027.9 1861.9h.01M862.7 2018.1h.01M935.9 1952.1h.01M962.6 1924.7h.01M1037.8 1862.4h.01M1119.2 1781.5h.01M942.1 1941.8h.01M923.7 1955.5h.01M1155.2 1742.7h.01M926.4 1965.7h.01M1170.5 1734.5h.01M932.5 1958.0h.01M1013.6 1877.3h.01M869.4 2016.9h.01M947.6 1952.2h.01M1027.7 1860.5h.01M899.9 1993.3h.01M873.2 2014.9h.01M935.1 1952.6h.01M948.2 1949.6h.01M871.8 2031.7h.01M927.0 1973.3h.01M941.4 1953.8h.01M878.5 1996.6h.01M1051.4 1833.5h.01M938.8 1965.0h.01M862.7 2028.8h.01M996.6 1906.5h.01M1032.6 1859.9h.01M960.1 1944.8h.01M871.5 2009.9h.01M879.9 2009.8h.01M1158.3 1740.1h.01M920.5 1974.0h.01M944.7 1943.6h.01M996.3 1905.1h.01M907.0 1988.7h.01M1085.6 1808.9h.01M973.2 1922.3h.01M883.4 2031.7h.01M912.3 1991.6h.01M918.0 1956.0h.01M1168.7 1727.2h.01M993.3 1912.8h.01M1049.3 1847.6h.01M1118.8 1776.3h.01M955.3 1924.0h.01M1004.4 1893.3h.01M953.7 1943.1h.01M933.9 1967.8h.01M913.5 1966.4h.01M893.9 2031.7h.01M872.8 2031.7h.01M949.6 1932.3h.01M1073.0 1815.7h.01M1038.9 1858.2h.01M890.6 2024.5h.01M895.7 2009.1h.01M878.0 2031.7h.01M1038.7 1873.0h.01M885.7 1996.9h.01M930.3 1970.9h.01M1098.3 1795.3h.01M1136.5 1770.0h.01M862.7 2028.6h.01M887.4 1984.8h.01M1116.8 1780.6h.01M1162.7 1741.6h.01M1051.8 1837.8h.01M880.3 2017.0h.01M976.7 1906.9h.01M923.8 1975.1h.01M868.2 2017.4h.01M1055.0 1838.6h.01M938.6 1986.3h.01M916.8 1962.7h.01M1034.8 1863.9h.01M947.9 1937.8h.01M952.6 1931.0h.01M992.6 1894.8h.01M862.7 1994.5h.01M911.8 1988.0h.01M924.7 1965.8h.01M1004.3 1898.9h.01M1078.5 1817.5h.01M975.4 1925.6h.01M1094.9 1794.6h.01M1097.0 1805.8h.01M1032.1 1857.5h.01M1055.0 1839.8h.01M890.8 1982.9h.01M1078.9 1814.6h.01M1184.6 1713.9h.01M875.2 2031.7h.01M1040.8 1849.2h.01M1001.4 1898.8h.01M876.5 2027.4h.01M1092.3 1798.4h.01M917.3 1967.5h.01M1000.2 1903.1h.01M892.4 2003.4h.01M952.7 1946.3h.01M1129.1 1761.1h.01M904.5 2018.4h.01M1142.1 1757.6h.01M1136.8 1759.8h.01M1160.4 1733.5h.01M897.5 1997.8h.01M1151.3 1748.2h.01M1069.7 1837.8h.01M1179.2 1719.6h.01M1153.2 1751.7h.01M948.4 1936.3h.01M1168.4 1731.3h.01M991.5 1903.7h.01M926.4 1968.2h.01M902.1 1978.5h.01M903.4 1988.5h.01M873.9 2019.8h.01M877.7 1982.7h.01M1051.3 1843.6h.01M1056.3 1839.5h.01M874.3 2011.7h.01M1145.4 1748.6h.01M1124.6 1766.0h.01M862.7 2013.0h.01M919.0 1950.0h.01M873.4 2019.0h.01M1005.1 1899.2h.01M1118.3 1775.4h.01M989.5 1890.7h.01M891.0 2017.4h.01M862.7 2022.3h.01M1046.5 1842.8h.01M1118.3 1779.2h.01M1017.8 1886.9h.01M1037.0 1865.6h.01M1107.9 1784.9h.01M1119.5 1778.6h.01M883.3 2031.7h.01M927.9 1975.9h.01M888.2 2000.5h.01M933.7 1955.2h.01M1156.7 1743.5h.01M877.4 2031.7h.01M1072.5 1819.6h.01M862.7 2027.1h.01M998.6 1894.2h.01M877.6 2027.8h.01M867.3 2015.3h.01M943.0 1964.3h.01M924.2 1962.8h.01M875.1 2031.7h.01M862.7 2015.8h.01M975.8 1902.5h.01M887.8 2000.7h.01M983.9 1902.2h.01M1089.1 1803.9h.01M1144.4 1750.7h.01M884.5 2031.7h.01M1091.8 1795.5h.01M1183.2 1712.4h.01M1062.4 1840.2h.01M880.2 2031.7h.01M1120.6 1773.5h.01M904.3 1983.1h.01M1048.9 1851.0h.01M974.4 1914.6h.01M1071.2 1819.6h.01M922.2 1994.0h.01M862.7 2022.5h.01M1069.9 1824.6h.01M869.5 2022.8h.01M1046.6 1849.3h.01M909.5 1999.2h.01M1037.6 1865.8h.01M862.7 2014.2h.01M1141.7 1755.0h.01M964.8 1930.1h.01M1100.2 1791.1h.01M878.8 1987.4h.01M943.2 1934.6h.01M958.9 1937.7h.01M1119.8 1774.0h.01M1095.1 1801.5h.01M1144.3 1746.5h.01M947.0 1942.3h.01M1110.6 1786.3h.01M1116.4 1780.4h.01M901.7 1979.6h.01M872.4 2009.1h.01M1092.2 1811.0h.01M1028.7 1866.7h.01M901.0 1985.6h.01M1085.8 1804.5h.01M919.7 1971.5h.01M916.7 1985.9h.01M873.7 1998.3h.01M873.2 2001.5h.01M939.8 1969.8h.01M917.2 2006.1h.01M1091.6 1810.4h.01M960.4 1939.6h.01M1057.5 1842.1h.01M976.5 1905.8h.01M1125.2 1770.7h.01M969.1 1921.0h.01M882.8 1997.6h.01M1111.7 1785.4h.01M921.3 1983.2h.01M899.6 2031.7h.01M1072.8 1818.2h.01M1151.2 1738.0h.01M1142.6 1750.5h.01M1095.3 1794.6h.01M1172.7 1719.4h.01M1070.8 1829.9h.01M1129.0 1768.3h.01M1012.5 1883.6h.01M862.7 2025.8h.01M1052.9 1843.5h.01M913.3 1973.0h.01M960.5 1927.5h.01M885.5 2024.7h.01M1107.7 1791.5h.01M1140.4 1761.5h.01M946.7 1949.7h.01M1049.4 1845.0h.01M1020.3 1873.9h.01M947.9 1946.2h.01M956.8 1939.6h.01M1099.9 1795.9h.01M870.4 2031.7h.01M954.8 1945.8h.01M1109.8 1785.3h.01M897.8 1978.3h.01M1021.1 1883.4h.01M875.3 2025.2h.01M1025.6 1870.8h.01M1172.0 1727.0h.01M1115.3 1779.4h.01M983.7 1925.0h.01M1143.9 1749.5h.01M1172.2 1720.3h.01M883.6 2031.7h.01M899.3 2031.7h.01M994.9 1895.0h.01M896.7 2003.7h.01M1057.2 1835.0h.01M1039.8 1869.5h.01M862.7 2022.9h.01M1001.7 1898.4h.01M1056.9 1832.1h.01M881.1 2014.6h.01M987.0 1920.4h.01M893.6 2008.8h.01M985.8 1891.3h.01M862.7 2019.9h.01M989.3 1902.3h.01M940.5 1945.5h.01M903.4 1990.5h.01M972.4 1914.5h.01M1164.9 1732.1h.01M862.7 2021.4h.01M1145.2 1750.5h.01M897.5 2029.0h.01M959.7 1939.9h.01M1067.9 1833.6h.01M879.9 1994.1h.01M1019.5 1880.5h.01M1007.7 1888.1h.01M882.6 2009.0h.01M964.7 1919.0h.01M882.7 1998.6h.01M1049.0 1853.5h.01M898.9 1981.8h.01M885.2 2025.7h.01M906.4 2012.8h.01M862.7 2016.2h.01M1082.7 1819.5h.01M1095.0 1811.5h.01M1094.3 1796.4h.01M1069.7 1816.0h.01M1002.4 1898.1h.01M876.5 2031.7h.01M869.2 2031.7h.01M914.8 1970.5h.01M1155.5 1747.1h.01M1073.3 1819.5h.01M862.7 2012.0h.01M1126.3 1773.8h.01M862.7 2000.9h.01M1065.1 1822.5h.01M1098.7 1792.3h.01M983.3 1916.4h.01M934.6 1962.0h.01M884.1 2016.3h.01M1024.4 1868.5h.01M976.4 1922.7h.01M1161.6 1733.1h.01M1159.2 1734.6h.01M870.5 2024.4h.01M877.5 2004.3h.01M886.6 2019.2h.01M1164.4 1732.4h.01M941.2 1939.3h.01M889.9 2025.7h.01M986.5 1898.2h.01M1118.4 1776.3h.01M953.5 1939.8h.01M1030.8 1868.7h.01M1099.2 1795.3h.01M1118.0 1780.2h.01M1069.7 1828.4h.01M1015.8 1880.1h.01M1004.9 1901.8h.01M932.2 1948.0h.01M1166.7 1738.6h.01M914.8 1976.2h.01M1042.1 1849.7h.01M1168.8 1728.6h.01M988.0 1898.1h.01M953.6 1949.6h.01M1008.5 1888.3h.01M1175.1 1721.8h.01M963.4 1956.3h.01M878.3 2010.2h.01M1079.1 1813.5h.01M913.0 2013.9h.01M954.8 1947.8h.01M882.4 1977.4h.01M886.3 2031.7h.01M1101.9 1790.9h.01M932.0 1963.0h.01M885.8 2000.8h.01M948.6 1928.9h.01M927.1 1985.3h.01M1181.4 1710.2h.01M920.8 1973.5h.01M1085.0 1807.4h.01M1142.5 1754.1h.01M921.1 1966.6h.01M1103.9 1786.3h.01M960.4 1954.0h.01M862.7 2009.3h.01M933.1 1954.5h.01M885.2 2009.0h.01M1145.4 1750.1h.01M956.6 1944.0h.01M984.3 1910.2h.01M888.9 1976.0h.01M1061.4 1838.4h.01M999.4 1895.7h.01M934.7 1963.7h.01M1129.6 1766.4h.01M943.7 1959.3h.01M862.7 1991.2h.01M887.2 2005.2h.01M1093.2 1800.9h.01M988.1 1898.8h.01M888.3 2006.2h.01M862.7 2024.7h.01M931.9 1957.2h.01M957.0 1942.8h.01M945.5 1955.6h.01M865.6 2028.0h.01M914.8 1961.9h.01M961.1 1934.5h.01M914.3 1980.5h.01M1019.5 1879.2h.01M971.6 1913.5h.01M922.4 1964.8h.01M869.0 2031.7h.01M870.8 2017.4h.01M1049.0 1851.9h.01M1054.5 1843.0h.01M1129.8 1770.6h.01M1132.7 1760.6h.01M914.4 1994.8h.01M929.8 1959.6h.01M996.0 1895.1h.01M958.1 1956.3h.01M909.3 1981.3h.01M919.4 1995.9h.01M957.3 1936.4h.01M882.3 1990.2h.01M868.1 2025.0h.01M911.9 1975.4h.01M928.2 1976.0h.01M1072.9 1812.5h.01M897.8 1981.0h.01M869.3 2031.7h.01M962.8 1924.9h.01M1166.6 1729.5h.01M983.1 1902.8h.01M924.7 1969.9h.01M897.0 1995.4h.01M1003.0 1879.9h.01M1125.3 1780.3h.01M1138.5 1757.6h.01M870.1 2026.2h.01M931.8 1965.7h.01M879.7 2019.4h.01M873.9 2026.1h.01M1068.7 1831.5h.01M1146.5 1758.0h.01M1055.9 1837.7h.01M965.5 1935.3h.01M995.8 1905.6h.01M967.1 1921.1h.01M980.1 1909.7h.01M1081.4 1814.1h.01M1122.6 1773.7h.01M894.6 1990.9h.01M1134.7 1773.5h.01M970.9 1915.0h.01M873.9 2017.5h.01M1051.6 1846.8h.01M1184.5 1713.8h.01M961.1 1951.3h.01M863.4 2022.5h.01M1084.2 1802.6h.01M1001.6 1890.6h.01M1099.6 1791.9h.01M870.0 2015.9h.01M1061.1 1835.8h.01M862.7 2024.0h.01M997.1 1902.6h.01M883.1 2031.7h.01M932.4 1994.2h.01M1110.3 1785.7h.01M1037.8 1856.2h.01M907.9 1986.3h.01M880.8 2018.4h.01M924.1 1978.7h.01M877.0 2017.1h.01M876.1 2021.0h.01M990.0 1902.5h.01M872.7 2031.7h.01M865.3 2029.3h.01M877.7 2031.7h.01M893.3 2013.0h.01M998.1 1889.6h.01M1099.8 1794.1h.01M906.5 2022.3h.01M903.1 1982.9h.01M1084.6 1808.2h.01M1082.8 1811.5h.01M1124.6 1773.5h.01M917.2 1963.5h.01M896.9 2011.5h.01M996.7 1885.9h.01M1116.2 1786.6h.01M998.2 1901.3h.01M900.9 2006.9h.01M896.7 1995.2h.01M904.3 1959.4h.01M1173.2 1729.4h.01M992.7 1903.0h.01M907.5 1972.7h.01M1165.7 1727.5h.01M988.8 1916.4h.01M972.1 1923.7h.01M1064.2 1842.8h.01M1164.0 1739.7h.01M1018.9 1883.8h.01M992.0 1899.0h.01M1115.4 1785.7h.01M892.0 1977.0h.01M891.8 2005.2h.01M1045.6 1850.5h.01M872.9 2011.2h.01M950.7 1936.2h.01M992.4 1903.9h.01M952.6 1934.0h.01M906.8 1968.1h.01M862.7 2017.0h.01M879.6 2031.7h.01M963.3 1936.5h.01M909.8 1965.9h.01M1045.5 1838.4h.01M1028.5 1862.9h.01M939.5 1946.8h.01M928.5 1984.5h.01M877.2 2028.8h.01M1125.6 1774.8h.01M871.7 2003.5h.01M905.9 2014.9h.01M908.2 1994.0h.01M974.2 1924.7h.01M989.4 1908.2h.01M908.4 1980.1h.01M1098.4 1797.4h.01M1050.2 1847.8h.01M1133.5 1771.8h.01M1014.1 1892.0h.01M970.6 1933.3h.01M1033.7 1857.0h.01M1181.5 1714.4h.01M1134.3 1759.7h.01M1047.4 1850.7h.01M862.7 2013.1h.01M863.0 1994.9h.01M873.4 2010.2h.01M939.7 1962.3h.01M862.7 2010.4h.01M862.7 2023.7h.01M922.9 1956.7h.01M870.2 2025.7h.01M1060.8 1830.9h.01M1052.0 1833.4h.01M870.5 2017.1h.01M944.8 1951.2h.01M871.9 2018.2h.01M1070.7 1828.6h.01M1174.4 1729.7h.01M1134.4 1764.6h.01M1031.2 1855.7h.01M895.7 1995.0h.01M1016.8 1893.3h.01M1086.8 1811.3h.01M911.2 1958.0h.01M924.6 1985.6h.01M967.3 1931.7h.01M1107.8 1788.7h.01M1133.9 1768.4h.01M955.7 1961.2h.01M906.8 1962.7h.01M868.4 2006.3h.01M928.5 1980.4h.01M1098.1 1800.5h.01M990.8 1911.5h.01M1163.1 1736.3h.01M956.7 1938.4h.01M908.9 1970.3h.01M945.2 1951.4h.01M1078.9 1817.0h.01M1044.8 1853.0h.01M1156.0 1744.3h.01M1154.7 1744.3h.01M873.9 2031.7h.01M995.5 1898.7h.01M942.5 1948.1h.01M965.7 1930.7h.01M901.3 1970.9h.01M1027.6 1860.1h.01M935.8 1970.5h.01M868.6 2028.2h.01M920.2 1967.4h.01M1115.5 1780.9h.01M1086.0 1810.5h.01M1129.8 1766.4h.01M866.5 2024.2h.01M995.8 1885.0h.01M953.8 1935.8h.01M1011.9 1898.5h.01M1146.5 1746.3h.01M1044.7 1847.8h.01M1117.4 1785.5h.01M910.4 1979.6h.01M1071.1 1838.8h.01M992.0 1913.9h.01M886.5 2001.2h.01M887.1 2025.5h.01M1169.3 1730.8h.01M890.8 2001.6h.01M890.7 1977.5h.01M872.5 2031.7h.01M1053.4 1845.0h.01M1067.0 1824.0h.01M917.3 1984.2h.01M1083.5 1802.5h.01M1107.8 1789.3h.01M1080.9 1828.0h.01M1071.7 1826.3h.01M1153.0 1738.4h.01M1002.0 1893.6h.01M967.4 1932.2h.01M987.2 1908.4h.01M908.4 2003.2h.01M1180.3 1719.5h.01M1111.9 1784.6h.01M932.0 1958.7h.01M1077.6 1818.8h.01M1043.6 1852.2h.01M979.0 1917.5h.01M978.4 1917.0h.01M1016.1 1876.1h.01M929.2 1955.8h.01M941.2 1953.1h.01M1033.9 1859.1h.01M865.8 2017.9h.01M1114.8 1781.5h.01M913.4 1986.6h.01M1035.8 1857.6h.01M887.1 2003.4h.01M1083.7 1812.4h.01M867.9 1994.7h.01M1027.6 1871.7h.01M896.5 2018.5h.01M964.7 1929.4h.01M918.1 1964.0h.01M1142.2 1753.4h.01M1083.8 1808.0h.01M865.0 2019.6h.01M1027.0 1882.0h.01M1153.9 1750.3h.01M1183.4 1712.7h.01M985.0 1929.6h.01M1048.0 1843.6h.01M983.2 1921.7h.01M1170.9 1723.1h.01M982.6 1921.5h.01M862.7 2025.1h.01M1104.8 1792.8h.01M1054.6 1848.8h.01M1100.4 1801.6h.01M895.8 1988.9h.01M999.4 1900.9h.01M898.6 2011.8h.01M901.9 1976.6h.01M1003.4 1889.5h.01M932.7 1966.4h.01M970.2 1931.7h.01M896.8 2007.4h.01M896.4 1998.6h.01M956.8 1945.0h.01M904.2 2003.1h.01M1002.2 1894.0h.01M881.7 2023.5h.01M1125.5 1774.4h.01M967.6 1917.1h.01M981.3 1914.8h.01M1049.5 1843.1h.01M1040.0 1849.1h.01M1117.2 1781.6h.01M974.9 1914.3h.01M915.3 1978.5h.01M1083.7 1818.0h.01M1131.2 1763.3h.01M892.2 1997.7h.01M1019.3 1875.3h.01M1159.9 1737.3h.01M946.4 1935.5h.01M970.1 1916.1h.01M1013.2 1894.7h.01M963.0 1922.9h.01M919.9 1981.3h.01M970.7 1926.9h.01M1072.0 1827.1h.01M927.4 1949.6h.01M1130.6 1764.0h.01M1142.4 1753.6h.01M1173.6 1724.4h.01M1138.9 1757.9h.01M1040.3 1855.6h.01M884.5 1997.1h.01M871.0 2031.1h.01M1009.2 1888.6h.01M953.4 1952.4h.01M867.6 2025.2h.01M1005.1 1890.6h.01M884.3 2031.7h.01M898.4 1988.9h.01M1074.5 1821.9h.01M930.4 1941.2h.01M1048.8 1851.5h.01M868.1 2018.9h.01M1013.3 1874.6h.01M943.7 1946.2h.01M912.9 1980.3h.01M1127.6 1764.5h.01M1092.4 1806.1h.01M1020.1 1867.0h.01M1061.5 1835.6h.01M881.6 2015.6h.01M1089.2 1807.6h.01M862.7 2013.1h.01M1005.6 1889.6h.01M862.7 2026.9h.01M912.5 2006.3h.01M865.1 2030.7h.01M981.8 1918.3h.01M1049.0 1840.0h.01M869.2 2022.5h.01M1031.0 1852.3h.01M892.1 2017.1h.01M883.3 2013.3h.01M953.4 1955.6h.01M1131.6 1766.7h.01M901.1 1978.1h.01M1031.0 1864.7h.01M950.2 1959.2h.01M1067.7 1825.7h.01M862.7 2015.5h.01M918.8 1972.7h.01M954.4 1931.8h.01M899.1 1998.3h.01M956.0 1942.9h.01M981.7 1905.5h.01M873.4 2017.9h.01M1077.6 1825.6h.01M952.8 1933.8h.01M1122.9 1767.7h.01M1135.2 1762.3h.01M916.6 1983.5h.01M1045.5 1845.5h.01M938.5 1952.8h.01M1090.4 1802.2h.01M1026.2 1868.1h.01M868.2 2031.7h.01M957.4 1922.5h.01M1069.1 1826.5h.01M867.2 1996.5h.01M1023.4 1871.2h.01M912.4 1985.6h.01M921.6 1968.1h.01M948.5 1947.8h.01M1180.0 1710.2h.01M862.7 2010.3h.01M997.2 1908.4h.01M907.8 1978.6h.01M964.9 1925.5h.01M1137.5 1761.5h.01M867.8 2018.0h.01M987.2 1902.3h.01M920.0 1977.8h.01M914.9 1977.4h.01M862.7 2019.0h.01M992.8 1894.2h.01M955.8 1922.7h.01M868.8 2018.1h.01M1056.1 1849.0h.01M862.7 2009.8h.01M915.3 1950.6h.01M1016.3 1874.7h.01M918.6 1960.9h.01M919.6 1952.4h.01M885.1 2025.2h.01M1101.6 1794.1h.01M864.1 2023.6h.01M888.5 2031.7h.01M1044.2 1852.7h.01M1127.9 1776.3h.01M969.0 1932.4h.01M962.0 1942.3h.01M888.7 2026.1h.01M929.5 1967.8h.01M1061.4 1829.7h.01M941.7 1960.7h.01M979.8 1915.0h.01M1106.9 1793.6h.01M1037.1 1860.5h.01M880.8 2031.7h.01M1027.3 1861.7h.01M1114.9 1786.7h.01M893.9 2027.0h.01M1159.8 1736.0h.01M867.2 2020.8h.01M897.8 1984.4h.01M1036.9 1870.2h.01M1038.1 1850.3h.01M1045.2 1841.0h.01M875.2 2031.7h.01M955.9 1947.5h.01M1143.3 1759.3h.01M909.7 2018.8h.01M887.1 2004.5h.01M870.4 2031.7h.01M862.7 2025.6h.01M947.1 1956.9h.01M1121.3 1780.3h.01M912.7 1985.5h.01M862.7 2004.1h.01M1007.0 1880.3h.01M862.7 2005.6h.01M1111.2 1788.1h.01M1017.3 1863.6h.01M1079.9 1814.0h.01M1029.9 1856.7h.01M950.1 1956.1h.01M1113.2 1785.4h.01M1184.3 1711.8h.01M882.7 2030.9h.01M1022.6 1868.2h.01M878.8 2015.9h.01M879.7 1995.5h.01M885.5 1996.4h.01M1128.8 1761.5h.01M992.8 1911.7h.01M961.6 1937.3h.01M1002.3 1898.8h.01M879.6 2031.7h.01M897.6 2001.5h.01M903.9 2023.4h.01M1181.2 1713.6h.01M1056.5 1841.5h.01M1149.2 1745.0h.01M915.9 1996.2h.01M916.7 1989.4h.01M1151.2 1746.2h.01M1048.0 1835.5h.01M993.5 1915.8h.01M1121.6 1779.6h.01M865.1 2028.3h.01M950.0 1942.5h.01M1056.8 1844.3h.01M875.5 2002.2h.01M895.0 2004.0h.01M1055.1 1837.0h.01M1087.0 1812.6h.01M918.1 1953.7h.01M1108.9 1789.3h.01M1083.1 1818.6h.01M1088.1 1806.3h.01M913.4 1954.0h.01M862.7 1999.7h.01M1037.4 1858.9h.01M862.7 2009.3h.01M1047.8 1847.0h.01M1109.2 1781.4h.01M1100.2 1797.9h.01M940.2 1966.7h.01M911.9 1971.0h.01M1031.0 1859.4h.01M1135.8 1764.4h.01M1078.3 1817.9h.01M916.8 1971.5h.01M1012.7 1885.8h.01M1046.6 1850.6h.01M922.3 1975.7h.01M1054.9 1839.0h.01M897.2 1986.2h.01M911.2 1956.4h.01M1094.5 1796.7h.01M1028.7 1863.9h.01M1055.2 1843.7h.01M991.1 1902.3h.01M1131.7 1766.5h.01M1034.2 1855.3h.01M933.0 1967.8h.01M890.8 2016.9h.01M967.2 1923.5h.01M952.4 1939.9h.01M925.6 1966.4h.01M929.7 1967.5h.01M1017.7 1885.7h.01M1005.9 1893.1h.01M1168.7 1728.2h.01M862.7 2012.0h.01M1084.6 1823.9h.01M882.0 2025.6h.01M990.1 1905.3h.01M1149.6 1743.6h.01M891.9 1990.1h.01M901.9 1980.2h.01M1081.4 1815.6h.01M1112.8 1787.3h.01M894.1 1989.9h.01M1003.0 1890.1h.01M1082.5 1814.2h.01M944.7 1955.3h.01M1104.9 1796.9h.01M892.7 2023.2h.01M1094.5 1801.3h.01M968.5 1923.7h.01M1032.6 1867.4h.01M894.4 2013.2h.01M1000.3 1894.6h.01M905.3 1987.5h.01M940.5 1956.4h.01M1180.7 1727.5h.01M1004.9 1898.5h.01M1090.0 1798.9h.01M1167.3 1730.9h.01M1001.7 1877.4h.01M1028.9 1864.9h.01M862.7 1992.3h.01M1043.1 1843.3h.01M900.2 2005.7h.01M1173.0 1717.9h.01M1100.8 1808.7h.01M1161.5 1735.5h.01M894.2 1988.1h.01M963.8 1921.9h.01M1104.3 1783.5h.01M926.6 1967.0h.01M887.6 1996.2h.01M912.4 1989.5h.01M862.7 2010.9h.01M996.1 1896.5h.01M1027.0 1872.5h.01M898.6 1980.6h.01M937.9 1964.0h.01M1151.3 1750.1h.01M888.6 2005.5h.01M874.2 2019.9h.01M1123.1 1772.9h.01M1136.2 1758.3h.01M935.6 1969.4h.01M907.9 1977.7h.01M913.3 1971.5h.01M975.6 1914.9h.01M970.8 1913.8h.01M896.8 2031.6h.01M1077.1 1824.1h.01M990.9 1903.4h.01M887.0 1981.2h.01M1115.5 1781.8h.01M1082.9 1810.1h.01M895.3 2002.1h.01M929.9 1946.5h.01M932.4 1942.3h.01M1184.3 1717.6h.01M1000.7 1901.0h.01M941.5 1942.4h.01M1170.1 1728.3h.01M1083.7 1803.5h.01M907.3 1981.6h.01M1096.2 1807.4h.01M979.1 1909.4h.01M1162.7 1731.3h.01M1143.3 1756.5h.01M862.7 2015.0h.01M1062.4 1837.9h.01M911.1 1989.1h.01M868.6 2022.2h.01M946.0 1937.1h.01M881.7 2011.7h.01M887.3 2007.7h.01M904.9 1976.6h.01M1159.6 1731.5h.01M970.8 1932.2h.01M1071.3 1816.4h.01M1030.8 1862.4h.01M1010.1 1886.0h.01M903.9 1983.8h.01M1131.9 1765.5h.01M1142.1 1747.2h.01M975.3 1912.8h.01M1144.4 1764.2h.01M915.5 1970.4h.01M904.8 2019.1h.01M918.8 2004.4h.01M1046.5 1849.5h.01M1014.7 1873.9h.01M1086.6 1821.0h.01M1033.2 1861.7h.01M865.9 2030.6h.01M901.4 1994.1h.01M993.7 1910.9h.01M941.7 1943.2h.01M1101.1 1801.2h.01M1019.5 1878.4h.01M977.6 1917.6h.01M880.5 2012.5h.01M917.7 1974.3h.01M1046.8 1845.1h.01M953.3 1933.1h.01M874.6 1996.2h.01M911.7 1975.2h.01M971.6 1910.5h.01M864.0 2031.7h.01M909.5 1992.5h.01M882.8 2030.4h.01M908.0 1995.9h.01M1184.8 1714.9h.01M1093.5 1801.4h.01M986.3 1919.1h.01M966.0 1925.4h.01M945.3 1931.3h.01M992.3 1898.6h.01M1054.3 1835.6h.01M924.1 1964.2h.01M986.4 1910.1h.01M1067.9 1831.8h.01M1044.9 1840.7h.01M1019.3 1870.2h.01M905.1 1984.4h.01M1003.6 1892.5h.01M1118.1 1780.2h.01M981.2 1932.2h.01M1141.5 1748.3h.01M884.3 1999.2h.01M1026.9 1861.0h.01M1114.2 1782.8h.01M1044.2 1851.0h.01M972.0 1922.8h.01M1033.0 1864.5h.01M907.1 2026.2h.01M987.7 1912.6h.01M1148.6 1751.6h.01M972.3 1911.1h.01M1068.7 1823.9h.01M1054.5 1847.3h.01M1117.7 1778.8h.01M1054.1 1844.4h.01M890.2 2031.7h.01M1048.8 1841.2h.01M1162.0 1740.7h.01M941.9 1951.0h.01M1075.6 1829.1h.01M990.6 1922.3h.01M892.8 1995.9h.01M913.4 1967.5h.01M1105.7 1783.3h.01M939.4 1971.1h.01M1024.5 1864.2h.01M947.5 1934.5h.01M874.7 2025.1h.01M935.9 1961.6h.01M1020.9 1871.3h.01M997.4 1901.9h.01M910.6 2016.5h.01M916.7 1991.5h.01M1051.1 1851.5h.01M863.8 2024.7h.01M875.5 2031.7h.01M1167.0 1723.6h.01M880.2 1986.3h.01M880.3 1989.3h.01M1167.8 1733.1h.01M868.9 2031.7h.01M915.9 1991.1h.01M950.3 1939.9h.01M1155.5 1746.3h.01M1157.0 1742.1h.01M880.1 2018.3h.01M982.1 1896.8h.01M1066.4 1844.0h.01M862.7 2018.4h.01M883.5 2023.1h.01M1050.1 1841.4h.01M1003.8 1893.1h.01M1025.7 1874.0h.01M995.9 1902.9h.01M1149.8 1750.0h.01M1002.5 1893.6h.01M1065.7 1821.2h.01M963.8 1921.9h.01M893.3 1998.4h.01M1115.0 1780.0h.01M1108.2 1800.0h.01M883.5 1985.1h.01M862.7 2021.7h.01M899.8 2018.7h.01M912.8 1965.8h.01M985.1 1904.5h.01M1021.3 1867.0h.01M937.0 1976.4h.01M945.8 1940.0h.01M933.9 1947.7h.01M1050.9 1846.5h.01M1029.1 1860.7h.01M879.5 2011.1h.01M1033.7 1854.0h.01M884.4 2025.9h.01M942.4 1945.0h.01M873.8 2031.1h.01M912.3 2002.4h.01M985.9 1902.5h.01M878.0 2031.7h.01M917.4 1971.1h.01M1045.7 1838.8h.01M1068.1 1819.4h.01M877.6 2012.3h.01M899.0 2016.8h.01M900.8 1987.5h.01M1122.1 1776.1h.01M902.1 2031.7h.01M969.7 1930.5h.01M864.3 2013.1h.01M1140.4 1755.8h.01M862.7 2027.4h.01M1088.7 1804.7h.01M894.1 2009.6h.01M918.8 1992.1h.01M901.9 1982.7h.01M1068.9 1828.1h.01M1161.8 1744.9h.01M1066.1 1821.4h.01M943.2 1957.4h.01M862.7 2023.8h.01M1029.4 1852.5h.01M1097.9 1790.9h.01M905.3 1979.0h.01M925.7 1991.4h.01M1053.0 1838.6h.01M1178.4 1715.4h.01M1019.5 1875.3h.01M966.8 1942.9h.01M973.7 1909.2h.01M887.9 2018.6h.01M906.5 1977.3h.01M863.6 2012.5h.01M1175.6 1727.4h.01M1053.9 1854.5h.01M1017.9 1877.0h.01M1130.1 1763.2h.01M899.4 2005.5h.01M922.3 1961.5h.01M945.8 1955.4h.01M895.3 1997.4h.01M1123.8 1773.3h.01M881.0 2008.3h.01M948.1 1937.8h.01M1005.9 1889.0h.01M1044.8 1857.3h.01M874.9 2031.7h.01M877.4 2031.7h.01M1173.0 1728.4h.01M898.2 2005.3h.01M979.7 1907.4h.01M882.7 2031.7h.01M915.8 1971.8h.01M1023.6 1873.0h.01M1125.6 1773.9h.01M877.9 2031.7h.01M910.3 1981.8h.01M1034.3 1856.3h.01M918.7 1970.3h.01M947.3 1946.1h.01M957.8 1944.2h.01M1094.7 1803.1h.01M1148.6 1741.1h.01M945.1 1964.6h.01M956.8 1933.0h.01M1139.2 1759.7h.01M1101.0 1795.7h.01M986.1 1907.8h.01M886.7 1999.6h.01M940.7 1943.3h.01M1071.7 1827.4h.01M1088.6 1816.0h.01M946.9 1952.9h.01M981.6 1906.4h.01M979.6 1932.5h.01M936.6 1967.9h.01M996.3 1894.9h.01M1001.4 1884.8h.01M1043.6 1854.9h.01M928.0 1963.4h.01M902.0 1978.4h.01M1046.7 1837.2h.01M1156.8 1737.7h.01M917.8 1979.1h.01M978.8 1922.9h.01M863.6 2017.0h.01M1148.0 1746.0h.01M943.0 1962.1h.01M1014.7 1886.6h.01M1064.0 1833.1h.01M913.0 1998.5h.01M1054.7 1833.3h.01M895.8 2007.1h.01M872.6 2000.9h.01M1069.9 1829.5h.01M927.4 1974.2h.01M883.9 2001.0h.01M986.9 1898.2h.01M1110.8 1783.6h.01M1010.3 1895.4h.01M914.4 2009.5h.01M1084.5 1808.0h.01M1066.7 1821.8h.01M912.9 1999.1h.01M1139.5 1752.2h.01M1005.2 1891.2h.01M1106.7 1786.6h.01M974.9 1937.7h.01M1127.4 1773.9h.01M972.7 1918.1h.01M1009.0 1881.0h.01M1114.6 1781.6h.01M862.7 2010.0h.01M972.0 1935.6h.01M1131.3 1762.3h.01M1084.7 1814.2h.01M896.3 2004.5h.01M914.4 1973.7h.01M1176.0 1724.1h.01M878.0 2027.9h.01M1113.4 1774.2h.01M878.3 2031.7h.01M1091.0 1806.4h.01M970.9 1917.9h.01M913.0 1973.1h.01M934.5 1961.8h.01M885.7 2011.0h.01M977.0 1927.2h.01M1140.6 1760.8h.01M1122.6 1777.1h.01M1003.8 1882.9h.01M1064.1 1836.2h.01M982.3 1904.1h.01M1126.5 1766.8h.01M1072.2 1820.0h.01M1121.2 1776.5h.01M881.1 2006.5h.01M892.0 2000.4h.01M894.1 1994.6h.01M1129.4 1772.6h.01M929.4 1958.3h.01M883.1 1998.1h.01M1077.3 1813.0h.01M996.7 1901.4h.01M1001.2 1897.9h.01M1109.0 1795.7h.01M963.7 1941.1h.01M883.1 2009.7h.01M863.2 2019.3h.01M893.6 2016.2h.01M862.7 2016.8h.01M1001.3 1892.3h.01M1146.6 1750.5h.01M1010.7 1891.2h.01M862.7 2023.5h.01M1005.6 1882.8h.01M1040.5 1850.1h.01M944.4 1954.2h.01M879.9 2014.9h.01M1102.9 1790.7h.01M1020.8 1873.7h.01M970.1 1927.2h.01M1032.3 1861.6h.01M862.7 2015.1h.01M1034.1 1868.2h.01M873.6 2031.7h.01M994.3 1903.8h.01M1179.2 1716.6h.01M985.8 1911.1h.01M1137.0 1764.8h.01M897.3 2023.1h.01M883.6 2006.5h.01M891.0 2024.6h.01M1126.1 1770.5h.01M1028.6 1866.1h.01M1106.5 1786.1h.01M886.0 2012.6h.01M1010.1 1879.3h.01M1056.6 1835.8h.01M1118.9 1774.1h.01M1030.7 1857.0h.01M991.4 1915.0h.01M873.6 2016.5h.01M883.6 1988.2h.01M873.7 1993.9h.01M872.9 2020.3h.01M864.8 2012.8h.01M894.7 2011.7h.01M887.3 2027.5h.01M875.1 2006.6h.01M863.2 2018.3h.01M894.9 2026.8h.01M893.8 2001.1h.01M871.8 2023.1h.01M889.2 2004.5h.01M876.3 1992.9h.01M884.3 1987.1h.01M876.3 2010.4h.01M895.6 2016.9h.01M892.9 1994.2h.01M888.6 2002.8h.01M897.1 2023.3h.01M900.6 1990.0h.01M876.5 2031.6h.01M902.2 1988.7h.01M888.0 1984.9h.01M868.9 2017.0h.01M878.3 2023.7h.01M869.7 1990.3h.01M882.9 2012.1h.01M878.9 1998.0h.01M890.5 2012.5h.01M866.8 2016.1h.01M874.6 2023.1h.01M885.9 1985.8h.01M885.6 2029.2h.01M868.2 1986.8h.01M901.3 2013.5h.01M880.6 2018.8h.01M889.6 1988.1h.01M885.8 1997.7h.01M863.1 1990.3h.01M884.5 2029.7h.01M875.9 1996.2h.01M870.8 1993.1h.01M886.9 2000.8h.01M897.9 1988.0h.01M875.2 2025.1h.01M890.2 1995.8h.01M873.5 2012.1h.01M896.3 2023.7h.01M866.6 1986.5h.01M863.1 2021.6h.01M863.5 2010.0h.01M890.2 2021.1h.01M867.7 2007.6h.01M871.1 2004.3h.01M879.6 2019.0h.01M895.0 2019.0h.01M884.8 2029.8h.01M897.1 2022.9h.01M888.8 1984.0h.01M871.4 1998.3h.01M865.5 1987.4h.01M888.8 1997.7h.01M864.3 2013.3h.01M886.2 2019.4h.01M892.5 2004.5h.01M871.1 1990.1h.01M888.2 2019.7h.01M876.5 1999.6h.01M888.0 2010.9h.01M889.0 2028.8h.01M871.8 2027.1h.01M889.8 1997.1h.01M890.6 2001.5h.01M876.0 2007.4h.01M879.5 2024.8h.01M894.8 2025.3h.01M873.8 1996.0h.01M896.8 2027.0h.01M893.1 2020.1h.01M898.8 2026.9h.01M901.9 2018.3h.01M872.8 1991.8h.01M876.0 2023.9h.01M874.7 1986.8h.01M884.5 2008.3h.01M884.9 2026.4h.01M885.1 1997.5h.01M862.8 2022.7h.01M899.4 2008.0h.01M873.1 2002.3h.01M878.3 2029.2h.01M900.4 2015.0h.01M881.1 2014.4h.01M894.7 2014.3h.01M876.0 2010.0h.01M901.2 1988.4h.01M864.8 1987.0h.01M886.3 2024.8h.01M875.7 1999.3h.01M899.7 1994.2h.01M876.2 2008.4h.01M893.2 2003.3h.01M883.9 2028.9h.01M869.4 2025.3h.01M871.6 1998.3h.01M884.4 2008.7h.01M884.7 2023.8h.01M869.3 2002.1h.01M901.1 2022.7h.01M883.7 2021.9h.01M865.1 1984.6h.01M893.5 1992.9h.01M888.5 2028.3h.01M876.8 1984.3h.01M881.6 1997.5h.01M900.6 1997.4h.01M869.9 1987.9h.01M891.9 2020.2h.01M864.3 2016.2h.01M879.5 2019.7h.01M877.7 2009.7h.01M871.2 1988.9h.01M888.0 1985.9h.01M887.2 2022.6h.01M865.4 2017.7h.01M884.5 1989.9h.01M895.0 1987.4h.01M892.8 2007.0h.01M876.9 2024.3h.01M863.1 1994.3h.01M886.9 2018.9h.01M867.5 2030.6h.01M880.9 2020.0h.01M896.5 2028.4h.01M882.0 2009.5h.01M889.0 2022.1h.01M886.0 2019.8h.01M878.5 2020.9h.01M895.2 2007.0h.01M863.3 2008.6h.01M896.2 2026.6h.01M896.0 1999.5h.01M892.2 1996.2h.01M863.9 2011.9h.01M895.7 1998.1h.01M892.6 2002.0h.01M877.7 1991.6h.01M868.0 1990.7h.01M895.5 2008.5h.01M886.1 1997.3h.01M863.5 2024.0h.01M894.5 2017.9h.01M878.8 1994.7h.01M889.8 2029.0h.01M878.4 2020.8h.01M880.4 2012.9h.01M877.1 1994.2h.01M881.5 2001.4h.01M870.9 2016.9h.01M881.2 2002.8h.01M879.6 1994.3h.01M877.1 2020.3h.01M874.7 2008.9h.01M896.3 1996.0h.01M871.3 1985.4h.01M897.8 2000.9h.01M883.1 1989.9h.01M889.4 2002.4h.01M864.4 2006.5h.01M896.1 2011.5h.01M899.9 2013.8h.01M879.4 1993.2h.01M879.9 2022.2h.01M887.2 2027.3h.01M866.9 2001.8h.01M883.8 2026.0h.01M879.0 2030.9h.01M896.5 1990.9h.01M865.9 2014.6h.01M872.4 2000.4h.01M883.0 2004.9h.01M896.8 2004.1h.01M885.3 1996.7h.01M871.9 1996.0h.01M899.4 2002.2h.01M898.8 2016.5h.01M875.2 2004.4h.01M865.0 2006.6h.01M866.8 2003.3h.01M876.0 2030.9h.01M876.3 2015.3h.01M862.9 2024.8h.01M887.3 2008.4h.01M889.9 2014.6h.01M890.9 2000.9h.01M893.2 2017.3h.01M882.1 2028.2h.01M875.3 2007.6h.01M895.4 1987.1h.01M891.9 2018.2h.01M878.6 1995.6h.01M898.1 1986.8h.01M877.4 2015.7h.01M892.1 2007.6h.01M895.9 2010.7h.01M868.6 2013.0h.01M884.4 1997.4h.01M877.6 1985.0h.01M868.4 2012.7h.01M870.7 2023.8h.01M896.7 1987.7h.01M900.4 2004.9h.01M864.4 2029.9h.01M872.2 1985.9h.01M875.8 1986.2h.01M877.7 2029.7h.01M893.7 1996.7h.01M885.7 2005.2h.01M890.4 2023.4h.01M876.3 2012.8h.01M867.6 2001.7h.01M884.5 2024.4h.01M897.0 2027.7h.01M877.6 2022.2h.01M892.9 2022.8h.01M865.3 1992.5h.01M877.2 1995.8h.01M890.9 1989.9h.01M876.4 1993.2h.01M883.3 1992.2h.01M873.7 2026.4h.01M887.9 1987.6h.01M874.9 2004.9h.01M885.6 2027.8h.01M887.1 1994.0h.01M874.9 2031.1h.01M876.1 2011.8h.01M886.5 2023.1h.01M864.6 1988.9h.01M884.6 2011.1h.01M893.5 2027.5h.01M889.7 1991.5h.01M878.3 2012.4h.01M899.2 2024.2h.01M887.8 2007.9h.01M882.5 2001.0h.01M885.6 1999.5h.01M872.6 1995.3h.01M880.3 2019.5h.01M869.0 1995.5h.01M899.1 1989.7h.01M893.9 1985.4h.01M901.1 2005.9h.01M891.5 2027.8h.01M863.9 2026.4h.01M887.4 1986.1h.01M881.4 1987.7h.01M870.5 1998.3h.01M890.9 1930.1h.01M917.3 1929.1h.01M935.2 1903.3h.01M964.3 1889.4h.01M944.6 1919.0h.01M977.5 1957.8h.01M1015.1 1906.0h.01M970.9 1898.6h.01M900.3 1959.6h.01M874.9 1973.5h.01M906.9 2031.7h.01M923.9 2018.8h.01M883.4 1965.2h.01M909.8 1945.8h.01M986.9 1889.4h.01M1065.0 1811.8h.01M1096.1 1786.8h.01M1088.5 1794.2h.01M1020.8 1893.1h.01M956.8 1965.2h.01M930.5 1998.4h.01M867.4 1980.9h.01M872.1 1978.1h.01M979.4 1941.1h.01M1206.2 1691.7h.01M1212.8 1694.4h.01M1210.9 1689.8h.01M1220.3 1680.6h.01M1227.8 1674.1h.01M1234.4 1662.1h.01M1235.3 1664.9h.01M1243.8 1663.9h.01"/>
<text x="1383.5" y="1586.4" font-size="41" text-anchor="start" font-weight="bold" fill="#000">k</text>
<text x="1593.8" y="1599.8" font-size="29.3" text-anchor="start" font-style="italic" fill="#000">Hdac3<tspan font-size="20" dy="-12" font-style="normal">cKO</tspan><tspan dy="12">_Hdac3</tspan><tspan font-size="20" dy="-12">flox/flox</tspan></text>
<rect x="1505.8" y="1617.4" width="475.2" height="459.2" fill="none" stroke="#555" stroke-width="1.8"/>
<line x1="1595.6" y1="2076.6" x2="1880.6" y2="2076.6" stroke="#333" stroke-width="2.4"/>
<line x1="1505.8" y1="1655.4" x2="1505.8" y2="2059.9" stroke="#333" stroke-width="2.4"/>
<line x1="1499.5" y1="2059.9" x2="1505.8" y2="2059.9" stroke="#444" stroke-width="2"/>
<text x="1486.6" y="2069.5" font-size="29" text-anchor="end" fill="#000">0</text>
<line x1="1499.5" y1="1979.0" x2="1505.8" y2="1979.0" stroke="#444" stroke-width="2"/>
<text x="1486.6" y="1988.6" font-size="29" text-anchor="end" fill="#000">50</text>
<line x1="1499.5" y1="1898.1" x2="1505.8" y2="1898.1" stroke="#444" stroke-width="2"/>
<text x="1486.6" y="1907.7" font-size="29" text-anchor="end" fill="#000">100</text>
<line x1="1499.5" y1="1817.2" x2="1505.8" y2="1817.2" stroke="#444" stroke-width="2"/>
<text x="1486.6" y="1826.8" font-size="29" text-anchor="end" fill="#000">150</text>
<line x1="1499.5" y1="1736.3" x2="1505.8" y2="1736.3" stroke="#444" stroke-width="2"/>
<text x="1486.6" y="1745.9" font-size="29" text-anchor="end" fill="#000">200</text>
<line x1="1499.5" y1="1655.4" x2="1505.8" y2="1655.4" stroke="#444" stroke-width="2"/>
<text x="1486.6" y="1665.0" font-size="29" text-anchor="end" fill="#000">250</text>
<line x1="1595.6" y1="2076.6" x2="1595.6" y2="2085.8" stroke="#444" stroke-width="2"/>
<text x="1595.6" y="2121.0" font-size="29" text-anchor="middle" fill="#000">−5</text>
<line x1="1738.1" y1="2076.6" x2="1738.1" y2="2085.8" stroke="#444" stroke-width="2"/>
<text x="1738.1" y="2121.0" font-size="29" text-anchor="middle" fill="#000">0</text>
<line x1="1880.6" y1="2076.6" x2="1880.6" y2="2085.8" stroke="#444" stroke-width="2"/>
<text x="1880.6" y="2121.0" font-size="29" text-anchor="middle" fill="#000">5</text>
<text x="1739.0" y="2168.0" font-size="28.8" text-anchor="middle" fill="#000">Fold change (log2)</text>
<text x="0" y="0" transform="translate(1407.0 1852.7) rotate(-90)" font-size="28.8" text-anchor="middle" fill="#000">-lg (Adjusted <tspan font-style="italic">P</tspan>)</text>
<path fill="none" stroke="#2a439a" stroke-width="2.7" stroke-linecap="square" d="M1701.6 2056.7h.01M1708.1 2056.3h.01M1709.3 2019.3h.01M1709.2 2031.4h.01M1706.6 2054.4h.01M1709.2 2055.6h.01M1704.6 1938.8h.01M1708.9 1969.4h.01M1708.8 1903.5h.01M1702.0 2042.5h.01M1708.2 2043.2h.01M1709.5 2042.5h.01M1709.2 1993.8h.01M1705.8 2016.1h.01M1708.4 1924.5h.01M1708.8 2000.4h.01M1708.4 1991.9h.01M1705.7 2052.4h.01M1705.0 2057.1h.01M1704.3 2054.8h.01M1702.7 2022.7h.01M1704.6 1854.9h.01M1706.0 2018.6h.01M1708.9 2021.5h.01M1706.1 2018.2h.01M1709.4 2019.7h.01M1705.7 2054.5h.01M1709.6 2049.0h.01M1705.5 2011.4h.01M1522.9 1728.2h.01M1706.8 1666.7h.01M1695.9 1692.6h.01M1613.3 1807.5h.01M1615.5 1831.8h.01M1688.2 1805.9h.01M1697.6 1810.7h.01M1608.4 1873.8h.01M1700.2 1854.4h.01M1697.6 1865.7h.01M1706.2 1873.8h.01M1675.4 1886.8h.01M1702.5 1886.8h.01M1688.2 1899.7h.01M1706.8 1899.7h.01M1636.9 1919.1h.01M1683.9 1920.8h.01M1695.3 1924.0h.01M1676.8 1927.2h.01M1698.2 1932.1h.01M1705.3 1930.5h.01M1706.8 1936.9h.01M1691.1 1949.9h.01M1706.8 1953.1h.01M1701.0 1962.8h.01M1686.8 1962.8h.01M1689.6 1967.7h.01M1599.9 1975.8h.01M1675.4 1979.0h.01M1703.9 1975.8h.01M1702.5 1983.9h.01M1705.3 1979.0h.01M1615.5 1990.3h.01M1682.5 1995.2h.01M1695.3 1995.2h.01M1702.5 1996.8h.01M1706.8 1995.2h.01M1558.5 2001.7h.01M1588.5 2004.1h.01M1589.9 2004.1h.01M1666.8 2000.0h.01M1669.7 1998.4h.01M1675.4 2000.0h.01M1688.2 2004.9h.01M1561.4 2046.1h.01M1577.1 2042.1h.01M1577.1 2051.0h.01M1578.5 2051.0h.01M1641.2 2032.4h.01M1639.8 2034.8h.01M1651.2 2029.2h.01M1651.2 2030.8h.01M1629.8 2042.1h.01M1669.7 2024.3h.01M1607.0 2051.0h.01M1705.7 2035.5h.01M1700.6 2046.6h.01M1693.9 2042.2h.01M1702.9 2029.3h.01M1698.8 2055.7h.01M1699.6 2054.6h.01M1665.2 2042.4h.01M1704.8 2027.3h.01M1702.5 2041.1h.01M1707.8 2055.1h.01M1701.2 2053.2h.01M1708.9 2052.0h.01M1708.0 2054.4h.01M1705.8 2056.6h.01M1708.9 2043.0h.01M1679.5 2046.3h.01M1699.7 2018.2h.01M1688.3 2042.0h.01M1703.9 2047.9h.01M1701.5 2043.1h.01M1699.9 2056.1h.01M1706.3 2039.9h.01M1706.1 2047.1h.01M1703.5 2026.5h.01M1703.0 2043.8h.01M1699.2 1989.4h.01M1705.1 2041.0h.01M1691.1 2042.0h.01M1707.1 2024.0h.01M1673.1 2026.7h.01M1706.2 2046.9h.01M1706.2 2036.7h.01M1706.8 2038.1h.01M1707.9 2046.8h.01M1709.6 2039.9h.01M1689.1 2046.1h.01M1709.5 2020.7h.01M1685.7 2031.0h.01M1687.7 2048.2h.01M1692.4 2046.9h.01M1703.6 2017.6h.01M1706.4 2050.0h.01M1664.3 2031.8h.01M1703.8 2011.8h.01M1693.8 2054.5h.01M1705.8 2038.5h.01M1673.2 2025.4h.01M1673.6 2052.5h.01M1703.9 2017.7h.01M1691.4 2033.5h.01M1689.7 2039.5h.01M1688.2 2056.4h.01M1695.3 2052.7h.01M1700.0 2056.5h.01M1700.6 2052.6h.01M1705.7 2051.8h.01M1692.6 2056.4h.01M1694.3 2054.0h.01M1709.0 2027.6h.01M1673.5 2032.3h.01M1708.9 2056.1h.01M1677.4 2011.8h.01M1709.5 2052.9h.01M1708.9 2043.2h.01M1680.1 2047.5h.01M1703.8 2046.6h.01M1698.5 2037.6h.01M1701.6 2050.3h.01M1708.4 2050.1h.01M1677.4 2056.2h.01M1671.1 2053.6h.01M1705.3 2015.8h.01M1705.0 2027.0h.01M1698.5 2050.0h.01M1663.9 2049.4h.01M1682.3 2029.8h.01M1689.9 2049.2h.01M1683.7 2043.0h.01M1677.1 1995.2h.01M1697.7 2042.0h.01M1683.6 2054.6h.01M1659.6 2047.4h.01M1672.6 2028.6h.01M1699.9 2041.4h.01M1664.0 2040.9h.01M1704.9 2041.5h.01M1701.9 2050.9h.01M1709.0 2050.1h.01M1701.5 2054.2h.01M1698.1 2040.0h.01M1697.4 2038.4h.01M1686.5 2034.3h.01M1709.2 2051.1h.01M1700.2 2048.8h.01M1706.9 2055.1h.01M1706.6 2049.8h.01M1709.0 2030.5h.01M1709.3 2037.2h.01M1661.3 2050.0h.01M1692.6 2037.4h.01M1707.3 2023.9h.01M1706.3 2053.1h.01M1704.5 2010.5h.01M1700.6 2041.8h.01M1687.0 2047.8h.01M1702.0 2055.8h.01M1706.8 2025.7h.01M1704.1 2033.7h.01M1677.9 2039.2h.01M1708.4 2050.6h.01M1705.6 1999.1h.01M1703.0 2051.5h.01M1690.4 2055.7h.01M1708.9 2016.1h.01M1667.0 2046.2h.01M1655.8 2000.9h.01M1705.9 2018.3h.01M1707.8 2032.8h.01M1694.9 2054.6h.01M1692.9 2056.6h.01M1704.8 2048.3h.01M1675.0 2014.3h.01M1702.4 2043.3h.01M1666.6 2055.5h.01M1684.2 2050.0h.01M1692.1 2031.8h.01M1708.0 2050.6h.01M1705.9 2002.7h.01M1694.5 2053.5h.01M1704.8 2030.4h.01M1704.0 2046.4h.01M1684.5 2012.2h.01M1695.6 2051.2h.01M1673.3 2030.5h.01M1691.3 2037.3h.01M1708.6 2037.5h.01M1704.9 2046.4h.01M1688.6 2038.5h.01M1703.1 2030.2h.01M1708.7 2021.0h.01M1697.6 2051.8h.01M1692.8 2050.9h.01M1704.6 2015.3h.01M1703.7 2055.2h.01M1666.7 2054.6h.01M1693.2 2042.6h.01M1704.0 2049.0h.01M1704.2 2043.8h.01M1691.9 2055.0h.01M1701.5 2055.5h.01M1694.2 2051.6h.01M1694.3 2053.5h.01M1703.6 2049.6h.01M1706.6 2056.2h.01M1709.5 2056.0h.01M1680.3 2054.8h.01M1683.4 2053.0h.01M1697.3 2045.5h.01M1705.6 2056.6h.01M1709.4 2056.2h.01M1707.1 2054.3h.01M1705.4 2052.8h.01M1702.4 2056.8h.01M1704.5 2048.8h.01M1708.0 2055.5h.01M1681.6 2052.9h.01M1699.2 2054.4h.01M1707.4 2049.5h.01M1706.7 2052.4h.01M1705.0 2047.2h.01M1685.4 2051.1h.01M1707.6 2042.3h.01M1707.1 2055.1h.01M1706.6 2054.0h.01M1704.5 2051.7h.01M1708.7 2054.0h.01M1701.2 2050.7h.01M1697.1 2043.8h.01M1707.9 2053.5h.01M1694.3 2055.8h.01M1704.4 2038.2h.01M1698.5 2041.6h.01M1679.5 2056.0h.01M1681.0 2048.8h.01M1701.1 2054.3h.01M1703.4 2056.6h.01M1700.6 2050.0h.01M1708.1 2050.0h.01M1709.0 2051.1h.01M1708.2 2052.8h.01M1707.8 2056.3h.01M1708.0 2055.3h.01M1707.8 2052.2h.01M1698.9 2050.3h.01M1705.9 2035.5h.01M1707.8 2051.1h.01M1704.6 2046.8h.01M1687.0 2056.6h.01M1706.4 2048.7h.01M1707.5 2056.6h.01M1689.4 2044.7h.01M1699.7 2055.0h.01M1704.9 2049.8h.01M1708.7 2054.7h.01M1708.8 2055.9h.01M1702.1 2046.5h.01M1707.7 2054.6h.01M1699.8 2053.0h.01M1676.4 2055.4h.01M1708.1 2056.6h.01M1705.2 2048.5h.01M1703.5 2055.5h.01M1690.0 2055.1h.01M1708.0 2052.4h.01M1703.6 2050.0h.01M1696.3 2052.7h.01M1700.5 2056.3h.01M1696.0 2056.2h.01M1706.7 2046.2h.01M1706.6 2054.1h.01M1704.1 2043.4h.01M1704.5 2053.3h.01M1696.9 2051.0h.01M1702.6 2056.1h.01M1704.2 2043.9h.01M1706.7 2044.6h.01M1675.0 2056.1h.01M1707.1 2052.3h.01M1692.7 2056.5h.01M1703.6 2055.8h.01M1704.7 2049.9h.01M1693.8 2046.1h.01M1700.0 2052.2h.01M1706.7 2055.8h.01M1699.8 2055.1h.01M1699.6 2053.3h.01M1699.5 2049.9h.01M1702.0 2055.0h.01M1687.5 2056.4h.01M1678.6 2048.1h.01M1702.9 2040.9h.01M1707.6 2050.7h.01M1708.5 2050.9h.01M1698.3 2053.3h.01M1706.2 2053.8h.01M1707.7 2054.7h.01M1704.2 2045.7h.01M1708.8 2040.7h.01M1701.9 2046.7h.01M1709.6 2053.4h.01M1699.4 2055.0h.01M1690.0 2053.0h.01M1705.6 2056.9h.01M1708.2 2054.7h.01M1707.7 2051.7h.01M1702.9 2053.1h.01M1696.2 2056.1h.01M1704.7 2053.9h.01M1709.5 2048.1h.01M1708.6 2053.0h.01M1708.0 2055.3h.01M1706.6 2054.1h.01M1706.1 2053.6h.01M1696.4 2054.7h.01M1689.2 2041.1h.01M1709.5 2051.7h.01M1686.3 2056.3h.01M1695.0 2051.8h.01M1706.5 2054.7h.01M1699.8 2050.4h.01M1696.6 2052.1h.01M1708.2 2045.2h.01M1698.8 2054.8h.01M1687.1 2055.7h.01M1686.1 2048.0h.01M1696.1 2050.6h.01M1709.2 2054.5h.01M1708.7 2051.2h.01M1704.5 2052.7h.01M1707.8 2056.0h.01M1698.5 2047.1h.01M1698.8 2045.6h.01M1699.1 2049.5h.01M1687.7 2050.4h.01M1702.9 2046.1h.01M1701.0 2053.1h.01M1706.1 2057.0h.01M1708.1 2047.4h.01M1700.0 2050.6h.01M1676.7 2044.3h.01M1705.1 2053.4h.01M1703.4 2054.8h.01M1690.4 2050.7h.01M1700.8 2051.2h.01M1691.9 2053.5h.01M1709.3 2056.2h.01M1700.4 2056.4h.01M1700.1 2021.8h.01M1703.5 2001.1h.01M1701.7 2008.5h.01M1697.4 2013.2h.01M1705.0 2022.5h.01M1696.1 2010.0h.01M1696.5 2022.5h.01M1707.8 2032.7h.01M1703.9 2039.6h.01M1698.6 2002.5h.01M1695.9 2020.1h.01M1700.1 2046.6h.01M1704.3 2038.7h.01M1694.9 2016.1h.01M1708.7 2045.8h.01M1706.6 2027.2h.01M1696.8 2025.3h.01M1702.3 2020.6h.01M1701.2 2041.9h.01M1707.5 2033.2h.01M1708.8 2005.8h.01M1700.0 2010.7h.01M1703.8 2037.5h.01M1706.5 2016.6h.01M1700.4 2008.6h.01M1705.2 2011.6h.01M1705.4 2039.5h.01M1705.5 2021.1h.01M1698.8 2014.0h.01M1697.9 2043.2h.01M1703.4 2013.9h.01M1698.8 2038.4h.01M1708.4 2030.2h.01M1705.9 2039.7h.01M1698.0 2028.2h.01M1696.7 2019.7h.01M1701.6 2055.6h.01M1705.2 2056.0h.01M1692.0 2056.5h.01M1696.9 2057.0h.01M1681.6 2056.2h.01M1668.0 2056.5h.01M1657.1 2056.0h.01M1655.4 2057.0h.01M1610.8 2055.4h.01M1686.4 2056.3h.01M1708.1 2056.0h.01M1689.6 2056.0h.01M1631.0 2055.6h.01M1631.5 2055.4h.01M1678.3 2057.0h.01M1690.5 2056.1h.01M1698.4 2056.5h.01M1707.7 2055.8h.01M1669.4 2057.2h.01M1620.1 2055.8h.01M1636.8 2056.4h.01M1656.8 2055.8h.01M1656.7 2057.1h.01M1679.7 2056.2h.01M1705.7 2056.5h.01M1702.6 2055.6h.01M1610.3 2055.8h.01M1633.7 2055.9h.01M1646.8 2056.9h.01M1640.6 2056.9h.01M1701.3 2057.0h.01M1648.8 2057.0h.01M1607.0 2055.6h.01M1692.8 2056.5h.01M1684.9 2055.6h.01M1619.4 2055.6h.01M1655.5 2056.5h.01M1683.3 2055.9h.01M1605.0 2055.0h.01M1658.4 2056.8h.01M1627.0 2055.7h.01M1693.3 2055.9h.01M1656.3 2056.9h.01M1708.1 2055.5h.01M1705.5 2055.6h.01M1628.0 2056.4h.01M1702.6 2056.0h.01M1617.0 2055.6h.01M1616.4 2056.5h.01M1673.2 2056.2h.01M1709.5 2056.5h.01M1611.7 2056.6h.01M1707.8 2056.8h.01M1680.8 2056.5h.01M1708.3 2055.6h.01M1613.2 2056.7h.01M1596.4 2056.1h.01M1658.3 2056.7h.01M1610.1 2056.6h.01M1675.6 2056.4h.01M1603.4 2055.3h.01M1640.0 2056.3h.01M1622.1 2056.1h.01M1688.3 2056.6h.01M1676.1 2056.3h.01M1609.0 2056.4h.01M1700.4 2055.4h.01M1648.6 2055.8h.01M1634.6 2056.4h.01M1686.9 2056.0h.01M1680.3 2055.8h.01M1616.5 2055.5h.01M1658.0 2056.9h.01M1605.8 2056.3h.01M1599.2 2055.1h.01M1649.1 2056.2h.01M1706.7 2056.0h.01M1638.9 2055.6h.01M1656.5 2055.8h.01M1689.9 2056.9h.01M1625.2 2055.5h.01M1618.4 2055.5h.01M1650.2 2057.2h.01M1613.6 2056.4h.01M1633.0 2056.7h.01M1709.0 2056.1h.01M1605.6 2055.4h.01M1697.1 2055.9h.01M1683.8 2057.1h.01M1662.2 2055.8h.01M1658.3 1636.0h.01M1659.7 1636.0h.01M1693.9 1636.0h.01M1695.3 1636.0h.01M1700.5 1636.0h.01M1701.9 1636.0h.01M1703.3 1636.0h.01"/>
<path fill="none" stroke="#ffd21a" stroke-width="2.7" stroke-linecap="square" d="M1768.0 2043.5h.01M1769.1 2043.6h.01M1768.0 2013.5h.01M1769.6 2013.3h.01M1767.3 2028.7h.01M1768.7 1964.6h.01M1769.2 2044.9h.01M1775.5 2027.2h.01M1771.0 2044.2h.01M1774.8 2037.2h.01M1772.4 2014.8h.01M1771.2 2020.4h.01M1770.5 2018.3h.01M1768.1 2049.8h.01M1767.6 2053.8h.01M1768.0 2035.7h.01M1768.0 2015.1h.01M1777.3 2050.8h.01M1773.2 2044.8h.01M1774.9 2044.3h.01M1766.7 2037.5h.01M1772.7 2047.6h.01M1767.8 1919.8h.01M1766.6 2051.8h.01M1767.9 1970.8h.01M1773.2 2049.8h.01M1771.3 2023.4h.01M1767.0 2012.9h.01M1769.6 2055.5h.01M1768.0 1804.3h.01M1771.7 1802.6h.01M1773.7 1812.3h.01M1807.9 1849.6h.01M1772.3 1870.6h.01M1774.6 1880.3h.01M1773.7 1885.2h.01M1778.0 1903.0h.01M1767.2 1911.0h.01M1812.2 1912.7h.01M1771.7 1924.0h.01M1775.7 1922.4h.01M1781.4 1928.8h.01M1769.4 1954.7h.01M1768.0 1967.7h.01M1771.7 1970.9h.01M1795.1 1979.0h.01M1780.3 1988.7h.01M1767.2 1991.9h.01M1769.4 1995.2h.01M1772.3 2000.0h.01M1770.9 2006.5h.01M1790.0 2017.8h.01M1774.6 2021.1h.01M1799.9 2024.3h.01M1926.8 2024.3h.01M1963.2 2021.1h.01M1800.8 2032.4h.01M1785.1 2042.1h.01M1793.7 2042.1h.01M1805.1 2043.7h.01M1837.8 2043.7h.01M1816.5 2049.4h.01M1780.8 2040.5h.01M1779.6 2049.3h.01M1780.0 2035.1h.01M1799.1 2045.8h.01M1776.2 2047.0h.01M1780.2 2033.7h.01M1797.6 2033.6h.01M1783.7 2051.0h.01M1782.4 1998.9h.01M1773.8 2042.4h.01M1777.5 2056.2h.01M1770.8 2043.4h.01M1766.6 2052.4h.01M1772.2 2055.2h.01M1767.2 2051.8h.01M1772.6 2052.5h.01M1778.6 2045.7h.01M1768.0 2021.0h.01M1770.0 2013.9h.01M1772.7 2039.3h.01M1768.3 2055.5h.01M1787.2 2036.4h.01M1782.3 2035.5h.01M1767.2 2056.4h.01M1774.0 2045.7h.01M1778.8 2047.8h.01M1766.7 2054.3h.01M1770.3 2046.9h.01M1775.7 2053.6h.01M1771.7 2052.9h.01M1781.7 2055.8h.01M1778.7 2056.2h.01M1784.7 2035.5h.01M1767.3 2042.3h.01M1803.4 2056.1h.01M1796.0 2052.4h.01M1784.7 2053.2h.01M1775.2 2014.0h.01M1779.3 2040.0h.01M1768.6 2045.8h.01M1776.3 2027.4h.01M1768.3 2054.8h.01M1775.0 2014.4h.01M1768.8 2050.8h.01M1778.5 2048.2h.01M1775.8 2027.4h.01M1798.1 1990.5h.01M1775.5 2024.7h.01M1770.2 2046.9h.01M1774.0 2041.5h.01M1767.7 2051.7h.01M1768.7 2055.4h.01M1776.2 1969.1h.01M1769.8 2045.0h.01M1784.2 2048.5h.01M1799.3 2014.3h.01M1792.9 2056.6h.01M1768.4 2039.0h.01M1775.6 2044.0h.01M1775.1 2054.8h.01M1771.9 2051.7h.01M1774.1 2044.7h.01M1783.9 2047.9h.01M1772.4 2053.7h.01M1774.4 2055.2h.01M1767.0 2055.9h.01M1784.2 2055.3h.01M1807.3 2052.1h.01M1769.7 2055.6h.01M1770.4 2054.8h.01M1796.6 2055.5h.01M1783.3 2053.9h.01M1785.2 2048.5h.01M1787.2 2052.5h.01M1784.2 2057.1h.01M1784.2 2056.8h.01M1778.0 2056.8h.01M1792.8 2048.7h.01M1770.3 2057.0h.01M1768.9 2055.4h.01M1774.8 2056.2h.01M1767.6 2053.4h.01M1784.2 2054.4h.01M1784.8 2054.9h.01M1772.3 2055.3h.01M1783.8 2053.9h.01M1774.5 2056.3h.01M1767.5 2048.1h.01M1773.1 2056.7h.01M1773.5 2047.3h.01M1792.0 2057.0h.01M1767.6 2056.6h.01M1769.4 2053.3h.01M1774.8 2049.4h.01M1769.3 2055.2h.01M1768.4 2056.9h.01M1780.5 2056.6h.01M1768.2 2055.4h.01M1769.1 2056.8h.01M1769.8 2056.0h.01M1766.7 2053.5h.01M1767.9 2052.5h.01M1780.8 2052.4h.01M1787.4 2055.7h.01M1772.5 2055.1h.01M1806.5 2054.8h.01M1778.4 2054.8h.01M1767.2 2053.0h.01M1766.6 2051.3h.01M1768.3 2052.6h.01M1792.3 2055.0h.01M1778.5 2053.2h.01M1767.6 2056.4h.01M1782.2 2049.5h.01M1806.0 2052.3h.01M1772.2 2056.7h.01M1770.2 2053.4h.01M1802.3 2053.6h.01M1767.5 2055.9h.01M1773.6 2056.0h.01M1770.3 2056.7h.01M1775.6 2054.2h.01M1768.1 2055.5h.01M1796.4 2056.2h.01M1767.8 2056.7h.01M1773.3 2053.0h.01M1777.8 2049.2h.01M1805.7 2053.2h.01M1781.9 2052.4h.01M1772.2 2056.4h.01M1775.8 2054.4h.01M1768.3 2055.6h.01M1771.0 2054.8h.01M1767.4 2057.0h.01M1775.6 2037.1h.01M1768.8 2049.8h.01M1787.3 2049.9h.01M1783.0 2055.6h.01M1776.6 2041.4h.01M1771.4 2053.3h.01M1776.8 2056.3h.01M1779.3 2055.1h.01M1768.9 2054.3h.01M1771.5 2052.6h.01M1774.6 2054.9h.01M1779.2 2056.0h.01M1767.4 2053.8h.01M1776.7 2054.9h.01M1780.1 2056.3h.01M1776.7 2049.9h.01M1770.1 2055.1h.01M1776.2 2045.3h.01M1767.7 2052.5h.01M1768.5 2056.1h.01M1767.6 2056.3h.01M1792.4 2054.8h.01M1771.5 2047.6h.01M1774.0 2050.2h.01M1770.1 2054.5h.01M1770.4 2047.0h.01M1778.3 2051.7h.01M1784.3 2047.8h.01M1766.7 2056.5h.01M1769.7 2051.8h.01M1780.4 2056.7h.01M1767.0 2056.8h.01M1791.4 2056.4h.01M1766.9 2056.1h.01M1792.6 2054.9h.01M1781.5 2056.7h.01M1767.3 2056.3h.01M1806.9 2057.3h.01M1832.3 2056.8h.01M1834.9 2057.1h.01M1777.4 2057.5h.01M1797.2 2057.3h.01M1823.3 2056.2h.01M1778.0 2057.4h.01M1806.6 2057.0h.01M1768.8 2056.9h.01M1827.6 2056.7h.01M1801.0 2056.2h.01M1829.3 2057.2h.01M1832.8 2056.5h.01M1792.5 2057.2h.01M1822.3 2057.5h.01M1796.0 2057.2h.01M1821.6 2055.9h.01M1804.5 2057.3h.01M1820.1 2055.7h.01M1800.9 2057.6h.01M1794.1 2056.6h.01M1780.0 2057.1h.01M1790.3 2055.9h.01M1784.3 2056.9h.01M1776.9 2057.5h.01M1820.5 2056.0h.01M1814.4 2057.5h.01M1769.5 2056.7h.01M1801.4 2055.9h.01M1803.9 2057.2h.01M1819.4 2055.9h.01M1827.7 2056.6h.01M1804.5 2055.7h.01M1824.4 2056.1h.01M1780.6 2056.1h.01M1830.3 2056.2h.01M1785.1 2056.5h.01M1798.8 2056.4h.01M1835.4 2057.3h.01M1836.4 2056.3h.01M1766.7 2056.1h.01M1820.5 2055.9h.01M1770.9 2056.6h.01M1824.2 2056.8h.01M1778.4 2055.7h.01M1840.2 2057.4h.01M1781.7 2055.7h.01M1805.9 2056.2h.01M1798.2 2057.5h.01M1767.6 2056.9h.01M1847.8 2057.6h.01M1850.8 2057.3h.01M1853.8 2057.0h.01M1856.8 2056.7h.01M1859.8 2056.3h.01M1862.8 2056.0h.01M1865.8 2055.7h.01M1868.8 2055.4h.01M1871.8 2055.0h.01M1874.8 2054.7h.01M1877.8 2054.4h.01M1880.7 2054.1h.01M1768.9 1636.0h.01M1770.0 1636.0h.01M1781.4 1636.0h.01M1782.8 1636.0h.01M1784.3 1636.0h.01M1786.5 1636.0h.01"/>
<path fill="none" stroke="#d6c8a8" stroke-width="2.7" stroke-linecap="square" d="M1731.1 2056.4h.01M1754.2 2015.3h.01M1747.1 1997.2h.01M1755.7 2019.5h.01M1752.1 2043.4h.01M1751.6 2058.1h.01M1733.6 2048.6h.01M1751.7 2046.4h.01M1749.8 2050.0h.01M1711.8 2046.1h.01M1755.7 2004.0h.01M1754.2 2021.9h.01M1726.4 2005.8h.01M1724.5 2041.1h.01M1752.9 2051.8h.01M1730.6 2055.0h.01M1755.9 2051.7h.01M1749.9 2034.9h.01M1750.2 2020.4h.01M1727.0 2043.7h.01M1762.4 2059.6h.01M1727.2 2054.4h.01M1727.8 2052.4h.01M1748.9 1989.1h.01M1725.7 2020.5h.01M1714.3 2038.9h.01M1762.7 2041.9h.01M1723.3 2052.5h.01M1756.6 2047.8h.01M1734.1 2056.9h.01M1726.5 2058.5h.01M1749.9 2025.2h.01M1732.5 2053.8h.01M1752.0 2022.0h.01M1718.5 2038.1h.01M1747.4 2053.7h.01M1725.7 2059.6h.01M1756.8 2056.5h.01M1730.9 2044.2h.01M1722.0 2028.7h.01M1749.6 2045.9h.01M1723.8 2037.9h.01M1723.3 2056.7h.01M1730.9 2038.7h.01M1728.0 2050.4h.01M1719.6 2028.8h.01M1717.9 2051.9h.01M1746.3 2052.6h.01M1720.0 2059.7h.01M1726.2 2050.1h.01M1742.3 2051.7h.01M1731.9 2045.6h.01M1733.7 2049.6h.01M1731.8 2048.9h.01M1754.2 1999.4h.01M1755.3 2056.3h.01M1716.6 2013.1h.01M1721.4 2057.1h.01M1739.5 2055.8h.01M1748.0 2045.4h.01M1742.7 2050.5h.01M1761.2 2042.5h.01M1752.8 2042.9h.01M1721.2 2029.7h.01M1751.1 2058.7h.01M1754.8 2031.9h.01M1733.3 2053.7h.01M1753.8 2037.7h.01M1752.5 1970.0h.01M1756.4 1985.2h.01M1748.1 2049.7h.01M1727.7 2056.4h.01M1745.6 2049.7h.01M1729.7 2028.7h.01M1745.7 2056.6h.01M1761.5 2023.4h.01M1727.4 2041.3h.01M1752.7 2018.6h.01M1725.2 2043.3h.01M1716.0 1992.8h.01M1761.9 2038.1h.01M1746.7 2054.9h.01M1753.0 2044.1h.01M1748.5 2046.2h.01M1713.9 2050.1h.01M1753.2 2056.3h.01M1769.6 2059.4h.01M1763.2 2031.4h.01M1731.6 2031.1h.01M1750.4 2059.4h.01M1725.8 2029.8h.01M1724.7 2051.7h.01M1747.7 2046.5h.01M1722.3 2041.2h.01M1729.2 2038.2h.01M1726.2 2018.8h.01M1753.1 2044.1h.01M1730.6 2049.5h.01M1718.1 2035.5h.01M1711.8 2043.9h.01M1727.6 2051.6h.01M1742.1 2041.6h.01M1730.8 2056.7h.01M1724.4 2052.9h.01M1758.1 2046.8h.01M1727.9 2046.1h.01M1718.0 2005.9h.01M1749.2 2052.3h.01M1731.3 2050.9h.01M1747.5 2039.8h.01M1720.0 2058.7h.01M1728.4 2056.4h.01M1749.4 2015.1h.01M1741.5 2055.4h.01M1722.7 2053.3h.01M1758.1 2044.4h.01M1729.6 2052.5h.01M1759.8 2056.0h.01M1724.3 2016.4h.01M1745.9 2054.8h.01M1759.8 2053.6h.01M1748.3 2058.6h.01M1748.1 2047.6h.01M1754.4 2045.9h.01M1746.0 2057.6h.01M1733.9 2043.8h.01M1713.3 2003.4h.01M1724.6 2058.7h.01M1717.7 2052.7h.01M1755.8 2027.1h.01M1742.1 2055.9h.01M1728.2 2039.0h.01M1749.7 2055.8h.01M1723.9 2058.0h.01M1748.4 2058.0h.01M1745.3 2042.8h.01M1745.1 2051.0h.01M1760.9 2055.5h.01M1757.7 2058.2h.01M1748.6 2037.0h.01M1752.6 1986.9h.01M1755.7 2044.8h.01M1728.9 2002.3h.01M1730.1 2043.3h.01M1718.6 2057.3h.01M1752.3 2056.5h.01M1721.5 2033.1h.01M1750.3 2052.2h.01M1722.0 2059.2h.01M1752.1 2049.6h.01M1748.6 2054.8h.01M1759.9 2051.6h.01M1734.2 2059.0h.01M1733.4 2045.1h.01M1744.3 2059.8h.01M1751.3 2019.2h.01M1717.6 1996.7h.01M1730.8 2021.4h.01M1753.5 2056.2h.01M1742.9 2051.7h.01M1718.7 2050.7h.01M1748.2 2050.2h.01M1717.2 2058.2h.01M1711.3 2020.7h.01M1760.6 2028.8h.01M1727.8 2033.8h.01M1755.3 2030.3h.01M1748.0 2055.7h.01M1727.9 2032.4h.01M1731.5 2045.3h.01M1760.9 2042.2h.01M1742.1 2053.0h.01M1718.4 2058.0h.01M1718.4 2048.9h.01M1720.1 2050.0h.01M1745.9 2051.4h.01M1755.3 2049.4h.01M1729.4 2055.6h.01M1724.2 2034.9h.01M1744.2 2054.1h.01M1746.4 2050.5h.01M1728.8 2041.9h.01M1755.2 2047.4h.01M1746.4 2054.8h.01M1747.3 2057.3h.01M1764.5 2057.1h.01M1756.4 2036.2h.01M1753.8 2038.4h.01M1730.3 2054.3h.01M1747.7 2055.5h.01M1755.2 2055.1h.01M1738.2 2056.5h.01M1732.5 2050.5h.01M1758.7 2038.3h.01M1718.0 1779.9h.01M1729.7 2053.0h.01M1719.9 2033.0h.01M1754.7 2044.0h.01M1755.8 2040.5h.01M1749.1 2056.0h.01M1727.6 2051.0h.01M1747.3 2041.9h.01M1750.6 2057.0h.01M1738.3 2059.1h.01M1748.1 2048.6h.01M1740.1 2059.7h.01M1717.5 2048.8h.01M1752.4 2059.2h.01M1751.8 2048.5h.01M1720.6 2030.8h.01M1723.1 2040.9h.01M1727.6 2049.2h.01M1728.4 2058.7h.01M1710.4 2003.2h.01M1717.3 2027.2h.01M1716.8 2039.8h.01M1716.0 2058.8h.01M1717.1 2056.3h.01M1722.8 2038.7h.01M1724.4 2005.9h.01M1728.9 2059.9h.01M1753.5 2049.1h.01M1730.8 2056.7h.01M1725.6 2054.8h.01M1759.4 2051.0h.01M1750.5 2049.4h.01M1754.8 2053.2h.01M1717.4 2023.9h.01M1723.4 2055.4h.01M1733.7 2050.9h.01M1757.2 1999.2h.01M1744.5 2057.3h.01M1728.7 2056.4h.01M1748.3 2056.7h.01M1723.0 2030.7h.01M1755.8 2054.6h.01M1747.2 2040.8h.01M1721.1 2059.5h.01M1721.9 2057.3h.01M1723.6 2028.2h.01M1746.8 2057.4h.01M1725.2 2026.6h.01M1760.9 1973.4h.01M1759.6 1909.9h.01M1756.2 2040.4h.01M1747.2 2027.5h.01M1741.5 2055.7h.01M1753.3 2044.1h.01M1725.2 2036.6h.01M1726.1 2024.8h.01M1725.4 2057.9h.01M1765.8 2055.4h.01M1754.5 2054.9h.01M1758.2 2042.6h.01M1752.1 2045.5h.01M1754.8 2048.3h.01M1721.6 1970.5h.01M1754.7 2047.7h.01M1751.1 2039.0h.01M1733.1 2059.0h.01M1730.4 2023.8h.01M1746.7 2038.3h.01M1750.2 2048.7h.01M1756.8 2058.9h.01M1726.2 1858.8h.01M1722.9 1900.5h.01M1723.0 2057.9h.01M1757.1 2057.9h.01M1736.7 2058.5h.01M1749.8 2049.5h.01M1712.7 2032.0h.01M1710.7 2045.0h.01M1755.9 2047.6h.01M1716.3 2052.8h.01M1746.0 2040.1h.01M1753.9 2057.7h.01M1746.3 2044.0h.01M1749.2 2035.4h.01M1766.6 2057.6h.01M1723.8 2027.2h.01M1710.6 2040.6h.01M1722.4 1994.0h.01M1728.3 2052.8h.01M1749.0 2036.8h.01M1721.6 2029.8h.01M1742.0 2058.0h.01M1720.9 2054.4h.01M1728.5 2042.5h.01M1720.9 1910.2h.01M1756.7 2012.2h.01M1750.4 2046.7h.01M1743.0 2048.1h.01M1758.9 2030.2h.01M1715.4 2030.9h.01M1727.1 2033.8h.01M1756.2 2037.3h.01M1733.4 2053.0h.01M1729.5 2019.3h.01M1723.0 2053.9h.01M1723.1 1805.4h.01M1719.2 2049.0h.01M1756.4 2057.7h.01M1728.4 2009.9h.01M1733.5 2057.8h.01M1748.6 2032.6h.01M1761.2 2026.4h.01M1750.3 2041.4h.01M1739.8 2056.5h.01M1723.0 2032.0h.01M1724.2 2054.4h.01M1752.0 2048.2h.01M1717.6 2056.4h.01M1749.6 2054.9h.01M1715.0 2055.5h.01M1723.4 1985.3h.01M1729.2 2050.7h.01M1715.4 1987.0h.01M1750.8 2038.7h.01M1755.3 2055.7h.01M1761.7 2056.4h.01M1728.7 2041.6h.01M1715.0 2037.0h.01M1720.1 2048.1h.01M1728.1 2056.8h.01M1731.3 2048.9h.01M1727.1 2050.9h.01M1748.7 2035.2h.01M1746.1 2045.5h.01M1760.8 2006.5h.01M1758.4 2039.3h.01M1714.2 2020.3h.01M1715.7 2053.9h.01M1754.9 1961.0h.01M1747.1 2017.0h.01M1747.3 2057.7h.01M1725.1 2046.2h.01M1744.6 2059.7h.01M1719.3 1994.2h.01M1710.8 2056.6h.01M1728.7 2044.1h.01M1732.9 2057.5h.01M1751.8 2040.8h.01M1724.1 2050.5h.01M1754.8 2007.3h.01M1750.7 2052.6h.01M1758.8 2050.6h.01M1725.0 2053.1h.01M1752.6 2053.4h.01M1747.4 2056.5h.01M1745.0 2057.0h.01M1735.1 2055.5h.01M1748.6 2033.4h.01M1756.7 2026.1h.01M1744.4 2048.2h.01M1716.8 2037.8h.01M1712.9 2011.8h.01M1723.9 2053.7h.01M1723.8 2034.9h.01M1754.0 2044.2h.01M1760.5 2050.6h.01M1749.0 2052.5h.01M1713.5 2051.9h.01M1725.5 2031.7h.01M1756.9 2052.0h.01M1716.4 2055.0h.01M1746.4 2058.3h.01M1722.6 2059.8h.01M1747.9 2035.0h.01M1712.8 2046.6h.01M1719.7 2057.1h.01M1725.7 1926.1h.01M1755.8 2054.2h.01M1730.3 2055.2h.01M1750.0 2055.7h.01M1717.4 2024.5h.01M1751.1 2042.8h.01M1758.1 2045.9h.01M1720.8 2004.6h.01M1753.4 2040.2h.01M1748.0 2054.1h.01M1735.3 2058.8h.01M1719.9 2058.3h.01M1745.9 2059.0h.01M1726.4 2058.9h.01M1735.4 2058.0h.01M1761.7 1957.7h.01M1753.2 2050.5h.01M1749.8 2054.6h.01M1724.5 2043.5h.01M1728.3 2058.0h.01M1753.3 2030.0h.01M1720.7 2028.3h.01M1753.3 2023.4h.01M1753.5 2048.7h.01M1753.5 2043.9h.01M1759.1 2041.5h.01M1753.6 2059.1h.01M1727.0 2039.6h.01M1722.6 2033.6h.01M1744.0 2047.6h.01M1748.6 2034.7h.01M1725.3 2039.9h.01M1728.3 2059.3h.01M1720.3 2057.1h.01M1726.8 2026.8h.01M1743.2 2034.5h.01M1763.8 2032.7h.01M1743.8 2058.2h.01M1741.4 2059.9h.01M1761.0 2059.5h.01M1749.3 2044.7h.01M1744.4 1995.9h.01M1735.9 2059.6h.01M1726.7 2046.7h.01M1743.4 2050.0h.01M1761.0 2020.5h.01M1724.6 2042.5h.01M1731.0 2058.8h.01M1755.8 2024.4h.01M1750.1 2057.8h.01M1755.6 2056.0h.01M1747.9 2054.3h.01M1750.9 2007.3h.01M1719.4 2052.7h.01M1746.1 2048.7h.01M1727.1 2051.2h.01M1741.8 2059.6h.01M1744.1 2055.1h.01M1761.4 2051.5h.01M1726.0 2052.6h.01M1731.9 2050.6h.01M1717.8 2028.6h.01M1755.2 2056.8h.01M1743.9 2031.6h.01M1728.6 1995.1h.01M1752.0 2052.3h.01M1728.0 2053.9h.01M1749.1 2051.9h.01M1748.5 2048.2h.01M1742.3 2055.7h.01M1763.9 2057.2h.01M1755.3 2055.7h.01M1731.3 2040.7h.01M1715.7 2020.7h.01M1743.3 2057.9h.01M1744.4 2041.5h.01M1747.3 2058.1h.01M1721.6 2029.7h.01M1721.5 2038.1h.01M1748.9 2029.7h.01M1728.1 2035.6h.01M1729.4 2052.2h.01M1763.2 2053.6h.01M1724.5 2057.7h.01M1734.2 2058.3h.01M1759.6 2035.6h.01M1716.0 2058.9h.01M1723.4 2053.5h.01M1748.1 2054.2h.01M1747.2 2049.1h.01M1724.8 2030.2h.01M1754.3 2057.8h.01M1749.3 2052.5h.01M1754.1 2048.0h.01M1718.8 1981.6h.01M1710.0 1999.1h.01M1745.5 2051.5h.01M1718.0 2056.9h.01M1745.3 2045.7h.01M1744.9 2059.3h.01M1725.2 2042.0h.01M1732.0 1984.4h.01M1720.0 2058.3h.01M1723.8 1988.5h.01M1721.0 2028.9h.01M1717.9 2059.0h.01M1731.1 2046.0h.01M1754.5 2009.2h.01M1759.8 2016.5h.01M1762.7 2013.7h.01M1755.8 2059.7h.01M1719.9 2051.3h.01M1755.4 2050.5h.01M1743.2 2049.1h.01M1725.7 2052.8h.01M1750.2 2021.3h.01M1721.4 2014.6h.01M1710.8 2049.7h.01M1734.2 2052.2h.01M1757.0 2047.0h.01M1749.9 2044.3h.01M1746.5 2057.8h.01M1736.1 2057.0h.01M1723.8 2034.9h.01M1747.4 2049.5h.01M1718.1 2008.6h.01M1728.7 2051.5h.01M1733.4 2053.3h.01M1755.8 2052.5h.01M1749.6 2033.4h.01M1757.7 2005.0h.01M1725.8 2056.4h.01M1731.4 2046.0h.01M1754.1 2048.9h.01M1761.2 2049.5h.01M1730.5 2050.5h.01M1753.0 2047.5h.01M1732.8 2047.8h.01M1715.5 1748.1h.01M1745.5 2055.6h.01M1757.1 2012.9h.01M1731.2 2053.7h.01M1759.9 2037.5h.01M1758.9 1999.7h.01M1757.6 2042.6h.01M1746.1 2014.6h.01M1725.7 2058.2h.01M1755.3 2046.4h.01M1718.0 2052.7h.01M1754.3 2047.6h.01M1725.1 2056.3h.01M1763.6 2048.3h.01M1742.7 2049.8h.01M1724.6 2054.6h.01M1728.3 2058.8h.01M1742.7 2058.3h.01M1746.4 2029.3h.01M1721.3 2053.6h.01M1725.4 2056.5h.01M1743.4 2048.4h.01M1734.2 2059.6h.01M1745.4 2059.4h.01M1727.5 2058.3h.01M1724.9 2049.4h.01M1744.8 2056.9h.01M1754.9 2045.6h.01M1743.9 2056.0h.01M1753.3 2047.3h.01M1746.3 2040.3h.01M1723.2 2053.9h.01M1733.2 2051.6h.01M1730.9 2048.9h.01M1713.5 2018.6h.01M1751.5 2029.0h.01M1751.5 2052.9h.01M1733.0 2049.1h.01M1721.0 2055.5h.01M1755.6 1995.7h.01M1727.7 2037.5h.01M1746.2 2059.6h.01M1736.0 2055.2h.01M1719.8 2052.0h.01M1755.0 2024.2h.01M1758.6 2024.2h.01M1744.8 2054.7h.01M1748.3 2044.8h.01M1724.2 2038.4h.01M1723.2 2058.5h.01M1724.5 1732.9h.01M1751.0 2051.8h.01M1749.6 1937.0h.01M1726.5 2056.1h.01M1765.0 2030.5h.01M1727.6 2015.0h.01M1765.2 2056.3h.01M1716.4 2058.1h.01M1755.1 2005.2h.01M1726.8 2046.7h.01M1727.7 2034.6h.01M1722.1 2055.8h.01M1748.6 2046.5h.01M1721.6 2057.6h.01M1720.5 2057.4h.01M1729.3 2048.4h.01M1752.0 2058.4h.01M1742.6 2051.3h.01M1714.4 2033.1h.01M1759.1 2044.1h.01M1756.3 2054.1h.01M1746.9 2049.5h.01M1726.2 2050.2h.01M1760.2 2005.9h.01M1722.1 2055.4h.01M1723.8 2041.4h.01M1727.0 2053.2h.01M1752.0 2038.1h.01M1723.5 2033.5h.01M1723.0 2049.0h.01M1737.9 2059.0h.01M1728.8 2030.2h.01M1754.2 1797.5h.01M1760.5 2015.7h.01M1752.4 1967.8h.01M1751.6 2055.0h.01M1729.3 2057.3h.01M1715.9 2044.1h.01M1748.6 2019.5h.01M1751.6 2052.5h.01M1751.9 2045.9h.01M1726.6 2052.4h.01M1757.3 1989.1h.01M1751.9 2042.3h.01M1730.4 2041.1h.01M1730.7 2054.0h.01M1730.9 2036.3h.01M1716.6 2014.8h.01M1722.5 2039.3h.01M1759.0 2046.4h.01M1719.3 2038.3h.01M1747.4 2055.9h.01M1719.1 2022.5h.01M1733.0 2049.2h.01M1745.5 2048.8h.01M1763.7 2051.8h.01M1726.1 1998.4h.01M1753.8 2059.7h.01M1720.1 2053.9h.01M1767.9 2059.0h.01M1729.1 2043.8h.01M1720.7 2058.9h.01M1755.6 2005.6h.01M1724.3 1992.5h.01M1759.8 2044.7h.01M1726.2 2053.3h.01M1727.5 2008.2h.01M1714.7 2055.9h.01M1720.0 2041.5h.01M1722.6 2012.3h.01M1719.9 2053.3h.01M1733.5 2059.9h.01M1724.4 2053.3h.01M1745.3 2052.9h.01M1750.8 2057.6h.01M1718.5 2059.5h.01M1722.0 2039.4h.01M1753.9 2051.2h.01M1727.8 2056.9h.01M1728.1 2052.0h.01M1762.3 2058.3h.01M1725.7 2057.7h.01M1726.6 2038.6h.01M1759.3 2056.2h.01M1754.7 2047.3h.01M1752.3 1980.6h.01M1758.4 2053.8h.01M1727.0 2031.3h.01M1738.3 2058.8h.01M1733.0 2055.7h.01M1759.6 2051.7h.01M1710.3 2049.4h.01M1752.6 2047.5h.01M1744.5 2037.1h.01M1728.0 2008.5h.01M1751.3 2042.8h.01M1753.6 2025.2h.01M1720.1 1979.1h.01M1762.0 1943.0h.01M1749.7 2028.2h.01M1714.9 2033.0h.01M1723.6 2035.8h.01M1748.6 2055.3h.01M1756.4 2056.4h.01M1715.6 2059.8h.01M1749.0 2056.5h.01M1720.3 2046.5h.01M1727.0 2038.0h.01M1718.6 2053.1h.01M1745.1 2052.6h.01M1731.0 2047.7h.01M1720.0 2051.3h.01M1734.7 2059.5h.01M1755.9 2050.1h.01M1715.9 2026.3h.01M1756.3 2052.3h.01M1712.1 2022.4h.01M1757.4 2048.0h.01M1733.3 2045.0h.01M1745.9 2037.2h.01M1742.1 2044.5h.01M1725.1 1933.5h.01M1724.3 2027.1h.01M1761.7 2031.3h.01M1716.8 2035.0h.01M1715.1 2036.7h.01M1745.3 2036.2h.01M1721.6 2034.8h.01M1711.0 2016.5h.01M1755.3 2009.1h.01M1755.7 2057.9h.01M1752.4 2052.8h.01M1758.5 2054.9h.01M1724.9 2059.5h.01M1723.9 2043.6h.01M1748.5 2052.8h.01M1722.5 2038.7h.01M1749.3 2045.7h.01M1747.3 2048.2h.01M1724.7 2033.6h.01M1752.6 2011.4h.01M1757.2 2035.7h.01M1725.5 2051.3h.01M1732.2 2056.9h.01M1762.2 2051.5h.01M1754.9 2044.5h.01M1742.7 2048.5h.01M1744.1 2048.1h.01M1719.7 2042.1h.01M1761.2 2014.8h.01M1729.2 2051.0h.01M1755.2 2056.2h.01M1725.7 2058.0h.01M1743.4 2056.4h.01M1723.8 2046.8h.01M1714.1 2034.8h.01M1744.7 2058.5h.01M1726.6 2022.0h.01M1749.8 2056.8h.01M1750.5 2059.2h.01M1715.0 2020.9h.01M1743.3 2054.8h.01M1755.1 2044.3h.01M1720.5 1929.0h.01M1736.4 2055.4h.01M1718.7 2045.7h.01M1719.8 2051.9h.01M1732.9 2058.9h.01M1747.7 2034.4h.01M1738.9 2057.8h.01M1717.1 2033.1h.01M1745.1 2048.1h.01M1718.6 2047.6h.01M1754.2 2035.7h.01M1722.1 2046.0h.01M1732.9 2058.0h.01M1730.3 2015.1h.01M1744.8 2039.3h.01M1750.1 1850.7h.01M1743.7 2049.7h.01M1755.5 2023.5h.01M1747.9 2039.9h.01M1721.3 2044.7h.01M1712.7 2032.3h.01M1745.1 2027.7h.01M1727.8 2024.1h.01M1747.4 2058.4h.01M1722.7 2015.0h.01M1757.0 2059.6h.01M1744.9 2058.3h.01M1725.8 2039.8h.01M1719.0 1996.0h.01M1753.6 2028.9h.01M1714.9 2055.9h.01M1735.7 2055.7h.01M1715.2 1989.6h.01M1745.1 2049.5h.01M1764.6 2027.4h.01M1732.1 2048.0h.01M1743.6 2058.3h.01M1747.3 2058.4h.01M1751.7 2058.1h.01M1724.6 2035.6h.01M1758.4 2052.3h.01M1754.8 2058.8h.01M1758.0 2027.1h.01M1744.9 2052.7h.01M1714.2 2001.8h.01M1750.5 2041.0h.01M1717.0 2014.1h.01M1758.5 2037.1h.01M1708.7 2058.8h.01M1725.9 2054.4h.01M1722.4 2058.2h.01M1714.2 2040.3h.01M1752.6 2057.1h.01M1751.9 2034.5h.01M1712.8 2035.4h.01M1759.4 2055.7h.01M1746.1 1958.4h.01M1759.6 2057.0h.01M1726.9 2049.9h.01M1754.3 2051.6h.01M1747.5 2056.8h.01M1750.0 2055.1h.01M1745.3 2043.8h.01M1748.9 1996.9h.01M1751.1 2043.5h.01M1762.2 2040.3h.01M1710.1 2034.9h.01M1718.6 2059.8h.01M1746.2 2057.1h.01M1746.6 2041.5h.01M1716.2 2031.9h.01M1751.2 2050.8h.01M1719.2 2058.5h.01M1717.1 2030.5h.01M1731.8 2050.4h.01M1755.2 2055.7h.01M1722.7 2057.5h.01M1752.0 2039.6h.01M1725.1 2045.7h.01M1753.5 2056.2h.01M1714.8 2058.3h.01M1728.6 2048.1h.01M1747.2 2057.7h.01M1754.0 2053.6h.01M1755.3 2020.0h.01M1744.8 2045.8h.01M1723.1 2034.5h.01M1719.3 2051.5h.01M1722.4 2032.3h.01M1754.8 2051.3h.01M1743.2 2048.3h.01M1752.4 2046.9h.01M1746.7 2050.0h.01M1718.5 2041.0h.01M1724.4 2058.3h.01M1756.7 2044.3h.01M1748.4 2034.9h.01M1749.2 2049.3h.01M1750.5 2040.1h.01M1758.0 1997.1h.01M1752.0 2046.1h.01M1735.6 2058.3h.01M1744.0 2035.4h.01M1719.4 2049.9h.01M1752.3 2049.0h.01M1723.6 2054.3h.01M1726.4 2058.6h.01M1725.2 1938.0h.01M1732.1 2053.5h.01M1736.5 2057.1h.01M1745.9 2021.4h.01M1730.5 2057.3h.01M1723.5 2010.2h.01M1742.9 2058.4h.01M1720.1 2043.1h.01M1718.2 2029.1h.01M1731.1 2040.0h.01M1724.6 2056.3h.01M1720.2 2052.0h.01M1752.9 2047.9h.01M1741.7 2058.2h.01M1745.6 1921.6h.01M1759.5 2008.0h.01M1723.5 2059.3h.01M1720.4 1921.9h.01M1755.3 2019.2h.01M1730.8 2059.0h.01M1720.7 2050.2h.01M1763.3 1999.6h.01M1748.5 2054.5h.01M1724.1 2059.7h.01M1754.7 2049.7h.01M1752.3 2042.0h.01M1730.4 2051.8h.01M1742.9 2059.8h.01M1745.4 2055.7h.01M1723.3 2059.1h.01M1746.4 2026.3h.01M1718.0 2034.6h.01M1749.0 2029.1h.01M1712.5 2030.5h.01M1733.3 2013.0h.01M1730.5 2035.8h.01M1751.2 1854.6h.01M1738.3 2056.4h.01M1731.9 2051.4h.01M1724.8 2021.3h.01M1728.1 2029.4h.01M1721.7 1982.9h.01M1725.9 1999.8h.01M1760.1 2058.7h.01M1716.5 2057.2h.01M1712.2 2059.8h.01M1715.6 2029.4h.01M1731.1 2031.6h.01M1759.4 2047.8h.01M1754.1 2013.9h.01M1724.3 1961.9h.01M1759.5 1989.9h.01M1721.6 2059.7h.01M1722.3 2044.1h.01M1722.6 2053.5h.01M1746.1 2055.9h.01M1755.4 2040.4h.01M1746.6 2054.9h.01M1755.5 2053.5h.01M1754.3 2044.6h.01M1761.5 2054.4h.01M1756.5 2056.3h.01M1751.9 2030.1h.01M1755.7 2006.4h.01M1734.4 2055.8h.01M1712.8 2017.3h.01M1724.1 2046.2h.01M1731.7 2036.2h.01M1725.5 2057.9h.01M1726.9 2048.5h.01M1749.8 2038.5h.01M1751.7 2048.4h.01M1720.3 1928.9h.01M1717.5 2014.4h.01M1748.5 2037.4h.01M1729.4 2055.7h.01M1745.8 2048.5h.01M1722.9 2020.4h.01M1714.4 2046.7h.01M1726.5 2053.1h.01M1755.3 2035.6h.01M1727.6 2051.2h.01M1714.6 2006.4h.01M1720.5 2045.4h.01M1714.3 2042.3h.01M1746.7 2053.6h.01M1731.1 2056.3h.01M1727.9 2059.7h.01M1754.3 2043.8h.01M1718.2 2015.9h.01M1746.4 2058.8h.01M1752.9 2049.9h.01M1751.8 2045.0h.01M1729.3 2051.9h.01M1716.5 2050.4h.01M1721.3 2046.9h.01M1724.3 2058.2h.01M1720.3 2021.8h.01M1745.7 2049.9h.01M1757.1 2045.6h.01M1748.7 2057.5h.01M1721.0 2055.4h.01M1728.0 2049.3h.01M1753.9 2041.3h.01M1758.9 2056.1h.01M1729.1 2056.3h.01M1718.8 2039.9h.01M1749.4 2051.0h.01M1734.1 2057.2h.01M1764.0 2031.1h.01M1732.5 2014.2h.01M1720.4 2044.0h.01M1749.5 1896.9h.01M1725.0 2053.0h.01M1728.1 2055.0h.01M1722.8 2046.9h.01M1752.9 2054.3h.01M1730.1 2049.4h.01M1719.3 2054.6h.01M1718.0 1995.8h.01M1729.2 2009.5h.01M1746.1 2027.5h.01M1753.7 2027.5h.01M1743.8 2052.6h.01M1760.8 2035.5h.01M1748.5 2051.7h.01M1744.6 2049.7h.01M1731.0 2048.1h.01M1725.1 2028.7h.01M1760.3 2056.2h.01M1753.7 2059.9h.01M1749.4 2048.4h.01M1746.3 2055.1h.01M1725.0 2049.5h.01M1731.2 2045.0h.01M1758.4 2054.7h.01M1741.2 2055.4h.01M1721.5 1771.7h.01M1725.9 2058.1h.01M1731.8 2057.4h.01M1762.3 2030.5h.01M1762.7 2048.1h.01M1722.1 2026.7h.01M1761.9 1872.1h.01M1753.9 2058.5h.01M1747.4 2049.3h.01M1723.3 2042.6h.01M1718.4 2031.3h.01M1722.4 2024.6h.01M1725.9 2049.1h.01M1762.8 2058.3h.01M1739.2 2057.9h.01M1745.3 2059.5h.01M1728.4 2042.7h.01M1757.6 2052.7h.01M1725.8 2053.1h.01M1758.4 2053.7h.01M1723.9 2058.5h.01M1750.7 2041.4h.01M1726.4 2056.2h.01M1744.3 2055.5h.01M1708.7 2058.3h.01M1750.6 2056.2h.01M1750.0 2055.8h.01M1710.4 2044.5h.01M1751.1 2059.1h.01M1743.4 2054.3h.01M1716.5 2053.4h.01M1754.0 2047.8h.01M1717.8 2046.8h.01M1743.6 2026.7h.01M1752.9 2056.0h.01M1759.5 2053.7h.01M1729.6 2059.4h.01M1748.7 2055.8h.01M1763.4 2038.6h.01M1723.7 2046.9h.01M1765.1 2015.2h.01M1754.4 2059.3h.01M1720.5 2058.8h.01M1732.5 2051.7h.01M1744.6 2051.7h.01M1758.3 2004.6h.01M1726.5 2013.9h.01M1723.5 2051.9h.01M1729.0 2047.8h.01M1764.9 2048.4h.01M1743.6 2047.5h.01M1757.0 2037.9h.01M1722.4 2043.5h.01M1731.4 2028.4h.01M1763.2 2059.0h.01M1743.4 2054.9h.01M1747.1 2059.4h.01M1761.5 2015.9h.01M1752.3 2053.8h.01M1764.8 2046.3h.01M1750.2 2056.6h.01M1744.9 2041.8h.01M1744.0 2045.2h.01M1724.5 2027.6h.01M1712.1 2015.5h.01M1745.7 2050.0h.01M1755.9 2034.5h.01M1760.7 1997.5h.01M1723.4 2054.9h.01M1719.9 2025.7h.01M1728.0 2057.1h.01M1728.1 2059.4h.01M1749.7 2053.2h.01M1754.3 1806.4h.01M1734.3 2057.1h.01M1727.1 2047.0h.01M1750.1 2039.9h.01M1748.8 2040.4h.01M1719.5 2026.3h.01M1748.9 2046.1h.01M1728.0 2022.6h.01M1723.4 1996.5h.01M1748.1 2018.7h.01M1763.9 2056.8h.01M1746.6 2050.8h.01M1719.9 2055.4h.01M1746.8 2045.0h.01M1758.2 2050.8h.01M1753.4 2050.7h.01M1733.8 2055.2h.01M1722.5 2054.4h.01M1742.0 2051.1h.01M1745.9 2054.1h.01M1727.2 2043.1h.01M1753.3 2057.9h.01M1756.0 2047.4h.01M1749.6 2057.1h.01M1732.3 2048.4h.01M1729.8 2045.8h.01M1742.9 2057.3h.01M1743.9 2044.7h.01M1730.8 2045.8h.01M1719.5 2054.1h.01M1758.3 2039.5h.01M1719.9 2053.5h.01M1726.1 2058.0h.01M1752.0 2031.3h.01M1748.8 2058.9h.01M1757.2 2052.6h.01M1750.5 2050.5h.01M1763.7 2049.9h.01M1722.4 2033.0h.01M1729.4 2031.5h.01M1751.8 2041.3h.01M1718.9 2059.5h.01M1749.7 2040.3h.01M1746.4 2056.4h.01M1730.4 2057.1h.01M1760.4 2055.0h.01M1749.7 1991.7h.01M1738.9 2055.1h.01M1745.6 2050.9h.01M1754.8 2018.2h.01M1746.8 2058.0h.01M1756.6 2055.9h.01M1729.7 2012.1h.01M1755.5 2051.1h.01M1744.2 2048.1h.01M1742.3 2053.3h.01M1726.5 2040.7h.01M1748.6 2046.6h.01M1751.5 2056.9h.01M1745.2 2056.2h.01M1756.5 2018.5h.01M1759.2 2052.7h.01M1723.7 2046.1h.01M1732.6 2032.0h.01M1763.5 2046.4h.01M1750.1 2057.2h.01M1729.1 2055.7h.01M1754.7 2033.2h.01M1725.9 1768.1h.01M1750.9 2050.0h.01M1761.5 2051.1h.01M1728.4 2035.1h.01M1728.7 2048.3h.01M1720.8 2053.3h.01M1725.2 2045.5h.01M1752.9 2057.4h.01M1733.4 2057.0h.01M1755.2 1905.4h.01M1719.1 2034.8h.01M1725.3 2041.9h.01M1732.4 2055.1h.01M1719.3 2058.0h.01M1723.5 2047.1h.01M1723.9 2054.6h.01M1754.0 2054.3h.01M1761.0 2000.3h.01M1734.4 2059.3h.01M1754.1 2049.8h.01M1750.9 2052.8h.01M1756.9 2053.9h.01M1725.3 2040.6h.01M1728.0 2057.3h.01M1747.2 2054.9h.01M1727.8 2002.1h.01M1719.5 2038.8h.01M1757.0 2022.3h.01M1763.1 2058.1h.01M1761.8 2049.5h.01M1723.3 2047.9h.01M1759.2 2054.7h.01M1719.6 2054.5h.01M1743.4 2056.1h.01M1721.7 2044.8h.01M1754.1 2044.8h.01M1746.4 2056.0h.01M1753.7 2054.9h.01M1759.4 2053.7h.01M1727.4 2036.5h.01M1758.7 2052.6h.01M1717.4 2037.8h.01M1734.0 2049.1h.01M1717.4 2028.7h.01M1728.2 2036.9h.01M1716.0 1827.6h.01M1752.7 2046.2h.01M1754.3 2057.3h.01M1765.3 2049.3h.01M1715.8 2059.1h.01M1752.9 2039.0h.01M1731.3 2059.2h.01M1760.3 2035.8h.01M1730.8 2041.3h.01M1757.9 2050.7h.01M1726.5 2039.1h.01M1751.0 1967.6h.01M1743.8 2048.7h.01M1740.2 2057.7h.01M1724.2 2049.7h.01M1752.0 2051.1h.01M1759.6 2051.3h.01M1742.3 2058.2h.01M1757.0 2050.7h.01M1749.2 2050.0h.01M1743.8 1993.5h.01M1727.4 2027.5h.01M1750.3 2030.6h.01M1730.1 2020.9h.01M1717.5 1954.0h.01M1761.3 2055.6h.01M1746.2 2033.9h.01M1726.9 2056.9h.01M1726.3 2053.2h.01M1741.5 2059.8h.01M1732.0 2047.0h.01M1756.0 2059.8h.01M1753.2 2046.0h.01M1728.6 2039.6h.01M1727.4 2038.7h.01M1724.2 2053.5h.01M1757.7 2039.6h.01M1737.6 2058.9h.01M1727.6 2047.5h.01M1731.8 2042.6h.01M1731.9 2039.0h.01M1756.6 2050.1h.01M1755.3 2043.2h.01M1721.8 2058.5h.01M1760.5 2022.1h.01M1743.5 2048.5h.01M1752.4 2045.6h.01M1743.3 2051.8h.01M1744.8 2031.1h.01M1751.4 2039.8h.01M1735.9 2057.9h.01M1731.2 2022.5h.01M1729.0 2056.9h.01M1713.6 2054.5h.01M1734.2 2059.8h.01M1759.2 2054.0h.01M1725.0 2057.6h.01M1728.1 2036.5h.01M1731.9 2057.0h.01M1744.1 2055.8h.01M1731.0 2015.3h.01M1720.3 2055.8h.01M1745.6 2052.7h.01M1760.3 2036.5h.01M1733.0 2049.6h.01M1720.4 2015.2h.01M1722.3 2037.0h.01M1733.7 2054.0h.01M1747.5 2042.9h.01M1726.8 2052.9h.01M1758.7 2056.6h.01M1744.2 2050.8h.01M1716.5 2055.1h.01M1749.1 2028.6h.01M1730.3 2046.7h.01M1725.5 2045.4h.01M1728.9 2043.9h.01M1748.2 2048.5h.01M1728.5 2057.1h.01M1711.5 2045.4h.01M1722.6 2056.8h.01M1715.1 2016.9h.01M1742.9 2043.3h.01M1747.9 2048.0h.01M1754.9 2038.7h.01M1752.7 2059.0h.01M1712.1 2053.7h.01M1748.4 2052.2h.01M1734.1 2048.3h.01M1710.9 2004.3h.01M1732.9 2042.4h.01M1727.5 2048.8h.01M1748.8 2055.2h.01M1755.2 2059.6h.01M1718.7 2004.6h.01M1747.9 2031.1h.01M1721.6 2040.2h.01M1731.4 2059.5h.01M1751.6 2051.0h.01M1746.1 2054.8h.01M1735.5 2058.5h.01M1741.9 2054.7h.01M1741.9 2057.9h.01M1742.8 2038.6h.01M1765.6 2033.3h.01M1716.9 1916.7h.01M1756.9 2010.4h.01M1746.5 2059.5h.01M1749.1 2022.0h.01M1762.5 2039.7h.01M1723.0 2037.6h.01M1748.1 2046.0h.01M1720.9 2032.4h.01M1733.3 2045.5h.01M1742.9 2053.5h.01M1729.9 2038.8h.01M1760.4 2053.3h.01M1751.7 2036.2h.01M1755.4 2054.1h.01M1725.2 2037.7h.01M1732.8 2027.1h.01M1761.3 1976.0h.01M1738.2 2058.7h.01M1743.8 2022.9h.01M1752.9 1955.9h.01M1721.5 2047.4h.01M1758.6 2052.4h.01M1726.4 2052.7h.01M1759.3 2036.4h.01M1754.8 1981.9h.01M1728.0 2054.5h.01M1757.7 2052.5h.01M1725.2 2019.3h.01M1743.6 2054.1h.01M1732.3 2042.1h.01M1764.4 2057.4h.01M1711.5 2054.9h.01M1745.8 2010.2h.01M1756.9 2040.3h.01M1726.0 2059.7h.01M1747.8 2044.6h.01M1755.8 2051.6h.01M1733.8 2053.1h.01M1743.8 2056.2h.01M1711.2 2056.6h.01M1727.6 1978.5h.01M1743.8 2054.8h.01M1747.5 2054.3h.01M1717.7 2041.0h.01M1713.9 1998.8h.01M1722.7 2034.0h.01M1728.4 2052.6h.01M1714.4 2021.7h.01M1747.4 2044.3h.01M1731.9 2056.9h.01M1754.9 2054.2h.01M1711.4 2033.4h.01M1750.7 2058.7h.01M1747.8 2057.0h.01M1746.3 2051.4h.01M1732.8 2055.2h.01M1723.6 2042.4h.01M1761.9 2059.6h.01M1723.3 2052.2h.01M1720.7 2054.4h.01M1756.5 2038.2h.01M1731.0 2052.1h.01M1744.6 2057.0h.01M1714.1 1912.2h.01M1717.9 2022.5h.01M1733.2 2050.0h.01M1734.2 2058.4h.01M1758.8 2059.3h.01M1717.5 2056.5h.01M1745.3 2051.2h.01M1721.1 2053.3h.01M1736.8 2057.7h.01M1715.0 2041.8h.01M1721.9 2039.2h.01M1734.8 2055.2h.01M1720.5 2026.3h.01M1728.9 2049.0h.01M1720.1 2052.8h.01M1756.8 1839.3h.01M1721.7 2051.6h.01M1757.1 2043.8h.01M1717.5 2045.2h.01M1727.1 2042.3h.01M1743.3 2058.1h.01M1759.4 2025.9h.01M1712.3 2057.0h.01M1746.9 2054.3h.01M1747.4 2052.8h.01M1756.7 2043.2h.01M1747.7 2050.6h.01M1750.9 2056.7h.01M1723.2 2013.4h.01M1752.0 2022.8h.01M1728.0 2053.4h.01M1747.7 2053.9h.01M1763.1 2009.5h.01M1711.1 2055.1h.01M1734.1 2053.8h.01M1731.2 2058.9h.01M1725.6 2054.4h.01M1738.9 2059.4h.01M1751.2 2029.6h.01M1762.4 2031.6h.01M1741.0 2058.0h.01M1753.4 2052.4h.01M1765.5 2043.1h.01M1721.9 2053.1h.01M1719.0 2022.9h.01M1729.9 2041.5h.01M1754.9 2045.2h.01M1757.0 2015.0h.01M1723.9 1992.4h.01M1720.7 2053.9h.01M1738.2 2059.6h.01M1733.9 2058.8h.01M1720.2 2053.9h.01M1737.1 2058.0h.01M1752.2 2047.5h.01M1753.8 2047.9h.01M1758.8 2059.4h.01M1723.0 2048.6h.01M1720.1 2049.1h.01M1753.8 2051.3h.01M1737.8 2055.1h.01M1731.1 2059.3h.01M1720.5 2047.3h.01M1747.3 2051.6h.01M1727.1 2056.3h.01M1719.3 2048.2h.01M1751.9 2017.6h.01M1716.0 1992.6h.01M1748.3 2047.3h.01M1757.4 2058.5h.01M1756.2 2051.2h.01M1730.9 2059.4h.01M1748.6 2009.1h.01M1748.7 2043.4h.01M1758.1 2051.6h.01M1727.5 2053.5h.01M1731.8 2059.6h.01M1750.3 2033.5h.01M1751.5 2051.0h.01M1757.0 2047.5h.01M1756.5 2042.6h.01M1753.9 2059.9h.01M1724.6 2049.5h.01M1753.4 2004.9h.01M1743.7 2029.4h.01M1744.4 2057.7h.01M1756.7 2034.0h.01M1728.2 2025.9h.01M1723.4 2054.9h.01M1751.7 2015.4h.01M1717.1 1888.1h.01M1761.9 2028.1h.01M1763.1 2054.5h.01M1721.3 2029.1h.01M1730.5 2047.6h.01M1759.1 2059.4h.01M1752.2 2047.0h.01M1732.8 2052.2h.01M1756.8 2052.2h.01M1729.8 2033.2h.01M1741.1 2058.9h.01M1764.0 1989.8h.01M1754.2 2055.7h.01M1748.5 2058.4h.01M1755.7 2057.8h.01M1748.7 2029.0h.01M1744.4 2058.2h.01M1724.2 2059.5h.01M1749.8 2038.1h.01M1755.5 2045.8h.01M1728.1 2047.6h.01M1748.1 2035.2h.01M1762.1 2056.4h.01M1754.3 2056.8h.01M1753.0 2033.6h.01M1726.0 2058.4h.01M1744.1 2058.8h.01M1731.8 2042.6h.01M1723.3 2058.5h.01M1763.5 2050.4h.01M1727.2 2054.9h.01M1717.2 2045.0h.01M1727.0 2044.3h.01M1731.0 2051.2h.01M1766.6 2035.7h.01M1726.3 2053.1h.01M1728.5 2053.4h.01M1746.3 2057.3h.01M1704.7 2059.2h.01M1732.5 2044.2h.01M1745.3 2053.7h.01M1750.1 2053.7h.01M1754.4 2022.0h.01M1718.4 2053.1h.01M1751.5 2041.9h.01M1732.1 2052.4h.01M1721.4 2039.9h.01M1748.1 2049.6h.01M1718.0 2039.7h.01M1756.6 2037.8h.01M1749.7 2032.2h.01M1729.1 2045.6h.01M1742.9 2042.0h.01M1729.1 2048.0h.01M1750.5 2057.1h.01M1749.8 2046.9h.01M1713.3 2031.7h.01M1722.4 2046.3h.01M1719.0 2016.9h.01M1722.6 2055.2h.01M1751.6 2047.5h.01M1727.2 2003.2h.01M1751.5 2040.8h.01M1752.6 2042.8h.01M1760.2 2045.3h.01M1716.2 2054.2h.01M1756.7 2059.4h.01M1723.1 2042.9h.01M1752.0 2035.2h.01M1717.9 2056.2h.01M1750.2 2057.6h.01M1733.5 2044.2h.01M1726.5 2053.0h.01M1758.4 2053.6h.01M1720.1 2029.7h.01M1711.6 2006.7h.01M1721.6 2057.0h.01M1755.9 2059.2h.01M1753.4 2042.3h.01M1743.7 2050.8h.01M1732.0 2056.1h.01M1720.2 2027.9h.01M1753.8 2045.6h.01M1724.9 2033.3h.01M1764.4 2053.5h.01M1742.2 2051.3h.01M1752.8 2059.4h.01M1733.8 2052.6h.01M1749.7 1985.9h.01M1757.5 2046.9h.01M1715.6 2030.8h.01M1740.3 2057.2h.01M1718.6 2055.0h.01M1735.9 2057.4h.01M1758.1 1962.8h.01M1753.8 2059.4h.01M1724.9 2059.1h.01M1743.0 2049.9h.01M1723.7 2050.9h.01M1748.3 2049.4h.01M1752.9 2049.2h.01M1754.6 2020.1h.01M1721.3 2057.0h.01M1757.1 2058.1h.01M1728.6 2025.8h.01M1748.3 2054.9h.01M1746.4 2059.4h.01M1724.8 2019.6h.01M1720.7 2055.0h.01M1760.1 2054.6h.01M1748.2 2047.2h.01M1755.8 2010.9h.01M1764.4 2028.3h.01M1720.4 2025.2h.01M1752.7 2055.6h.01M1734.4 2055.5h.01M1746.7 1959.1h.01M1751.1 2053.4h.01M1751.3 2055.4h.01M1719.9 2050.3h.01M1729.3 1999.2h.01M1744.6 2035.9h.01M1753.1 2049.9h.01M1721.1 2055.0h.01M1729.2 2037.5h.01M1751.0 2052.9h.01M1716.8 2015.5h.01M1748.4 2056.3h.01M1722.7 2045.8h.01M1724.3 2029.0h.01M1727.1 1977.6h.01M1750.4 2057.6h.01M1719.5 2034.4h.01M1713.7 1999.0h.01M1748.6 2023.6h.01M1748.8 2051.8h.01M1758.9 2028.5h.01M1719.9 2053.7h.01M1747.1 2045.3h.01M1749.7 2047.3h.01M1750.7 2020.0h.01M1749.6 2035.6h.01M1734.0 2059.4h.01M1744.5 2055.8h.01M1720.7 1998.3h.01M1742.7 2051.2h.01M1727.1 2051.9h.01M1751.9 2051.4h.01M1720.2 2057.2h.01M1759.3 2045.4h.01M1741.4 2056.7h.01M1746.0 2048.9h.01M1722.2 2056.8h.01M1736.2 2057.2h.01M1753.6 2019.2h.01M1744.4 2052.4h.01M1742.2 2052.5h.01M1748.1 2048.6h.01M1745.8 2022.6h.01M1757.6 2047.8h.01M1726.7 2015.6h.01M1726.9 2011.3h.01M1723.8 1985.5h.01M1738.0 2058.2h.01M1725.7 1904.5h.01M1745.3 2052.4h.01M1722.9 2054.6h.01M1721.2 2045.9h.01M1753.5 2033.6h.01M1748.1 2054.8h.01M1717.6 2051.8h.01M1726.9 2024.3h.01M1731.1 2057.3h.01M1754.8 2035.5h.01M1730.8 2057.6h.01M1748.0 2055.1h.01M1715.7 2006.9h.01M1729.2 2033.1h.01M1721.9 2051.8h.01M1729.2 2054.0h.01M1720.1 2055.3h.01M1725.5 2049.1h.01M1733.7 2057.7h.01M1734.9 2056.3h.01M1731.8 2049.0h.01M1715.7 2047.4h.01M1753.8 2048.4h.01M1751.7 2031.8h.01M1729.9 2026.2h.01M1747.1 2039.7h.01M1732.6 2052.8h.01M1756.2 2041.4h.01M1716.6 2049.8h.01M1755.9 2043.9h.01M1731.9 2055.9h.01M1754.7 2039.5h.01M1710.2 2047.1h.01M1760.7 2035.8h.01M1717.9 2048.0h.01M1723.2 2051.1h.01M1727.9 2016.0h.01M1749.7 2055.9h.01M1727.9 2020.9h.01M1756.5 2050.6h.01M1742.4 2045.2h.01M1728.4 2047.3h.01M1724.2 2058.8h.01M1744.8 2050.6h.01M1718.7 2023.7h.01M1731.0 2049.4h.01M1761.5 2042.7h.01M1746.2 2049.4h.01M1762.4 2043.9h.01M1729.7 2053.1h.01M1720.8 2049.9h.01M1723.7 2043.9h.01M1747.6 2053.7h.01M1742.8 2058.8h.01M1727.5 2057.6h.01M1744.2 2055.3h.01M1743.8 2052.8h.01M1725.1 2022.0h.01M1733.5 2053.4h.01M1731.4 2052.9h.01M1752.6 2056.7h.01M1730.4 2047.9h.01M1723.5 2033.4h.01M1734.0 2050.7h.01M1722.6 1967.8h.01M1750.3 2051.0h.01M1755.1 2048.1h.01M1731.3 2058.5h.01M1733.6 2055.4h.01M1744.4 2047.4h.01M1714.5 2053.0h.01M1728.6 2055.6h.01M1749.2 2046.7h.01M1755.6 2033.4h.01M1763.1 2055.5h.01M1745.6 2057.7h.01M1753.7 2013.0h.01M1716.5 1966.3h.01M1720.1 2059.0h.01M1731.5 2046.6h.01M1760.2 2057.7h.01M1725.6 2019.0h.01M1729.6 2058.7h.01M1720.3 2038.5h.01M1724.2 1991.9h.01M1735.5 2056.8h.01M1716.5 2052.6h.01M1722.8 2044.4h.01M1754.1 2028.7h.01M1746.6 2053.1h.01M1726.1 2009.1h.01M1719.0 2050.7h.01M1725.2 2051.6h.01M1760.4 2014.7h.01M1763.7 2047.3h.01M1750.5 2049.9h.01M1747.4 1988.9h.01M1727.2 2021.9h.01M1734.1 2050.2h.01M1749.6 2031.5h.01M1746.7 2057.4h.01M1731.9 2056.5h.01M1711.2 1981.4h.01M1749.6 2057.9h.01M1722.3 2020.6h.01M1739.9 2058.5h.01M1753.1 2022.0h.01M1747.9 2037.2h.01M1727.5 2058.3h.01M1716.8 2038.1h.01M1739.8 2058.0h.01M1731.5 2055.8h.01M1722.7 2049.3h.01M1724.7 2053.6h.01M1728.4 2050.9h.01M1748.6 2042.7h.01M1757.7 2048.9h.01M1722.3 2058.9h.01M1730.9 2053.9h.01M1731.1 2042.8h.01M1754.4 2006.8h.01M1725.1 2025.4h.01M1746.9 2028.8h.01M1721.1 2048.8h.01M1743.9 2049.0h.01M1753.9 2056.7h.01M1743.6 2046.3h.01M1719.7 2032.7h.01M1732.0 2043.2h.01M1742.4 2052.7h.01M1766.4 2009.9h.01M1750.1 2025.3h.01M1740.0 2058.5h.01M1737.4 2057.0h.01M1722.9 2049.2h.01M1736.8 2059.8h.01M1750.7 2059.5h.01M1762.9 2058.5h.01M1754.1 2053.0h.01M1719.4 2043.3h.01M1744.7 2058.0h.01M1722.2 2058.6h.01M1762.5 1999.9h.01M1722.6 2058.7h.01M1730.1 2026.5h.01M1760.9 2049.5h.01M1717.8 1773.8h.01M1728.9 2049.0h.01M1751.4 2036.0h.01M1756.4 2007.7h.01M1738.9 2058.7h.01M1759.1 2057.7h.01M1711.3 2057.1h.01M1761.7 2053.4h.01M1761.2 2055.5h.01M1747.5 2052.6h.01M1716.2 1937.2h.01M1725.0 2055.1h.01M1759.9 2055.1h.01M1723.2 2051.3h.01M1749.6 2034.9h.01M1750.2 1929.4h.01M1750.8 2054.5h.01M1751.7 2044.2h.01M1729.5 2022.3h.01M1762.3 2047.9h.01M1750.1 1997.3h.01M1747.1 2015.3h.01M1729.4 2057.1h.01M1751.3 2000.1h.01M1732.9 2059.2h.01M1716.8 2030.3h.01M1745.3 2052.0h.01M1718.3 2054.0h.01M1749.7 2005.9h.01M1728.8 2059.7h.01M1726.7 2049.9h.01M1727.2 2050.3h.01M1747.7 2045.8h.01M1716.6 2051.8h.01M1730.9 2050.8h.01M1757.9 2031.2h.01M1716.0 2024.9h.01M1733.6 2054.2h.01M1762.0 2024.7h.01M1764.3 2027.3h.01M1725.9 2057.8h.01M1751.9 2039.9h.01M1744.3 2050.4h.01M1756.5 2054.4h.01M1722.1 2059.5h.01M1726.6 2044.9h.01M1719.3 2059.0h.01M1722.3 2042.4h.01M1727.2 2053.1h.01M1756.9 2052.2h.01M1755.7 2058.3h.01M1765.6 2056.4h.01M1748.6 2028.7h.01M1756.4 2046.3h.01M1747.4 2050.4h.01M1755.1 2043.2h.01M1725.3 2053.1h.01M1750.7 2032.7h.01M1712.5 2033.5h.01M1721.4 2048.0h.01M1719.2 2050.8h.01M1741.9 2050.4h.01M1729.4 2053.9h.01M1715.9 2045.0h.01M1721.8 2048.0h.01M1731.6 2055.7h.01M1748.3 2038.1h.01M1721.8 2052.3h.01M1763.1 2056.7h.01M1710.1 1998.5h.01M1724.1 2056.9h.01M1761.5 2053.6h.01M1758.9 2018.5h.01M1763.6 1852.0h.01M1750.7 2053.5h.01M1755.6 2028.6h.01M1721.8 2057.6h.01M1754.1 2048.4h.01M1750.5 2040.5h.01M1751.5 2028.0h.01M1725.8 2059.4h.01M1727.1 2059.1h.01M1746.1 2044.6h.01M1748.1 2047.1h.01M1751.1 2042.8h.01M1747.9 2056.0h.01M1718.6 2040.6h.01M1739.1 2057.1h.01M1730.8 2057.7h.01M1748.2 2044.9h.01M1728.3 2056.6h.01M1719.9 1976.7h.01M1762.5 2023.3h.01M1722.4 2058.1h.01M1718.9 1988.0h.01M1726.0 2059.4h.01M1755.8 2044.1h.01M1712.9 2052.2h.01M1719.4 2054.2h.01M1722.7 2049.8h.01M1764.1 1989.3h.01M1715.0 2050.5h.01M1712.0 2059.8h.01M1729.6 2059.5h.01M1754.5 2056.0h.01M1726.4 2056.0h.01M1729.1 2057.3h.01M1717.7 2049.7h.01M1717.3 2051.4h.01M1721.1 2053.2h.01M1738.3 2058.9h.01M1723.9 2055.3h.01M1760.5 2029.6h.01M1724.1 2023.3h.01M1762.4 2034.1h.01M1730.1 2059.3h.01M1758.1 2035.4h.01M1745.3 2057.8h.01M1714.6 2041.2h.01M1748.4 2058.7h.01M1724.5 2016.1h.01M1750.9 2026.4h.01M1722.8 2033.4h.01M1751.5 2039.5h.01M1759.5 2057.6h.01M1745.6 2058.9h.01M1725.5 2017.8h.01M1754.2 2027.3h.01M1741.7 2057.5h.01M1745.7 1997.6h.01M1718.4 2053.5h.01M1743.4 2054.6h.01M1724.2 2025.6h.01M1745.5 2053.5h.01M1745.2 2049.0h.01M1756.7 2044.2h.01M1721.6 2040.7h.01M1732.8 2057.3h.01M1739.3 2058.0h.01M1750.9 1998.1h.01M1715.1 2051.3h.01M1719.3 2054.4h.01M1723.2 2046.7h.01M1722.3 2050.7h.01M1726.9 2059.3h.01M1744.2 2026.6h.01M1717.8 2050.0h.01M1751.1 1983.2h.01M1727.0 2056.6h.01M1723.5 2010.7h.01M1720.4 2047.9h.01M1743.7 2048.0h.01M1728.7 2053.7h.01M1749.8 2054.2h.01M1729.1 2056.0h.01M1759.2 2054.2h.01M1757.3 2043.4h.01M1754.3 2028.9h.01M1752.4 2055.3h.01M1725.6 1974.7h.01M1720.6 1972.5h.01M1747.5 2029.5h.01M1742.7 2052.4h.01M1730.4 2055.3h.01M1719.6 2057.4h.01M1719.1 2052.1h.01M1728.2 2049.5h.01M1745.8 2040.7h.01M1756.3 2052.0h.01M1764.0 2056.4h.01M1718.8 2040.9h.01M1720.4 2049.7h.01M1720.8 2032.3h.01M1731.8 2040.7h.01M1736.3 2057.7h.01M1727.9 2051.5h.01M1740.7 2056.0h.01M1752.0 2051.5h.01M1751.8 2056.1h.01M1722.2 2001.6h.01M1723.4 2056.7h.01M1725.3 2044.3h.01M1719.0 2049.2h.01M1741.3 2059.6h.01M1722.9 1682.2h.01M1747.6 2058.6h.01M1746.9 2024.6h.01M1755.9 1994.6h.01M1757.4 2056.2h.01M1754.5 2051.6h.01M1722.1 2054.9h.01M1752.0 2059.6h.01M1718.4 2059.7h.01M1720.8 2046.0h.01M1728.4 2044.7h.01M1747.1 2037.3h.01M1749.5 2009.3h.01M1726.5 2037.3h.01M1714.0 2053.7h.01M1757.8 2037.9h.01M1730.5 2058.0h.01M1721.3 2040.9h.01M1727.8 2058.4h.01M1725.4 2020.2h.01M1719.8 2025.3h.01M1750.5 2052.2h.01M1759.6 2041.7h.01M1748.8 2028.9h.01M1728.9 2012.3h.01M1758.3 2050.5h.01M1725.6 2024.3h.01M1717.3 2020.8h.01M1749.9 2043.4h.01M1762.3 2010.6h.01M1750.8 1980.8h.01M1731.6 2048.7h.01M1745.9 1899.7h.01M1751.9 2042.1h.01M1755.9 2044.2h.01M1740.9 2056.8h.01M1766.2 2049.6h.01M1760.7 2058.5h.01M1725.0 2056.9h.01M1759.0 2013.5h.01M1742.8 2018.6h.01M1742.5 2056.0h.01M1724.8 2034.5h.01M1757.0 2030.1h.01M1759.9 2043.7h.01M1722.3 1994.0h.01M1722.9 2052.4h.01M1722.5 2056.1h.01M1721.5 2027.5h.01M1755.5 2041.6h.01M1729.0 1997.5h.01M1735.6 2055.5h.01M1745.1 2059.9h.01M1729.9 2057.4h.01M1717.5 1989.2h.01M1719.2 2016.0h.01M1729.3 2057.7h.01M1754.5 2054.9h.01M1752.7 2022.6h.01M1758.4 2033.1h.01M1733.7 2059.3h.01M1750.0 2042.4h.01M1764.9 2047.5h.01M1744.3 2049.2h.01M1716.0 2051.7h.01M1718.0 2026.0h.01M1732.8 2057.4h.01M1752.1 2053.9h.01M1728.4 1870.7h.01M1754.9 2042.5h.01M1721.8 2022.8h.01M1722.5 2034.3h.01M1754.8 2035.7h.01M1723.1 2054.1h.01M1722.7 2052.6h.01M1722.4 1934.8h.01M1751.0 2059.6h.01M1746.3 2044.1h.01M1732.5 2058.8h.01M1743.7 2043.6h.01M1716.8 2038.7h.01M1755.2 2054.7h.01M1718.5 2057.3h.01M1728.6 2059.0h.01M1731.8 2040.9h.01M1759.6 2047.8h.01M1755.2 2013.5h.01M1752.2 2044.4h.01M1756.9 2058.4h.01M1736.0 2057.0h.01M1725.9 2057.9h.01M1733.7 2046.6h.01M1743.8 2036.8h.01M1730.0 2027.4h.01M1731.9 2054.5h.01M1747.0 1991.8h.01M1720.8 2049.1h.01M1713.7 2012.6h.01M1755.0 2043.2h.01M1716.7 2033.0h.01M1724.7 2050.4h.01M1721.0 2055.4h.01M1753.4 2059.7h.01M1755.0 2035.2h.01M1754.3 2049.9h.01M1724.7 2012.4h.01M1733.0 2058.7h.01M1758.3 2048.0h.01M1727.6 2039.6h.01M1717.4 1975.1h.01M1757.2 2054.2h.01M1721.7 2042.9h.01M1719.2 1960.4h.01M1723.5 2046.4h.01M1753.7 1981.4h.01M1729.9 2054.7h.01M1728.8 2057.0h.01M1753.5 2057.2h.01M1748.7 2057.5h.01M1753.4 2056.2h.01M1757.4 2057.9h.01M1721.7 2059.1h.01M1718.4 2020.8h.01M1755.7 2048.0h.01M1722.5 2015.3h.01M1725.7 2054.6h.01M1724.7 2050.3h.01M1716.9 2042.2h.01M1749.0 2042.7h.01M1751.5 2057.2h.01M1744.4 2056.8h.01M1750.5 2054.7h.01M1748.8 2059.0h.01M1725.6 2059.8h.01M1728.3 2059.8h.01M1728.5 2058.0h.01M1756.5 2056.7h.01M1728.6 2041.9h.01M1761.5 2056.1h.01M1718.1 2045.6h.01M1724.1 2058.1h.01M1756.5 2046.9h.01M1718.8 2056.7h.01M1724.2 2024.6h.01M1727.4 2013.7h.01M1745.3 2055.9h.01M1757.5 2039.4h.01M1748.9 2000.2h.01M1719.9 2032.1h.01M1746.6 2056.9h.01M1724.4 2053.7h.01M1714.0 2038.6h.01M1751.8 2051.7h.01M1743.9 2053.3h.01M1748.3 2044.0h.01M1761.2 2058.9h.01M1728.0 2052.3h.01M1731.1 2033.0h.01M1759.5 2027.8h.01M1715.1 2052.2h.01M1757.4 2056.1h.01M1711.9 2038.2h.01M1727.7 2056.5h.01M1766.6 2041.4h.01M1721.5 2048.8h.01M1722.8 1809.2h.01M1731.1 1925.7h.01M1746.6 2055.2h.01M1722.9 2042.3h.01M1727.7 2021.1h.01M1766.0 2022.7h.01M1731.6 2033.8h.01M1717.3 2045.5h.01M1718.5 2003.4h.01M1756.9 2032.8h.01M1720.0 2018.2h.01M1725.0 2048.3h.01M1730.8 2045.4h.01M1745.8 2029.7h.01M1715.4 2049.2h.01M1749.8 2058.2h.01M1730.3 2053.2h.01M1728.0 2058.0h.01M1716.8 2020.9h.01M1720.3 2020.5h.01M1746.1 2031.1h.01M1725.5 2056.5h.01M1719.6 2055.9h.01M1719.9 2036.8h.01M1717.0 2052.1h.01M1758.7 2041.5h.01M1728.0 2044.8h.01M1731.9 2058.0h.01M1720.2 2056.5h.01M1748.7 2043.2h.01M1750.1 2043.8h.01M1751.5 2032.4h.01M1719.1 2057.3h.01M1720.7 2059.7h.01M1727.2 2055.9h.01M1744.3 2048.0h.01M1761.6 2054.8h.01M1727.8 2032.8h.01M1748.8 2043.5h.01M1725.9 2054.1h.01M1748.9 2034.2h.01M1726.7 2043.8h.01M1744.4 2057.4h.01M1715.4 2059.4h.01M1747.9 2046.1h.01M1724.9 2052.5h.01M1716.1 2028.4h.01M1737.1 2055.6h.01M1724.2 2035.4h.01M1718.1 2027.3h.01M1722.7 2045.3h.01M1726.6 2014.1h.01M1758.5 2052.2h.01M1749.5 2003.4h.01M1724.0 2043.4h.01M1749.4 2051.3h.01M1734.3 2053.1h.01M1714.3 2028.9h.01M1730.3 2043.3h.01M1750.6 2053.1h.01M1724.3 2042.4h.01M1746.7 2059.4h.01M1729.4 2048.2h.01M1722.7 1977.0h.01M1710.5 1990.9h.01M1719.1 2054.2h.01M1718.2 2058.0h.01M1735.9 2055.7h.01M1731.5 2024.2h.01M1748.9 2047.6h.01M1741.1 2057.5h.01M1720.5 2051.6h.01M1744.1 2047.6h.01M1725.5 2056.5h.01M1746.8 2024.5h.01M1731.1 2059.6h.01M1730.3 2054.4h.01M1722.2 2059.6h.01M1751.9 2020.3h.01M1724.3 2052.6h.01M1759.5 2038.6h.01M1753.2 2054.1h.01M1748.7 2043.6h.01M1720.6 2053.9h.01M1733.8 2055.8h.01M1757.6 2052.2h.01M1722.6 2052.8h.01M1717.6 2059.9h.01M1749.9 2027.8h.01M1720.3 2042.7h.01M1730.7 2055.4h.01M1742.1 2055.5h.01M1755.5 2030.3h.01M1755.6 2049.8h.01M1720.5 1996.2h.01M1721.8 2048.7h.01M1727.1 2047.9h.01M1761.8 2051.5h.01M1743.0 2056.4h.01M1733.0 2059.6h.01M1756.6 2029.7h.01M1748.1 2045.9h.01M1731.5 2047.2h.01M1722.9 2037.1h.01M1725.0 2034.6h.01M1727.1 2039.2h.01M1763.6 2040.3h.01M1740.4 2058.4h.01M1746.3 2043.4h.01M1721.6 2035.0h.01M1725.9 2011.7h.01M1757.4 2055.1h.01M1726.7 2033.0h.01M1718.0 2028.2h.01M1728.2 2059.9h.01M1756.2 2044.1h.01M1735.9 2055.7h.01M1717.6 2054.7h.01M1733.7 2048.8h.01M1730.6 2041.6h.01M1736.0 2056.4h.01M1748.5 2047.9h.01M1750.5 2041.1h.01M1722.5 2026.4h.01M1718.7 2028.6h.01M1728.1 2053.3h.01M1745.1 2032.0h.01M1717.9 2054.5h.01M1729.1 2038.6h.01M1721.9 2057.2h.01M1763.8 2018.0h.01M1743.1 2050.0h.01M1755.3 2045.6h.01M1717.4 2043.2h.01M1754.1 2033.7h.01M1718.3 2051.9h.01M1719.6 2054.1h.01M1719.2 2052.9h.01M1718.7 2043.5h.01M1749.3 2052.5h.01M1712.6 2042.2h.01M1749.3 2058.4h.01M1729.6 2052.5h.01M1746.8 2058.1h.01M1716.7 2056.0h.01M1728.4 2012.5h.01M1721.1 2048.8h.01M1752.1 2042.6h.01M1726.9 2030.4h.01M1715.2 2015.5h.01M1730.5 2041.1h.01M1742.6 2049.3h.01M1745.0 2051.4h.01M1713.8 2031.8h.01M1724.1 2052.4h.01M1732.6 2033.9h.01M1750.5 2048.1h.01M1712.8 2026.0h.01M1747.0 2053.3h.01M1733.7 2054.7h.01M1745.7 2051.0h.01M1760.2 2055.5h.01M1745.5 2051.7h.01M1744.5 2057.8h.01M1756.5 2059.4h.01M1723.8 2031.0h.01M1759.4 2038.9h.01M1749.4 2040.1h.01M1731.4 2050.3h.01M1752.5 2058.7h.01M1743.2 2041.6h.01M1728.0 2050.7h.01M1723.9 2035.3h.01M1752.6 2051.5h.01M1723.5 2049.9h.01M1758.0 1957.4h.01M1765.4 2045.2h.01M1721.9 1655.3h.01M1725.9 2056.6h.01M1730.6 2047.3h.01M1721.0 2024.9h.01M1730.2 2042.6h.01M1717.8 2022.0h.01M1743.8 2055.6h.01M1728.6 2016.0h.01M1761.1 2016.0h.01M1741.8 2055.7h.01M1746.4 2056.1h.01M1725.0 2044.0h.01M1761.9 2012.1h.01M1755.6 2046.4h.01M1720.0 2036.8h.01M1731.0 2043.0h.01M1739.6 2056.6h.01M1726.2 1978.2h.01M1749.6 2038.8h.01M1722.6 1997.9h.01M1718.7 2039.1h.01M1726.5 2043.0h.01M1729.0 1987.5h.01M1743.6 2038.8h.01M1750.7 2037.6h.01M1741.4 2055.6h.01M1728.5 2050.1h.01M1752.6 2058.3h.01M1731.0 2025.0h.01M1726.5 2054.0h.01M1763.4 2053.5h.01M1723.8 2044.4h.01M1745.6 2059.2h.01M1720.4 2048.9h.01M1746.0 2004.2h.01M1744.0 2042.9h.01M1763.7 2027.7h.01M1724.2 2028.7h.01M1760.2 2032.0h.01M1724.3 1921.5h.01M1715.2 2027.1h.01M1719.2 2044.6h.01M1752.1 2050.9h.01M1728.2 2057.5h.01M1761.5 1988.9h.01M1730.1 2023.9h.01M1726.2 2052.4h.01M1759.4 2032.7h.01M1729.6 2056.9h.01M1745.8 2054.5h.01M1747.9 2042.7h.01M1714.8 2056.1h.01M1742.0 2050.1h.01M1717.5 2036.9h.01M1725.9 2059.3h.01M1756.3 1913.1h.01M1735.9 2059.5h.01M1755.0 2039.4h.01M1725.4 2036.0h.01M1729.8 2027.5h.01M1754.0 2039.2h.01M1726.2 2043.7h.01M1725.1 1947.5h.01M1715.7 2042.4h.01M1752.4 2052.3h.01M1741.7 2053.8h.01M1730.4 2054.2h.01M1733.4 2050.2h.01M1717.9 2039.9h.01M1747.6 2056.7h.01M1753.6 1989.5h.01M1715.7 2052.2h.01M1712.9 2027.6h.01M1750.0 2028.5h.01M1723.8 2056.8h.01M1729.3 2048.9h.01M1728.0 2022.0h.01M1724.1 2041.9h.01M1736.1 2057.3h.01M1751.8 2052.2h.01M1754.8 2027.3h.01M1744.3 2058.6h.01M1730.5 2047.8h.01M1729.2 2051.3h.01M1764.8 2052.8h.01M1709.0 2058.7h.01M1754.5 2042.2h.01M1729.1 2054.4h.01M1729.2 2050.6h.01M1728.7 2059.2h.01M1764.5 2017.9h.01M1758.6 2036.7h.01M1724.2 2046.6h.01M1753.5 2031.7h.01M1720.2 2058.9h.01M1727.8 2047.4h.01M1712.4 2026.5h.01M1754.7 2034.3h.01M1746.8 2046.2h.01M1724.3 1911.8h.01M1736.2 2059.2h.01M1733.7 2035.9h.01M1731.2 2053.4h.01M1714.8 1961.7h.01M1762.5 2027.7h.01M1725.5 2043.3h.01M1714.7 2054.9h.01M1723.2 2047.7h.01M1753.1 2033.4h.01M1748.0 2057.6h.01M1733.6 2050.2h.01M1751.3 2056.1h.01M1748.9 2051.7h.01M1753.2 2051.2h.01M1763.3 2049.2h.01M1749.3 2052.4h.01M1729.0 2053.1h.01M1751.7 2023.0h.01M1750.0 2040.9h.01M1719.7 2044.3h.01M1760.9 2058.1h.01M1758.7 2023.7h.01M1745.6 2045.7h.01M1730.6 2054.5h.01M1750.5 2052.0h.01M1725.5 2058.0h.01M1719.2 2025.3h.01M1757.3 2038.1h.01M1726.2 2047.6h.01M1727.0 2054.8h.01M1752.7 2049.4h.01M1758.4 2053.5h.01M1755.5 2048.5h.01M1721.1 2053.3h.01M1759.3 1992.2h.01M1745.9 2048.9h.01M1759.4 2004.7h.01M1719.0 2045.7h.01M1715.7 2058.0h.01M1748.8 2027.2h.01M1732.4 2049.7h.01M1729.1 2044.9h.01M1731.5 2046.6h.01M1731.8 1992.4h.01M1756.9 2048.6h.01M1753.0 2050.7h.01M1758.5 1788.1h.01M1731.1 2058.8h.01M1750.1 2045.7h.01M1761.0 2044.1h.01M1765.0 2009.7h.01M1760.1 2008.2h.01M1726.4 2049.9h.01M1747.9 2005.9h.01M1726.3 2051.0h.01M1734.0 2055.9h.01M1752.5 2045.5h.01M1727.0 2046.7h.01M1730.1 2059.7h.01M1743.3 2056.6h.01M1733.7 2052.6h.01M1763.9 2026.3h.01M1756.0 2058.6h.01M1730.3 2058.4h.01M1758.9 2039.3h.01M1710.6 1983.5h.01M1719.9 2022.7h.01M1750.8 2056.6h.01M1721.5 2034.8h.01M1764.8 2059.5h.01M1719.0 2056.1h.01M1729.0 2056.3h.01M1731.0 2049.4h.01M1731.0 2054.8h.01M1746.3 2054.4h.01M1733.1 2056.8h.01M1754.5 2054.5h.01M1747.6 2040.5h.01M1723.4 2058.6h.01M1730.7 2034.6h.01M1743.2 2036.2h.01M1752.6 2039.1h.01M1727.2 2058.6h.01M1711.1 2035.5h.01M1723.6 2056.8h.01M1749.7 2030.0h.01M1730.2 2019.1h.01M1715.6 2043.7h.01M1749.1 2027.1h.01M1758.3 2040.3h.01M1752.9 2037.6h.01M1760.7 2051.9h.01M1716.1 2049.7h.01M1724.5 2031.2h.01M1752.8 2014.3h.01M1761.5 2049.8h.01M1749.1 2055.4h.01M1723.6 2057.1h.01M1721.8 2054.7h.01M1758.8 2041.9h.01M1745.3 2050.5h.01M1723.5 1989.3h.01M1764.3 2055.5h.01M1718.1 2012.7h.01M1719.6 2036.8h.01M1716.6 2058.7h.01M1725.9 1894.4h.01M1717.3 1947.5h.01M1749.7 2044.1h.01M1765.5 2027.0h.01M1736.1 2058.4h.01M1712.7 2051.3h.01M1713.1 2048.8h.01M1755.8 2055.3h.01M1751.3 2025.7h.01M1756.9 2050.0h.01M1713.0 1997.7h.01M1721.6 2056.3h.01M1746.4 2057.9h.01M1755.1 2036.8h.01M1730.8 1998.2h.01M1721.5 2048.8h.01M1723.5 2054.4h.01M1744.8 2056.1h.01M1750.2 2024.4h.01M1737.7 2059.3h.01M1719.7 2046.2h.01M1746.9 2046.1h.01M1736.1 2055.1h.01M1752.8 2052.4h.01M1725.8 2057.8h.01M1759.1 2058.2h.01M1750.3 2037.1h.01M1731.1 2053.1h.01M1751.4 2044.7h.01M1726.5 2049.3h.01M1737.5 2056.6h.01M1759.2 2016.8h.01M1734.3 2048.0h.01M1745.7 2053.5h.01M1726.7 2036.5h.01M1727.5 2046.5h.01M1727.6 2035.6h.01M1723.6 2048.5h.01M1746.8 2002.8h.01M1719.2 2046.2h.01M1759.1 2010.3h.01M1723.3 2037.4h.01M1745.1 2040.3h.01M1750.4 2057.1h.01M1715.7 2041.7h.01M1757.6 2057.4h.01M1714.1 2057.5h.01M1726.4 2033.2h.01M1762.6 2042.4h.01M1750.3 2046.1h.01M1721.2 2056.7h.01M1736.5 2056.7h.01M1753.3 2038.6h.01M1746.5 2009.2h.01M1715.0 2048.2h.01M1756.4 2054.3h.01M1758.4 2036.8h.01M1746.7 2045.9h.01M1724.1 2051.4h.01M1748.2 2045.1h.01M1763.9 2052.5h.01M1715.8 2040.1h.01M1752.1 2018.6h.01M1732.7 2051.9h.01M1716.5 2026.5h.01M1711.2 1994.8h.01M1731.6 2057.6h.01M1749.4 2049.9h.01M1720.5 2046.3h.01M1730.8 2049.9h.01M1746.3 2032.6h.01M1754.7 2051.2h.01M1715.3 2053.6h.01M1745.7 2059.7h.01M1760.3 2056.5h.01M1728.7 2057.7h.01M1728.2 2053.0h.01M1734.2 2050.1h.01M1753.3 2047.7h.01M1760.8 2057.7h.01M1727.0 2003.3h.01M1758.8 2048.5h.01M1732.1 2050.2h.01M1712.1 2058.2h.01M1745.6 2058.1h.01M1721.9 2040.6h.01M1714.2 2041.9h.01M1753.0 2057.9h.01M1743.1 2034.7h.01M1727.4 2047.9h.01M1746.4 2049.7h.01M1738.5 2059.6h.01M1756.0 2059.8h.01M1720.6 2059.3h.01M1757.4 2058.5h.01M1717.1 2058.9h.01M1760.7 2058.1h.01M1789.9 2058.4h.01M1778.6 2059.1h.01M1768.7 2057.9h.01M1685.7 2058.2h.01M1726.9 2059.1h.01M1755.6 2059.4h.01M1794.5 2059.4h.01M1733.8 2058.7h.01M1806.5 2058.5h.01M1714.3 2059.1h.01M1761.0 2057.8h.01M1758.4 2059.3h.01M1807.8 2059.8h.01M1635.5 2058.4h.01M1769.1 2058.8h.01M1742.7 2059.6h.01M1699.2 2059.6h.01M1828.9 2059.7h.01M1726.7 2057.6h.01M1733.9 2059.4h.01M1712.4 2059.4h.01M1728.4 2059.1h.01M1753.8 2057.8h.01M1772.9 2059.4h.01M1700.7 2057.6h.01M1746.4 2058.7h.01M1784.0 2059.0h.01M1743.6 2059.7h.01M1774.3 2059.2h.01M1658.4 2058.9h.01M1779.8 2058.5h.01M1748.5 2058.5h.01M1789.1 2058.6h.01M1766.2 2059.1h.01M1814.5 2058.6h.01M1739.8 2058.6h.01M1762.9 2059.3h.01M1763.2 2059.1h.01M1774.1 2058.9h.01M1763.2 2058.5h.01M1728.9 2059.7h.01M1695.9 2058.8h.01M1690.1 2058.0h.01M1711.3 2058.2h.01M1808.5 2058.7h.01M1747.0 2058.4h.01M1785.4 2058.1h.01M1771.0 2058.0h.01M1807.1 2059.4h.01M1793.4 2058.6h.01M1662.7 2059.2h.01M1768.1 2058.2h.01M1718.7 2058.2h.01M1681.2 2057.9h.01M1783.6 2058.6h.01M1709.6 2058.6h.01M1691.0 2058.3h.01M1724.0 2059.1h.01M1723.0 2059.4h.01M1750.8 2057.9h.01M1724.4 2058.2h.01M1769.9 2058.5h.01M1687.3 2057.9h.01M1781.2 2059.4h.01M1716.3 2058.3h.01M1714.6 2058.2h.01M1749.6 2057.7h.01M1751.1 2059.1h.01M1757.4 2058.6h.01M1750.8 2057.9h.01M1716.8 2057.8h.01M1691.7 2059.1h.01M1728.7 2057.8h.01M1688.2 2058.8h.01M1750.0 2058.2h.01M1701.7 2059.8h.01M1748.8 2059.5h.01M1704.5 2058.5h.01M1664.9 2058.8h.01M1723.5 2059.8h.01M1728.1 2058.6h.01M1674.6 2059.2h.01M1732.1 2058.1h.01M1768.3 2058.7h.01M1753.6 2058.8h.01M1783.4 2059.3h.01M1793.3 2059.3h.01M1780.1 2058.0h.01M1769.8 2058.1h.01M1694.7 2058.7h.01M1768.8 2059.6h.01M1749.1 2058.4h.01M1728.7 2058.9h.01M1755.1 2058.2h.01M1700.1 2058.8h.01M1752.9 2058.6h.01M1767.5 2058.4h.01M1677.2 2058.0h.01M1748.3 2059.6h.01M1655.4 2058.4h.01M1729.1 2059.3h.01M1691.7 2059.5h.01M1757.5 2059.6h.01M1760.1 2058.0h.01M1757.1 2058.9h.01M1713.8 2058.4h.01M1757.6 2058.9h.01M1697.8 2057.9h.01M1669.1 2058.2h.01M1712.0 2058.8h.01M1688.5 2058.2h.01M1792.8 2057.8h.01M1757.5 2059.9h.01M1741.7 2059.4h.01M1739.6 2057.9h.01M1800.6 2059.2h.01M1719.4 2058.1h.01M1721.0 2058.5h.01M1732.1 2057.9h.01M1705.0 2059.4h.01M1752.3 2058.2h.01M1759.9 2058.1h.01M1733.3 2057.7h.01M1772.7 2059.7h.01M1715.2 2059.9h.01M1777.0 2057.7h.01M1717.0 2057.9h.01M1663.5 2058.2h.01M1786.8 2057.9h.01M1678.2 2058.9h.01M1744.1 2058.6h.01M1785.2 2059.1h.01M1745.2 2059.8h.01M1725.2 2058.0h.01M1639.3 2058.7h.01M1742.6 2058.4h.01M1771.4 2059.7h.01M1763.2 2059.6h.01M1718.3 2059.3h.01M1741.0 2059.2h.01M1765.3 2057.8h.01M1697.1 2058.0h.01M1711.2 2059.5h.01M1681.4 2058.8h.01M1718.8 2058.9h.01M1720.2 2059.2h.01M1783.5 2059.6h.01M1718.5 2058.8h.01M1768.2 2058.2h.01M1747.9 2057.8h.01M1715.9 2058.1h.01M1711.2 2059.6h.01M1775.2 2059.1h.01M1700.8 2058.4h.01M1721.1 2058.5h.01M1773.9 2058.3h.01M1715.4 2058.7h.01M1729.3 2057.7h.01M1728.7 2059.3h.01M1724.9 2058.3h.01M1721.2 2058.2h.01M1843.5 2057.9h.01M1710.1 2057.8h.01M1744.6 2057.7h.01M1703.7 2057.9h.01M1752.5 2059.5h.01M1734.3 2058.6h.01M1744.1 2058.3h.01M1675.4 2058.8h.01M1751.3 2059.2h.01M1696.6 2059.5h.01M1806.5 2058.6h.01M1785.0 2058.5h.01M1757.8 2059.7h.01M1749.2 2059.9h.01M1727.0 2058.3h.01M1771.9 2058.7h.01M1751.6 2059.9h.01M1757.1 2059.7h.01M1686.6 2058.0h.01M1713.0 2058.8h.01M1744.1 2058.8h.01M1730.7 2058.7h.01M1734.5 2058.9h.01M1769.1 2059.7h.01M1695.4 2059.8h.01M1736.6 2058.9h.01M1709.0 2059.4h.01M1649.5 2058.3h.01M1781.6 2059.8h.01M1770.5 2059.3h.01M1750.9 2058.9h.01M1757.4 2059.7h.01M1737.2 2058.2h.01M1757.0 2059.3h.01M1686.4 2058.1h.01M1813.2 2058.5h.01M1759.7 2057.9h.01M1776.2 2058.8h.01M1743.7 2057.9h.01M1731.5 2057.8h.01M1728.5 2058.6h.01M1770.4 2059.9h.01M1708.4 2058.3h.01M1659.4 2059.2h.01M1741.8 2059.2h.01M1764.1 2059.0h.01M1717.6 2058.7h.01M1779.0 2058.4h.01M1754.5 2059.2h.01M1748.3 2059.4h.01M1726.9 2057.7h.01M1758.1 2057.9h.01M1681.1 2058.8h.01M1732.3 2058.4h.01M1685.4 2058.3h.01M1745.4 2059.8h.01M1737.1 2057.7h.01M1738.9 2058.3h.01M1727.6 2058.9h.01M1734.6 2059.3h.01M1685.8 2058.9h.01M1719.2 2059.9h.01M1718.7 2058.5h.01M1746.2 2059.5h.01M1774.8 2058.3h.01M1687.0 2057.9h.01M1712.8 2057.6h.01M1750.2 2059.2h.01M1695.2 2057.8h.01M1743.7 2058.2h.01M1794.5 2057.9h.01M1721.6 2058.1h.01M1775.8 2058.4h.01M1779.1 2058.7h.01M1730.1 2059.1h.01M1694.6 2057.7h.01M1687.1 2058.4h.01M1760.0 2058.1h.01M1764.4 2059.3h.01M1769.6 2058.1h.01M1741.2 2057.6h.01M1771.5 2057.7h.01M1807.7 2058.2h.01M1711.2 2057.7h.01M1713.8 2058.7h.01M1767.2 2059.6h.01M1696.7 2058.3h.01M1736.8 2058.6h.01M1784.9 2059.1h.01M1698.2 2059.2h.01M1732.1 2058.3h.01M1779.1 2057.7h.01M1767.3 2059.4h.01M1741.7 2058.1h.01M1775.1 2059.3h.01M1737.6 2059.1h.01M1665.0 2059.7h.01M1798.3 2058.8h.01M1739.4 2057.7h.01M1754.3 2057.8h.01M1734.3 2059.0h.01M1812.8 2059.6h.01M1690.7 2059.8h.01M1761.1 2058.1h.01M1782.9 2059.3h.01M1822.6 2058.2h.01M1755.3 2058.0h.01M1741.0 2058.2h.01M1704.3 2058.4h.01M1679.3 2057.9h.01M1814.1 2058.8h.01M1736.3 2057.8h.01M1732.1 2058.3h.01M1749.5 2057.8h.01M1755.3 2058.5h.01M1772.6 2058.0h.01M1768.8 2058.4h.01M1758.7 2059.7h.01M1713.1 2057.7h.01M1814.3 2059.6h.01M1706.8 2059.1h.01M1796.3 2057.9h.01M1817.0 2058.6h.01M1733.3 2058.5h.01M1712.9 2058.0h.01M1796.2 2058.4h.01M1668.1 2059.5h.01M1764.4 2058.6h.01M1645.9 2058.8h.01M1729.8 2059.7h.01M1745.5 2059.4h.01M1730.9 2057.8h.01M1720.9 2059.3h.01M1827.8 2058.2h.01M1760.2 2059.5h.01M1692.2 2059.6h.01M1665.1 2058.9h.01M1754.7 2059.3h.01M1740.5 2059.5h.01M1781.2 2058.9h.01M1769.0 2058.0h.01M1750.1 2059.3h.01M1729.4 2058.3h.01M1763.8 2059.2h.01M1782.4 2058.4h.01M1753.4 2057.8h.01M1703.1 2059.4h.01M1733.6 2057.8h.01M1750.0 2057.7h.01M1733.6 2058.7h.01M1810.6 2057.9h.01M1702.2 2059.5h.01M1779.1 2058.7h.01M1739.0 2059.0h.01M1748.3 2058.1h.01M1715.9 2059.5h.01M1729.8 2058.6h.01M1735.9 2058.5h.01M1754.4 2059.2h.01M1719.4 2059.4h.01M1714.0 2059.2h.01M1699.5 2057.9h.01M1806.3 2058.7h.01M1650.9 2059.6h.01M1740.8 2057.7h.01M1653.2 2059.0h.01M1705.9 2058.3h.01M1769.2 2059.3h.01M1769.7 2059.3h.01M1732.4 2059.7h.01M1718.1 2058.3h.01M1766.6 2058.7h.01M1746.1 2059.7h.01M1758.1 2058.1h.01M1705.9 2058.2h.01M1712.7 2058.1h.01M1730.0 2057.9h.01M1758.9 2058.1h.01M1777.3 2058.3h.01M1741.1 2058.7h.01M1657.0 2058.6h.01M1755.2 2058.7h.01M1767.7 2057.9h.01M1717.4 2058.0h.01M1753.6 2058.7h.01M1709.4 2059.4h.01M1731.1 2059.0h.01M1784.1 2058.6h.01M1722.4 2057.7h.01M1700.0 2058.5h.01M1697.4 2057.9h.01M1714.2 2058.4h.01M1707.9 2058.2h.01M1792.9 2058.0h.01M1751.6 2059.7h.01M1782.0 2058.3h.01M1741.2 2059.5h.01M1712.0 2058.7h.01M1756.3 2058.6h.01M1699.1 2059.6h.01M1716.2 2058.7h.01M1772.8 2058.2h.01M1707.6 2059.8h.01M1725.7 2059.8h.01M1681.8 2058.8h.01M1729.4 2059.0h.01M1765.2 2059.5h.01M1681.5 2058.3h.01M1752.2 2058.2h.01M1735.6 2058.3h.01M1710.7 2059.7h.01M1798.5 2058.0h.01M1777.6 2057.8h.01M1735.5 2057.7h.01M1733.6 2058.7h.01M1816.1 2059.5h.01M1698.3 2058.7h.01M1753.5 2058.7h.01M1766.3 2059.4h.01M1717.4 2059.3h.01M1734.4 2058.1h.01M1748.9 2059.9h.01M1745.7 2058.9h.01M1723.3 2058.7h.01M1769.9 2058.2h.01M1754.7 2058.7h.01M1815.3 2058.1h.01M1768.1 2058.6h.01M1770.4 2059.7h.01M1735.7 2059.3h.01M1780.6 2057.8h.01M1729.6 2059.7h.01M1740.9 2059.3h.01M1714.1 2059.3h.01M1737.7 2059.8h.01M1758.4 2059.7h.01M1728.2 2059.2h.01M1752.8 2058.1h.01M1782.3 2059.3h.01M1734.0 2058.1h.01M1715.5 2059.3h.01M1772.3 2059.1h.01M1757.2 2059.8h.01M1692.7 2059.1h.01M1729.7 2058.9h.01M1777.5 2057.8h.01M1706.0 2059.7h.01M1729.9 2059.3h.01M1744.4 2058.3h.01M1750.3 2059.3h.01M1723.9 2058.0h.01M1782.1 2058.4h.01M1789.9 2057.7h.01M1766.0 1670.0h.01M1718.1 1687.8h.01M1712.4 1689.4h.01M1730.1 1689.4h.01M1748.9 1689.4h.01M1745.2 1703.9h.01M1751.8 1716.9h.01M1756.6 1728.2h.01M1716.7 1755.7h.01M1723.8 1754.1h.01M1717.6 1771.9h.01M1727.3 1770.3h.01M1718.7 1776.8h.01M1763.2 1789.7h.01M1757.5 1799.4h.01M1715.3 1814.0h.01M1751.8 1818.8h.01M1733.0 1822.1h.01M1732.4 1830.1h.01M1734.7 1831.8h.01M1709.6 1826.9h.01M1747.5 1835.0h.01M1749.5 1849.6h.01M1759.5 1851.2h.01M1711.0 1841.5h.01M1750.9 1854.4h.01M1758.0 1862.5h.01M1762.3 1864.1h.01M1755.2 1869.0h.01M1712.4 1875.4h.01M1726.7 1875.4h.01M1723.8 1881.9h.01M1748.1 1878.7h.01M1760.3 1891.6h.01M1721.0 1891.6h.01M1716.7 1898.1h.01M1712.4 1901.3h.01M1746.6 1899.7h.01M1749.5 1901.3h.01M1752.3 1904.6h.01M1748.1 1909.4h.01M1750.1 1914.3h.01M1766.0 1912.7h.01M1725.3 1917.5h.01M1729.5 1924.0h.01M1750.9 1922.4h.01M1746.6 1927.2h.01M1722.4 1930.5h.01M1718.1 1935.3h.01M1749.5 1933.7h.01M1753.8 1940.2h.01M1746.6 1943.4h.01M1721.0 1946.6h.01M1725.3 1953.1h.01M1750.9 1949.9h.01M1755.2 1956.3h.01M1723.8 1959.6h.01M1748.1 1962.8h.01M1759.5 1959.6h.01M1728.1 1966.1h.01M1752.3 1969.3h.01M1722.4 1972.5h.01M1749.5 1975.8h.01M1756.6 1979.0h.01M1725.3 1979.0h.01M1721.0 1982.2h.01M1750.9 1985.5h.01M1746.6 1988.7h.01M1718.4 1987.8h.01M1747.6 1995.4h.01M1726.6 2005.9h.01M1728.7 2007.2h.01M1721.6 1993.4h.01M1719.5 1957.3h.01M1746.7 2006.6h.01M1726.0 1991.4h.01M1724.4 2010.4h.01M1748.6 1995.3h.01M1722.7 1980.9h.01M1723.8 1991.4h.01M1728.2 1976.4h.01M1751.1 1997.0h.01M1723.8 1958.0h.01M1721.0 2006.2h.01M1754.0 1969.6h.01M1728.0 1982.8h.01M1746.4 1987.5h.01M1757.6 2013.2h.01M1720.6 2009.1h.01M1750.2 1960.2h.01M1758.3 1967.5h.01M1756.6 1983.9h.01M1750.5 1871.3h.01M1726.1 1978.5h.01M1729.1 2010.6h.01M1718.3 1996.3h.01M1752.0 1994.5h.01M1747.5 1945.8h.01M1750.4 2009.4h.01M1717.9 2001.4h.01M1756.8 2000.7h.01M1723.8 1999.6h.01M1754.9 2003.7h.01M1728.7 2007.2h.01M1722.9 2001.9h.01M1757.6 2001.1h.01M1720.7 1987.6h.01M1727.7 2004.1h.01M1721.5 1969.5h.01M1755.1 1979.1h.01M1756.6 1977.8h.01M1758.5 1974.8h.01M1748.6 1968.4h.01M1753.6 1987.9h.01M1728.0 1950.2h.01M1718.5 2010.0h.01M1728.0 1989.4h.01M1724.4 2009.1h.01M1750.9 2009.8h.01M1753.3 2002.3h.01M1729.7 1998.2h.01M1751.1 1945.6h.01M1754.1 2003.6h.01M1751.7 2006.3h.01M1719.3 2006.1h.01M1753.1 1923.9h.01M1746.8 2004.2h.01M1758.8 1989.3h.01M1754.8 2012.9h.01M1721.8 1997.3h.01M1718.8 1956.8h.01M1727.0 1988.9h.01M1748.0 2004.6h.01M1719.8 2008.0h.01M1723.4 1973.1h.01M1746.8 1989.5h.01M1754.9 1988.9h.01M1729.6 1996.6h.01M1729.6 2006.5h.01M1747.7 1993.4h.01M1751.9 1960.9h.01M1722.5 2009.1h.01M1727.1 2010.4h.01M1747.3 1956.9h.01M1755.4 1970.4h.01M1748.4 2002.4h.01M1756.3 1996.3h.01M1729.3 2012.0h.01M1728.8 1971.0h.01M1748.2 1970.7h.01M1751.9 1973.4h.01M1717.9 1893.0h.01M1750.5 1999.9h.01M1728.5 1992.9h.01M1749.8 1924.6h.01M1720.4 1984.4h.01M1730.1 1980.2h.01M1726.5 2008.8h.01M1728.3 1959.3h.01M1753.6 1975.7h.01M1756.7 2013.5h.01M1750.9 2004.0h.01M1728.3 1999.5h.01M1751.1 1938.1h.01M1717.9 1999.1h.01M1751.7 1993.4h.01M1751.7 1999.0h.01M1726.1 2005.0h.01M1720.5 1877.7h.01M1717.4 1987.8h.01M1753.0 1967.5h.01M1749.7 1980.6h.01M1748.9 1914.1h.01M1755.7 1990.3h.01M1747.7 1954.3h.01M1727.7 1962.2h.01M1758.3 1985.7h.01M1719.6 1990.7h.01M1754.4 1970.2h.01M1728.2 1878.8h.01M1719.7 1959.6h.01M1751.8 1939.5h.01M1747.3 1982.0h.01M1757.6 1996.3h.01M1749.7 2008.5h.01M1723.2 1962.3h.01M1728.2 1990.9h.01M1750.1 1945.2h.01M1746.3 2004.9h.01M1756.2 1995.3h.01M1717.7 1996.2h.01M1749.4 2003.5h.01M1757.2 1972.7h.01M1719.5 1954.0h.01M1720.4 1965.0h.01M1717.3 2012.6h.01M1751.8 1794.6h.01M1746.2 1974.0h.01M1753.4 2007.6h.01M1725.1 1893.3h.01M1719.9 2012.3h.01M1756.7 1990.1h.01M1726.6 1998.2h.01M1754.1 1971.7h.01M1720.6 1996.0h.01M1719.0 1921.2h.01M1729.0 1921.3h.01M1756.6 2007.2h.01M1755.1 1968.5h.01M1718.3 1992.0h.01M1752.4 1984.6h.01M1719.5 1872.4h.01M1757.7 2006.7h.01M1755.5 2001.7h.01M1727.4 1995.0h.01M1752.9 1967.9h.01M1724.0 2013.4h.01M1755.9 2010.1h.01M1714.7 1636.0h.01M1715.6 1636.0h.01M1716.4 1636.0h.01M1717.3 1636.0h.01M1718.1 1636.0h.01M1719.0 1636.0h.01M1719.9 1636.0h.01M1720.7 1636.0h.01M1721.6 1636.0h.01M1744.9 1636.0h.01M1745.8 1636.0h.01M1746.6 1636.0h.01M1747.5 1636.0h.01M1748.4 1636.0h.01M1749.2 1636.0h.01M1750.1 1636.0h.01M1750.9 1636.0h.01M1751.8 1636.0h.01M1752.6 1636.0h.01M1753.5 1636.0h.01M1754.3 1636.0h.01M1755.2 1636.0h.01M1756.1 1636.0h.01M1756.9 1636.0h.01M1757.8 1636.0h.01M1758.6 1636.0h.01M1759.5 1636.0h.01M1764.3 1636.0h.01"/>
</svg>
</body></html>
